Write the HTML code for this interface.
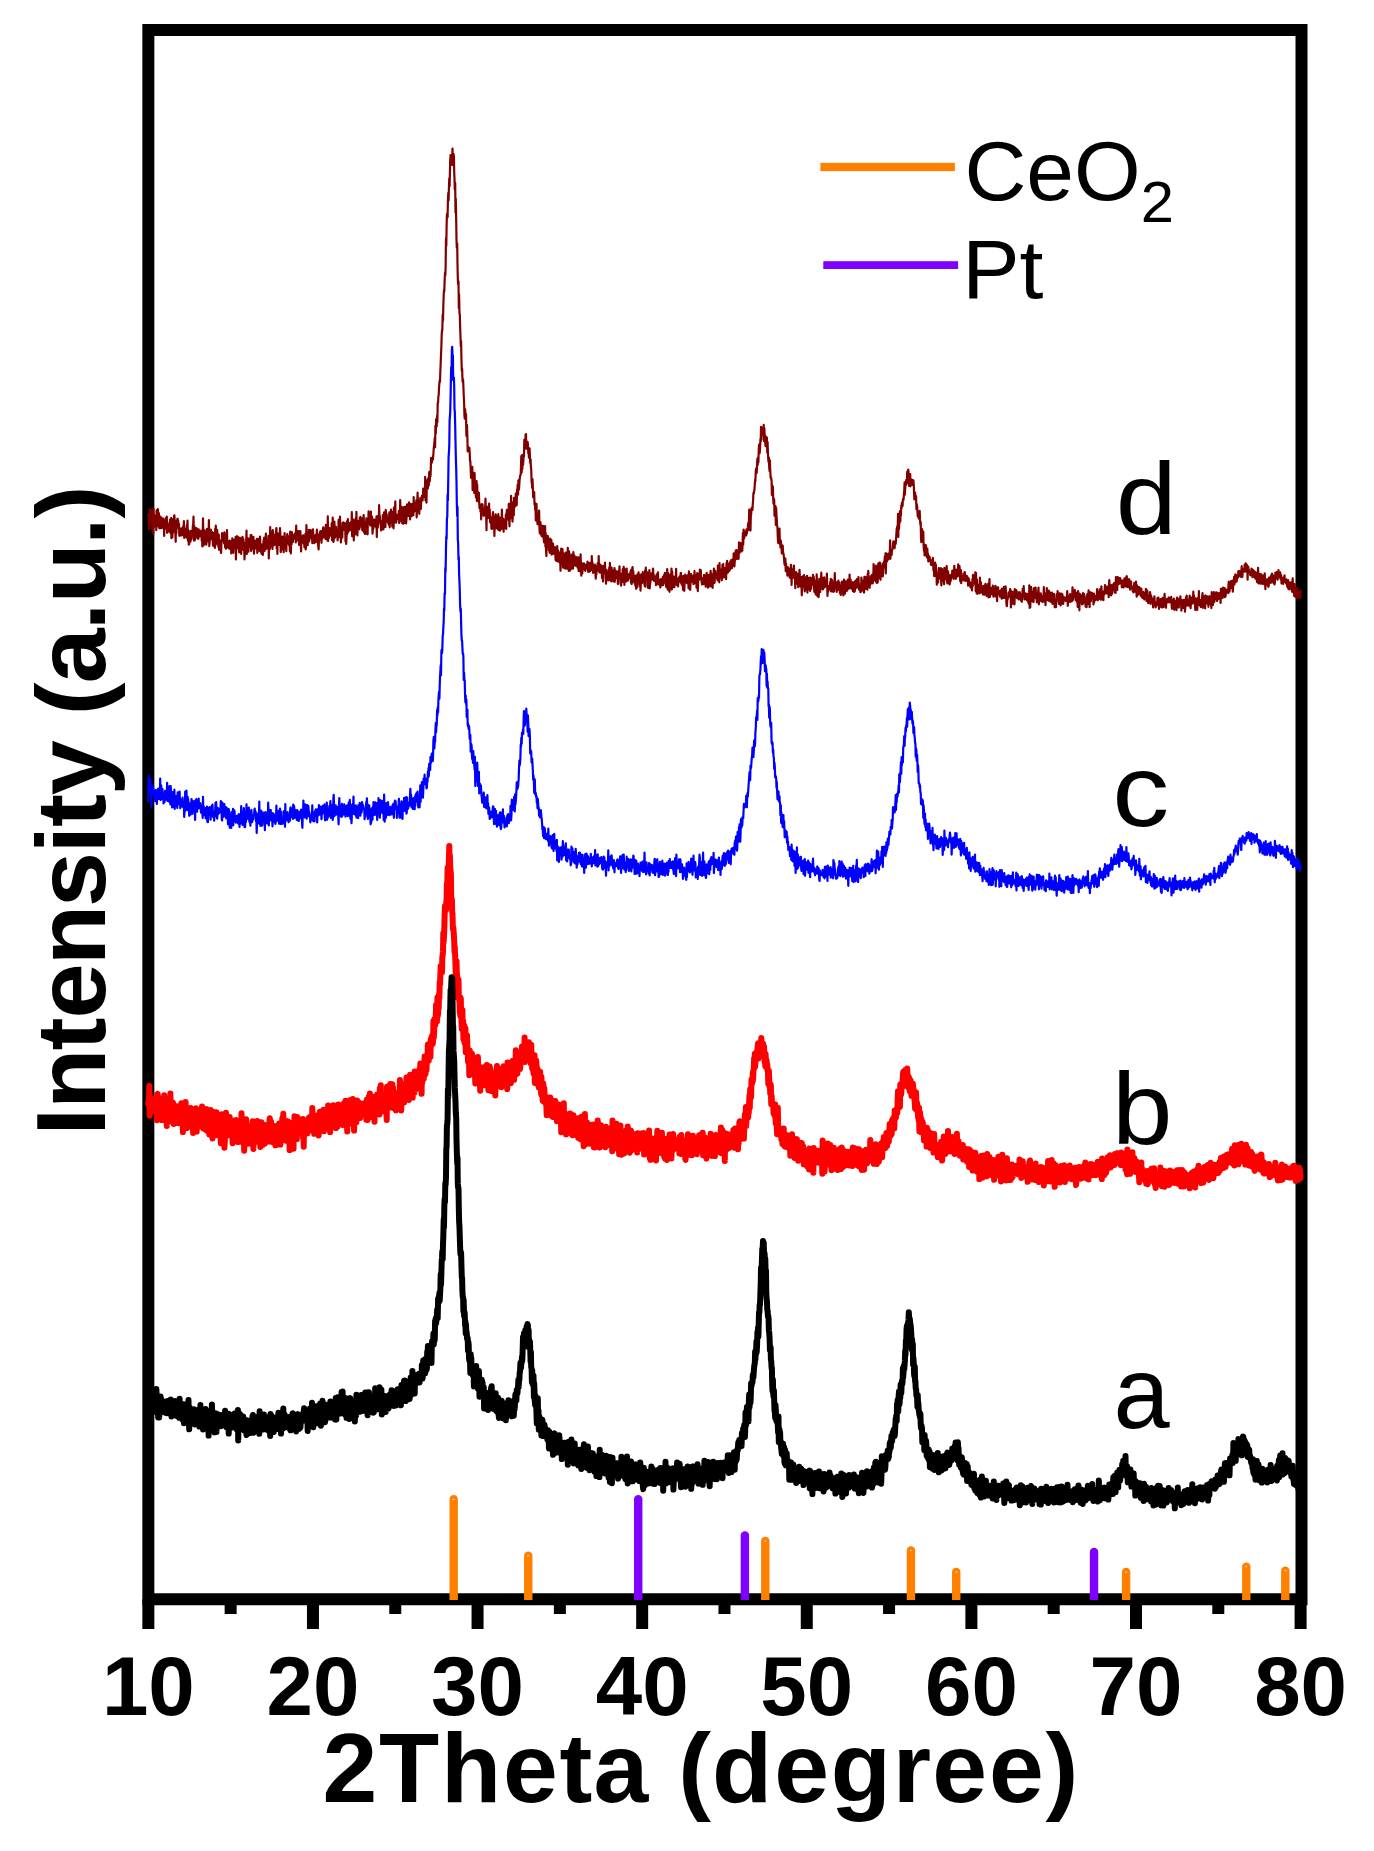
<!DOCTYPE html>
<html><head><meta charset="utf-8"><title>XRD</title>
<style>html,body{margin:0;padding:0;background:#fff;overflow:hidden}svg{display:block}text{font-family:"Liberation Sans",sans-serif}</style>
</head><body>
<svg width="1374" height="1851" viewBox="0 0 1374 1851">
<rect width="1374" height="1851" fill="#fff"/>
<g font-family="Liberation Sans, sans-serif" fill="#000">
<text x="148.35" y="1714.8" font-size="83.5" font-weight="bold" text-anchor="middle">10</text>
<text x="312.96" y="1714.8" font-size="83.5" font-weight="bold" text-anchor="middle">20</text>
<text x="477.56" y="1714.8" font-size="83.5" font-weight="bold" text-anchor="middle">30</text>
<text x="642.17" y="1714.8" font-size="83.5" font-weight="bold" text-anchor="middle">40</text>
<text x="806.78" y="1714.8" font-size="83.5" font-weight="bold" text-anchor="middle">50</text>
<text x="971.39" y="1714.8" font-size="83.5" font-weight="bold" text-anchor="middle">60</text>
<text x="1135.99" y="1714.8" font-size="83.5" font-weight="bold" text-anchor="middle">70</text>
<text x="1300.60" y="1714.8" font-size="83.5" font-weight="bold" text-anchor="middle">80</text>
<text transform="translate(0 1801.7) scale(1 1.0064)" x="322.4 378.9 441.0 503.1 559.6 593.5 650.0 678.2 712.1 774.2 830.7 892.8 932.3 988.9 1045.4" y="0" font-size="98.5" font-weight="bold">2Theta (degree)</text>
<text transform="translate(104.9 1128.9) rotate(-90)" x="-6.6 20.0 78.4 110.3 163.6 222.0 275.3 301.9 333.7 387.0 413.6 445.5 498.7 525.3 583.8 610.4" y="0" font-size="99.0" font-weight="bold">Intensity (a.u.)</text>
<text transform="matrix(0.8572 0 0 0.8418 964.45 199.68)" font-size="100" font-weight="normal">CeO</text>
<text transform="matrix(0.5971 0 0 0.5743 1140.80 222.10)" font-size="100" font-weight="normal">2</text>
<text transform="matrix(0.8603 0 0 0.8350 962.24 298.25)" font-size="100" font-weight="normal">Pt</text>
<text transform="matrix(1.0963 0 0 1.0240 1115.80 534.00)" font-size="100" font-weight="normal">d</text>
<text transform="matrix(1.1388 0 0 1.0185 1112.26 826.01)" font-size="100" font-weight="normal">c</text>
<text transform="matrix(1.0874 0 0 1.0240 1112.09 1144.00)" font-size="100" font-weight="normal">b</text>
<text transform="matrix(1.0104 0 0 1.0185 1113.51 1427.91)" font-size="100" font-weight="normal">a</text>
</g>
<path d="M148.35 29.9H1301.5V1599.35H148.35Z" fill="none" stroke="#000" stroke-width="12" stroke-linejoin="miter"/>
<rect x="142.35" y="1599" width="12" height="30" fill="#000"/>
<rect x="224.65" y="1599" width="12" height="15" fill="#000"/>
<rect x="306.96" y="1599" width="12" height="30" fill="#000"/>
<rect x="389.26" y="1599" width="12" height="15" fill="#000"/>
<rect x="471.56" y="1599" width="12" height="30" fill="#000"/>
<rect x="553.87" y="1599" width="12" height="15" fill="#000"/>
<rect x="636.17" y="1599" width="12" height="30" fill="#000"/>
<rect x="718.48" y="1599" width="12" height="15" fill="#000"/>
<rect x="800.78" y="1599" width="12" height="30" fill="#000"/>
<rect x="883.08" y="1599" width="12" height="15" fill="#000"/>
<rect x="965.39" y="1599" width="12" height="30" fill="#000"/>
<rect x="1047.69" y="1599" width="12" height="15" fill="#000"/>
<rect x="1129.99" y="1599" width="12" height="30" fill="#000"/>
<rect x="1212.30" y="1599" width="12" height="15" fill="#000"/>
<rect x="1294.60" y="1599" width="12" height="30" fill="#000"/>
<path d="M148.3 514.8L148.7 517.7 149.0 528.9 149.3 522.9 149.7 509.2 150.0 519.2 150.3 515.6 150.7 520.3 151.0 509.9 151.3 521.1 151.6 521.1 152.0 529.3 152.3 521.8 152.6 523.1 153.0 511.2 153.3 533.8 153.6 508.8 153.9 527.1 154.3 518.6 154.6 515.4 154.9 516.8 155.3 516.8 155.6 523.2 155.9 520.4 156.3 530.1 156.6 510.3 156.9 521.4 157.2 516.1 157.6 526.2 157.9 509.0 158.2 519.7 158.6 523.1 158.9 513.1 159.2 528.0 159.5 523.3 159.9 528.3 160.2 528.2 160.5 516.6 160.9 517.8 161.2 521.5 161.5 527.3 161.8 528.0 162.2 518.8 162.5 519.5 162.8 518.4 163.2 519.8 163.5 522.0 163.8 522.7 164.2 536.0 164.5 520.7 164.8 522.1 165.1 526.7 165.5 518.3 165.8 521.9 166.1 524.3 166.5 529.0 166.8 516.6 167.1 532.8 167.4 522.5 167.8 525.8 168.1 529.9 168.4 528.9 168.8 531.4 169.1 526.2 169.4 525.2 169.7 527.3 170.1 519.5 170.4 532.9 170.7 521.0 171.1 518.2 171.4 538.2 171.7 525.2 172.1 519.0 172.4 537.3 172.7 524.3 173.0 532.8 173.4 521.5 173.7 525.1 174.0 516.6 174.4 515.3 174.7 521.0 175.0 526.5 175.3 531.9 175.7 541.8 176.0 521.1 176.3 533.4 176.7 523.9 177.0 526.7 177.3 518.8 177.7 518.9 178.0 523.2 178.3 520.8 178.6 528.1 179.0 524.0 179.3 535.8 179.6 529.3 180.0 529.5 180.3 535.4 180.6 531.8 180.9 528.6 181.3 528.3 181.6 528.3 181.9 535.5 182.3 533.9 182.6 531.5 182.9 534.2 183.2 526.2 183.6 532.6 183.9 521.2 184.2 537.9 184.6 530.4 184.9 531.1 185.2 533.7 185.6 530.1 185.9 528.7 186.2 537.5 186.5 531.2 186.9 525.1 187.2 533.3 187.5 520.5 187.9 540.8 188.2 529.9 188.5 531.3 188.8 544.7 189.2 544.1 189.5 532.0 189.8 535.2 190.2 538.1 190.5 541.7 190.8 530.9 191.1 532.6 191.5 539.3 191.8 533.6 192.1 536.6 192.5 535.9 192.8 525.5 193.1 527.2 193.5 516.6 193.8 531.0 194.1 540.7 194.4 526.1 194.8 540.3 195.1 539.0 195.4 532.7 195.8 533.1 196.1 533.7 196.4 528.2 196.7 531.7 197.1 533.2 197.4 537.3 197.7 538.5 198.1 529.3 198.4 538.8 198.7 529.3 199.0 533.1 199.4 536.4 199.7 534.1 200.0 533.6 200.4 536.1 200.7 531.2 201.0 530.7 201.4 533.5 201.7 540.6 202.0 534.3 202.3 546.4 202.7 536.4 203.0 518.4 203.3 532.6 203.7 545.4 204.0 535.5 204.3 532.9 204.6 530.4 205.0 543.7 205.3 541.8 205.6 539.9 206.0 538.6 206.3 544.7 206.6 541.1 207.0 528.9 207.3 541.0 207.6 537.5 207.9 535.9 208.3 541.2 208.6 536.9 208.9 520.0 209.3 546.2 209.6 543.2 209.9 536.3 210.2 534.9 210.6 538.6 210.9 529.6 211.2 539.2 211.6 536.1 211.9 535.4 212.2 532.1 212.5 533.7 212.9 544.4 213.2 545.9 213.5 541.0 213.9 537.8 214.2 532.9 214.5 542.5 214.9 548.0 215.2 528.7 215.5 545.5 215.8 525.6 216.2 536.6 216.5 541.0 216.8 530.6 217.2 529.8 217.5 540.1 217.8 544.3 218.1 536.2 218.5 547.2 218.8 534.6 219.1 549.8 219.5 540.1 219.8 540.9 220.1 543.2 220.4 541.6 220.8 550.8 221.1 553.0 221.4 543.1 221.8 538.9 222.1 533.0 222.4 535.6 222.8 540.2 223.1 539.6 223.4 540.0 223.7 540.4 224.1 543.4 224.4 532.4 224.7 534.4 225.1 547.4 225.4 545.7 225.7 537.6 226.0 548.6 226.4 536.9 226.7 539.5 227.0 530.1 227.4 546.2 227.7 541.1 228.0 547.6 228.3 545.6 228.7 542.0 229.0 542.4 229.3 548.7 229.7 540.6 230.0 540.8 230.3 542.2 230.7 546.6 231.0 547.4 231.3 553.4 231.6 541.6 232.0 549.7 232.3 538.3 232.6 545.9 233.0 543.1 233.3 552.8 233.6 546.1 233.9 539.9 234.3 546.1 234.6 544.7 234.9 540.8 235.3 541.0 235.6 537.2 235.9 559.4 236.3 543.8 236.6 548.8 236.9 536.1 237.2 536.6 237.6 542.2 237.9 542.3 238.2 548.1 238.6 537.3 238.9 546.6 239.2 552.5 239.5 538.0 239.9 548.9 240.2 537.8 240.5 545.6 240.9 545.8 241.2 554.0 241.5 539.5 241.8 544.7 242.2 550.0 242.5 536.8 242.8 543.8 243.2 538.7 243.5 539.7 243.8 548.0 244.2 548.2 244.5 559.4 244.8 552.3 245.1 551.8 245.5 543.1 245.8 542.3 246.1 545.0 246.5 530.5 246.8 554.1 247.1 540.2 247.4 537.9 247.8 541.5 248.1 549.5 248.4 551.7 248.8 542.0 249.1 546.9 249.4 544.0 249.7 538.4 250.1 545.4 250.4 544.5 250.7 535.2 251.1 551.0 251.4 535.0 251.7 545.8 252.1 538.1 252.4 539.5 252.7 540.2 253.0 548.6 253.4 536.9 253.7 543.3 254.0 553.7 254.4 540.3 254.7 544.3 255.0 548.4 255.3 541.0 255.7 547.3 256.0 540.5 256.3 548.7 256.7 544.8 257.0 538.9 257.3 552.9 257.6 543.9 258.0 542.8 258.3 538.9 258.6 541.7 259.0 543.9 259.3 545.5 259.6 551.0 260.0 536.6 260.3 542.4 260.6 551.6 260.9 545.5 261.3 546.9 261.6 553.9 261.9 546.4 262.3 547.2 262.6 544.1 262.9 554.9 263.2 550.6 263.6 540.0 263.9 547.6 264.2 537.5 264.6 550.8 264.9 548.3 265.2 543.3 265.6 541.8 265.9 533.5 266.2 548.8 266.5 543.5 266.9 542.3 267.2 548.5 267.5 540.1 267.9 540.6 268.2 539.9 268.5 535.9 268.8 558.4 269.2 542.8 269.5 541.9 269.8 549.3 270.2 527.2 270.5 543.7 270.8 543.9 271.1 538.0 271.5 546.5 271.8 531.6 272.1 543.7 272.5 548.9 272.8 530.2 273.1 534.7 273.5 542.4 273.8 543.1 274.1 539.2 274.4 545.1 274.8 544.3 275.1 534.7 275.4 542.1 275.8 535.0 276.1 530.1 276.4 528.0 276.7 548.5 277.1 541.5 277.4 553.9 277.7 533.4 278.1 540.0 278.4 544.1 278.7 541.2 279.0 545.0 279.4 542.8 279.7 538.3 280.0 528.0 280.4 536.2 280.7 552.1 281.0 546.4 281.4 550.0 281.7 538.3 282.0 540.6 282.3 536.5 282.7 544.1 283.0 542.1 283.3 544.4 283.7 552.2 284.0 536.6 284.3 546.0 284.6 533.1 285.0 548.1 285.3 538.8 285.6 541.0 286.0 542.2 286.3 551.1 286.6 541.0 286.9 538.2 287.3 534.1 287.6 542.7 287.9 535.9 288.3 538.0 288.6 540.8 288.9 544.9 289.3 536.5 289.6 544.8 289.9 551.3 290.2 531.7 290.6 548.7 290.9 553.4 291.2 536.9 291.6 544.1 291.9 532.2 292.2 542.3 292.5 538.3 292.9 542.0 293.2 534.6 293.5 535.1 293.9 537.3 294.2 535.7 294.5 536.1 294.9 538.5 295.2 533.0 295.5 538.7 295.8 542.4 296.2 525.6 296.5 540.5 296.8 534.8 297.2 532.5 297.5 531.1 297.8 533.9 298.1 534.5 298.5 540.9 298.8 531.2 299.1 544.9 299.5 533.8 299.8 542.7 300.1 545.0 300.4 531.2 300.8 544.8 301.1 551.5 301.4 535.8 301.8 541.9 302.1 537.7 302.4 538.9 302.8 537.3 303.1 535.4 303.4 542.7 303.7 543.6 304.1 538.3 304.4 547.3 304.7 544.7 305.1 542.4 305.4 533.9 305.7 549.4 306.0 545.9 306.4 525.2 306.7 531.3 307.0 535.0 307.4 543.4 307.7 545.2 308.0 536.0 308.3 539.1 308.7 541.7 309.0 529.9 309.3 540.9 309.7 535.5 310.0 538.4 310.3 536.9 310.7 530.1 311.0 531.1 311.3 537.2 311.6 537.7 312.0 535.3 312.3 543.1 312.6 534.5 313.0 529.4 313.3 534.5 313.6 535.4 313.9 535.6 314.3 543.2 314.6 539.3 314.9 542.4 315.3 539.8 315.6 535.0 315.9 542.1 316.2 534.3 316.6 537.2 316.9 529.7 317.2 536.2 317.6 533.6 317.9 537.7 318.2 546.2 318.6 549.4 318.9 541.3 319.2 535.0 319.5 540.0 319.9 536.3 320.2 531.3 320.5 534.4 320.9 533.2 321.2 531.1 321.5 542.8 321.8 531.3 322.2 531.5 322.5 538.5 322.8 530.1 323.2 527.3 323.5 529.0 323.8 536.9 324.2 536.2 324.5 535.6 324.8 531.0 325.1 528.3 325.5 539.0 325.8 524.9 326.1 532.2 326.5 525.5 326.8 530.9 327.1 532.3 327.4 540.4 327.8 516.3 328.1 541.1 328.4 527.6 328.8 534.6 329.1 537.6 329.4 528.1 329.7 532.1 330.1 535.5 330.4 531.7 330.7 528.0 331.1 533.4 331.4 532.9 331.7 523.2 332.1 540.2 332.4 533.3 332.7 517.5 333.0 526.9 333.4 542.0 333.7 541.1 334.0 533.2 334.4 521.5 334.7 530.1 335.0 537.7 335.3 533.7 335.7 529.3 336.0 526.8 336.3 536.0 336.7 529.7 337.0 532.9 337.3 533.8 337.6 540.5 338.0 531.8 338.3 532.2 338.6 519.9 339.0 537.1 339.3 535.7 339.6 530.2 340.0 516.7 340.3 526.8 340.6 530.5 340.9 542.5 341.3 533.4 341.6 534.6 341.9 534.6 342.3 537.6 342.6 522.9 342.9 524.5 343.2 522.4 343.6 527.7 343.9 527.2 344.2 529.8 344.6 523.0 344.9 529.6 345.2 523.9 345.5 541.5 345.9 525.6 346.2 543.9 346.5 538.4 346.9 521.4 347.2 534.2 347.5 532.0 347.9 519.2 348.2 531.9 348.5 527.6 348.8 530.2 349.2 523.0 349.5 527.6 349.8 530.3 350.2 526.7 350.5 524.1 350.8 526.7 351.1 521.8 351.5 529.5 351.8 512.2 352.1 536.3 352.5 527.7 352.8 530.0 353.1 532.2 353.5 519.7 353.8 540.5 354.1 520.3 354.4 529.6 354.8 528.7 355.1 534.5 355.4 526.6 355.8 518.2 356.1 528.4 356.4 511.8 356.7 525.2 357.1 523.5 357.4 535.5 357.7 524.5 358.1 523.4 358.4 521.5 358.7 520.8 359.0 522.5 359.4 529.3 359.7 517.8 360.0 524.4 360.4 516.8 360.7 524.5 361.0 526.4 361.4 518.0 361.7 521.8 362.0 525.8 362.3 529.7 362.7 530.7 363.0 524.3 363.3 518.9 363.7 515.2 364.0 529.4 364.3 533.0 364.6 526.8 365.0 533.9 365.3 521.8 365.6 522.1 366.0 533.7 366.3 518.3 366.6 527.8 366.9 526.5 367.3 525.0 367.6 534.3 367.9 518.7 368.3 521.4 368.6 511.4 368.9 517.5 369.3 520.7 369.6 521.3 369.9 522.4 370.2 525.3 370.6 519.5 370.9 511.6 371.2 524.2 371.6 525.8 371.9 516.3 372.2 518.4 372.5 533.6 372.9 529.1 373.2 529.4 373.5 526.9 373.9 523.7 374.2 519.7 374.5 526.1 374.8 521.4 375.2 519.9 375.5 522.4 375.8 522.0 376.2 527.7 376.5 516.6 376.8 537.1 377.2 516.2 377.5 519.6 377.8 527.7 378.1 517.0 378.5 519.0 378.8 522.0 379.1 505.2 379.5 518.7 379.8 515.9 380.1 520.1 380.4 524.5 380.8 525.3 381.1 530.4 381.4 529.9 381.8 527.4 382.1 521.0 382.4 527.4 382.8 515.1 383.1 520.4 383.4 529.5 383.7 525.6 384.1 512.4 384.4 517.2 384.7 526.1 385.1 524.3 385.4 527.0 385.7 509.9 386.0 512.8 386.4 518.8 386.7 514.4 387.0 520.0 387.4 520.2 387.7 522.1 388.0 519.2 388.3 523.3 388.7 524.5 389.0 520.7 389.3 512.4 389.7 527.3 390.0 520.8 390.3 522.0 390.7 520.4 391.0 509.7 391.3 522.7 391.6 515.2 392.0 511.8 392.3 526.6 392.6 517.1 393.0 520.5 393.3 524.0 393.6 528.3 393.9 507.7 394.3 514.0 394.6 522.4 394.9 514.2 395.3 501.4 395.6 518.9 395.9 519.3 396.2 522.6 396.6 519.1 396.9 515.0 397.2 518.8 397.6 517.2 397.9 514.3 398.2 518.7 398.6 519.2 398.9 510.9 399.2 523.0 399.5 521.7 399.9 521.3 400.2 500.1 400.5 517.1 400.9 515.5 401.2 510.2 401.5 519.5 401.8 506.9 402.2 523.1 402.5 517.9 402.8 512.4 403.2 523.8 403.5 517.9 403.8 517.0 404.1 507.1 404.5 517.9 404.8 523.0 405.1 521.0 405.5 506.5 405.8 522.4 406.1 523.5 406.5 518.8 406.8 511.2 407.1 504.3 407.4 507.7 407.8 509.5 408.1 514.4 408.4 515.8 408.8 507.9 409.1 502.3 409.4 509.4 409.7 503.7 410.1 519.4 410.4 503.8 410.7 513.8 411.1 515.6 411.4 504.5 411.7 516.2 412.1 509.0 412.4 504.8 412.7 503.6 413.0 509.7 413.4 515.2 413.7 497.0 414.0 511.8 414.4 506.9 414.7 503.0 415.0 506.5 415.3 506.8 415.7 506.2 416.0 511.1 416.3 500.4 416.7 517.4 417.0 510.5 417.3 501.1 417.6 492.7 418.0 503.8 418.3 501.0 418.6 507.6 419.0 507.0 419.3 513.8 419.6 501.0 420.0 506.1 420.3 498.2 420.6 498.0 420.9 509.0 421.3 498.4 421.6 498.0 421.9 495.9 422.3 499.4 422.6 500.4 422.9 495.4 423.2 488.5 423.6 496.9 423.9 489.1 424.2 491.2 424.6 493.9 424.9 493.3 425.2 476.8 425.5 500.4 425.9 494.0 426.2 500.0 426.5 502.6 426.9 480.4 427.2 481.6 427.5 485.5 427.9 488.5 428.2 478.4 428.5 478.3 428.8 485.5 429.2 472.1 429.5 477.4 429.8 481.3 430.2 471.4 430.5 476.2 430.8 468.9 431.1 457.9 431.5 462.5 431.8 462.7 432.1 459.8 432.5 459.9 432.8 459.9 433.1 456.9 433.4 453.8 433.8 447.3 434.1 446.0 434.4 442.2 434.8 437.9 435.1 447.3 435.4 425.9 435.8 433.6 436.1 419.2 436.4 421.2 436.7 426.4 437.1 415.5 437.4 422.3 437.7 402.9 438.1 402.7 438.4 395.9 438.7 395.3 439.0 388.2 439.4 382.7 439.7 380.4 440.0 381.7 440.4 369.7 440.7 363.2 441.0 354.8 441.4 345.7 441.7 334.7 442.0 330.3 442.3 330.8 442.7 314.3 443.0 320.9 443.3 306.3 443.7 295.3 444.0 290.4 444.3 291.1 444.6 281.3 445.0 272.8 445.3 275.5 445.6 268.1 446.0 238.4 446.3 246.0 446.6 226.5 446.9 214.5 447.3 213.2 447.6 217.3 447.9 200.7 448.3 192.9 448.6 200.5 448.9 188.1 449.3 178.4 449.6 186.3 449.9 173.4 450.2 160.7 450.6 155.0 450.9 157.5 451.2 160.2 451.6 164.7 451.9 163.3 452.2 157.7 452.5 148.5 452.9 165.2 453.2 160.5 453.5 153.8 453.9 156.1 454.2 171.8 454.5 178.9 454.8 189.6 455.2 182.9 455.5 212.6 455.8 198.9 456.2 220.0 456.5 240.0 456.8 247.8 457.2 243.5 457.5 264.5 457.8 278.5 458.1 284.3 458.5 281.3 458.8 308.2 459.1 294.6 459.5 313.7 459.8 313.9 460.1 325.8 460.4 333.7 460.8 346.2 461.1 341.0 461.4 357.4 461.8 370.7 462.1 368.5 462.4 377.3 462.7 382.0 463.1 379.5 463.4 387.1 463.7 394.7 464.1 402.2 464.4 414.4 464.7 418.6 465.1 409.2 465.4 413.5 465.7 413.7 466.0 414.3 466.4 435.9 466.7 434.5 467.0 424.9 467.4 437.8 467.7 451.4 468.0 447.0 468.3 450.1 468.7 451.0 469.0 447.6 469.3 447.7 469.7 452.4 470.0 461.0 470.3 460.9 470.7 469.0 471.0 477.8 471.3 472.7 471.6 476.2 472.0 470.8 472.3 466.9 472.6 490.1 473.0 483.0 473.3 487.5 473.6 479.5 473.9 472.9 474.3 493.0 474.6 473.1 474.9 486.7 475.3 485.8 475.6 491.7 475.9 496.5 476.2 497.8 476.6 481.1 476.9 501.1 477.2 484.5 477.6 501.2 477.9 495.5 478.2 492.2 478.6 496.8 478.9 492.9 479.2 501.7 479.5 508.3 479.9 508.3 480.2 504.5 480.5 511.6 480.9 508.7 481.2 519.4 481.5 510.2 481.8 504.1 482.2 506.6 482.5 504.3 482.8 507.7 483.2 509.2 483.5 514.7 483.8 515.8 484.1 512.0 484.5 514.7 484.8 508.2 485.1 509.8 485.5 498.7 485.8 509.3 486.1 511.4 486.5 530.2 486.8 507.0 487.1 515.9 487.4 513.9 487.8 506.8 488.1 518.1 488.4 517.0 488.8 508.5 489.1 503.5 489.4 517.5 489.7 509.5 490.1 522.4 490.4 517.0 490.7 522.1 491.1 517.4 491.4 528.7 491.7 523.8 492.0 529.0 492.4 520.8 492.7 514.2 493.0 512.0 493.4 517.7 493.7 522.6 494.0 517.3 494.4 535.9 494.7 521.0 495.0 524.3 495.3 522.2 495.7 514.3 496.0 528.3 496.3 525.9 496.7 527.3 497.0 516.6 497.3 522.4 497.6 522.2 498.0 529.5 498.3 514.2 498.6 526.6 499.0 530.2 499.3 520.1 499.6 517.7 500.0 530.6 500.3 524.1 500.6 529.4 500.9 527.1 501.3 528.9 501.6 521.3 501.9 509.6 502.3 525.9 502.6 518.1 502.9 525.8 503.2 518.8 503.6 531.6 503.9 520.1 504.2 526.4 504.6 527.9 504.9 520.6 505.2 522.8 505.5 520.5 505.9 514.7 506.2 528.9 506.5 514.2 506.9 509.9 507.2 515.9 507.5 519.4 507.9 518.6 508.2 515.7 508.5 514.6 508.8 503.9 509.2 520.1 509.5 526.3 509.8 510.8 510.2 503.7 510.5 518.5 510.8 512.3 511.1 495.8 511.5 507.3 511.8 502.2 512.1 503.1 512.5 521.6 512.8 514.6 513.1 506.7 513.4 506.8 513.8 515.3 514.1 497.8 514.4 508.0 514.8 498.3 515.1 506.2 515.4 501.1 515.8 493.7 516.1 503.5 516.4 498.8 516.7 505.3 517.1 489.7 517.4 491.4 517.7 484.5 518.1 494.6 518.4 480.4 518.7 483.1 519.0 489.4 519.4 482.5 519.7 478.9 520.0 476.7 520.4 475.0 520.7 474.7 521.0 466.5 521.3 456.1 521.7 472.5 522.0 455.1 522.3 469.3 522.7 459.5 523.0 465.2 523.3 461.3 523.7 454.7 524.0 456.2 524.3 439.9 524.6 448.6 525.0 444.0 525.3 445.6 525.6 434.5 526.0 434.1 526.3 448.7 526.6 444.4 526.9 441.5 527.3 444.5 527.6 441.9 527.9 444.4 528.3 453.5 528.6 449.6 528.9 457.7 529.3 451.1 529.6 448.3 529.9 456.7 530.2 462.8 530.6 459.4 530.9 467.0 531.2 469.2 531.6 481.2 531.9 483.5 532.2 488.0 532.5 479.1 532.9 488.8 533.2 497.4 533.5 493.1 533.9 494.0 534.2 492.1 534.5 504.4 534.8 502.6 535.2 509.8 535.5 504.8 535.8 520.4 536.2 509.5 536.5 503.9 536.8 514.4 537.2 517.8 537.5 524.3 537.8 515.1 538.1 516.1 538.5 519.2 538.8 519.7 539.1 510.5 539.5 529.0 539.8 533.4 540.1 522.3 540.4 522.0 540.8 528.2 541.1 525.1 541.4 535.7 541.8 528.1 542.1 536.4 542.4 526.1 542.7 525.9 543.1 525.8 543.4 527.4 543.7 539.2 544.1 542.4 544.4 538.9 544.7 540.0 545.1 526.1 545.4 546.6 545.7 533.1 546.0 548.9 546.4 556.1 546.7 542.5 547.0 546.4 547.4 546.9 547.7 535.8 548.0 537.4 548.3 540.5 548.7 545.9 549.0 550.4 549.3 546.6 549.7 552.8 550.0 543.6 550.3 538.7 550.6 547.6 551.0 547.5 551.3 539.8 551.6 554.6 552.0 543.2 552.3 544.9 552.6 550.9 553.0 543.5 553.3 553.8 553.6 552.8 553.9 553.5 554.3 551.1 554.6 548.6 554.9 547.2 555.3 553.8 555.6 560.3 555.9 557.2 556.2 555.0 556.6 559.0 556.9 561.2 557.2 546.2 557.6 553.6 557.9 561.3 558.2 550.6 558.6 551.9 558.9 558.5 559.2 553.8 559.5 562.4 559.9 553.7 560.2 559.3 560.5 570.8 560.9 563.0 561.2 548.5 561.5 550.5 561.8 550.9 562.2 556.8 562.5 549.0 562.8 560.7 563.2 567.7 563.5 567.0 563.8 553.5 564.1 556.5 564.5 556.6 564.8 553.7 565.1 568.6 565.5 554.8 565.8 552.5 566.1 561.3 566.5 561.3 566.8 568.4 567.1 568.7 567.4 558.8 567.8 547.8 568.1 564.1 568.4 565.0 568.8 570.9 569.1 551.4 569.4 554.0 569.7 570.0 570.1 570.5 570.4 568.7 570.7 561.2 571.1 569.0 571.4 558.4 571.7 554.5 572.0 561.5 572.4 562.6 572.7 566.8 573.0 568.6 573.4 552.1 573.7 564.1 574.0 565.5 574.4 555.4 574.7 561.3 575.0 563.3 575.3 565.7 575.7 558.3 576.0 559.9 576.3 557.1 576.7 565.6 577.0 561.8 577.3 560.5 577.6 567.7 578.0 563.1 578.3 557.3 578.6 570.9 579.0 570.1 579.3 567.3 579.6 558.7 579.9 571.3 580.3 561.6 580.6 554.3 580.9 564.5 581.3 575.7 581.6 562.8 581.9 568.9 582.3 573.5 582.6 566.8 582.9 564.1 583.2 566.1 583.6 569.4 583.9 563.3 584.2 568.3 584.6 569.6 584.9 564.4 585.2 570.8 585.5 570.0 585.9 565.0 586.2 565.9 586.5 567.7 586.9 566.3 587.2 566.1 587.5 561.5 587.9 568.1 588.2 571.8 588.5 571.3 588.8 563.1 589.2 571.1 589.5 571.5 589.8 562.8 590.2 571.2 590.5 567.3 590.8 566.3 591.1 569.8 591.5 567.4 591.8 556.0 592.1 570.0 592.5 562.5 592.8 568.4 593.1 572.9 593.4 567.8 593.8 566.7 594.1 570.1 594.4 572.2 594.8 564.7 595.1 566.0 595.4 572.4 595.8 578.7 596.1 569.8 596.4 574.8 596.7 565.8 597.1 570.1 597.4 570.5 597.7 563.0 598.1 570.2 598.4 569.3 598.7 556.1 599.0 570.0 599.4 572.2 599.7 572.0 600.0 572.5 600.4 564.5 600.7 566.7 601.0 569.8 601.3 566.0 601.7 568.4 602.0 577.9 602.3 566.2 602.7 569.3 603.0 581.5 603.3 570.6 603.7 565.8 604.0 573.0 604.3 572.6 604.6 572.5 605.0 562.6 605.3 573.5 605.6 574.1 606.0 583.6 606.3 576.0 606.6 569.9 606.9 574.2 607.3 576.2 607.6 571.8 607.9 572.5 608.3 580.4 608.6 575.6 608.9 575.9 609.2 567.7 609.6 575.6 609.9 562.8 610.2 580.2 610.6 570.9 610.9 577.1 611.2 581.4 611.6 567.7 611.9 580.3 612.2 575.2 612.5 580.4 612.9 572.1 613.2 570.3 613.5 581.4 613.9 576.6 614.2 574.7 614.5 568.1 614.8 581.8 615.2 572.7 615.5 573.4 615.8 570.9 616.2 574.8 616.5 578.1 616.8 574.5 617.2 574.4 617.5 571.9 617.8 583.2 618.1 584.0 618.5 573.5 618.8 570.3 619.1 576.6 619.5 566.3 619.8 576.6 620.1 576.8 620.4 576.3 620.8 584.2 621.1 585.6 621.4 578.0 621.8 573.6 622.1 581.3 622.4 582.0 622.7 569.2 623.1 571.8 623.4 574.4 623.7 566.8 624.1 569.8 624.4 585.0 624.7 569.1 625.1 580.7 625.4 571.7 625.7 581.6 626.0 578.0 626.4 581.2 626.7 568.7 627.0 578.0 627.4 573.3 627.7 580.6 628.0 580.4 628.3 577.5 628.7 575.9 629.0 576.6 629.3 578.1 629.7 573.9 630.0 574.4 630.3 573.3 630.6 571.1 631.0 582.6 631.3 569.7 631.6 584.1 632.0 580.9 632.3 567.7 632.6 567.1 633.0 577.2 633.3 571.3 633.6 577.9 633.9 582.4 634.3 579.2 634.6 576.1 634.9 576.3 635.3 585.4 635.6 575.5 635.9 586.9 636.2 588.7 636.6 575.6 636.9 579.3 637.2 587.1 637.6 574.0 637.9 580.2 638.2 583.6 638.6 572.3 638.9 580.0 639.2 578.7 639.5 575.2 639.9 586.5 640.2 577.4 640.5 590.6 640.9 582.1 641.2 574.4 641.5 579.8 641.8 574.2 642.2 582.8 642.5 582.0 642.8 572.0 643.2 576.2 643.5 581.1 643.8 578.9 644.1 573.3 644.5 584.5 644.8 586.0 645.1 570.6 645.5 586.7 645.8 567.6 646.1 577.9 646.5 575.1 646.8 575.7 647.1 579.7 647.4 572.4 647.8 578.2 648.1 587.9 648.4 581.3 648.8 586.9 649.1 583.5 649.4 570.1 649.7 588.5 650.1 583.5 650.4 582.5 650.7 576.9 651.1 576.2 651.4 573.4 651.7 578.2 652.0 579.7 652.4 578.2 652.7 578.3 653.0 568.6 653.4 575.1 653.7 574.9 654.0 580.8 654.4 576.8 654.7 576.8 655.0 579.7 655.3 576.7 655.7 577.7 656.0 585.2 656.3 578.4 656.7 574.4 657.0 582.5 657.3 583.6 657.6 582.7 658.0 572.3 658.3 584.4 658.6 579.6 659.0 580.1 659.3 579.9 659.6 581.9 659.9 582.1 660.3 587.4 660.6 580.9 660.9 579.1 661.3 583.0 661.6 579.0 661.9 585.5 662.3 580.5 662.6 583.6 662.9 576.9 663.2 585.0 663.6 583.1 663.9 575.2 664.2 577.7 664.6 580.2 664.9 572.8 665.2 574.0 665.5 582.4 665.9 582.5 666.2 587.0 666.5 573.0 666.9 577.9 667.2 569.1 667.5 589.1 667.9 572.8 668.2 578.5 668.5 590.1 668.8 587.4 669.2 575.3 669.5 591.8 669.8 582.3 670.2 574.4 670.5 581.2 670.8 583.3 671.1 583.2 671.5 568.6 671.8 589.6 672.1 571.3 672.5 578.7 672.8 587.5 673.1 581.9 673.4 579.7 673.8 576.6 674.1 582.9 674.4 587.2 674.8 577.0 675.1 582.1 675.4 577.9 675.8 577.7 676.1 568.9 676.4 581.3 676.7 584.9 677.1 579.2 677.4 585.5 677.7 581.0 678.1 586.5 678.4 580.9 678.7 578.2 679.0 577.5 679.4 580.6 679.7 581.7 680.0 576.0 680.4 579.3 680.7 573.1 681.0 573.0 681.3 583.6 681.7 582.1 682.0 584.8 682.3 580.9 682.7 581.5 683.0 589.8 683.3 575.8 683.7 581.7 684.0 588.4 684.3 590.8 684.6 583.1 685.0 579.6 685.3 574.6 685.6 579.3 686.0 580.9 686.3 580.2 686.6 582.7 686.9 583.0 687.3 577.6 687.6 575.4 687.9 578.5 688.3 582.3 688.6 588.5 688.9 571.4 689.2 585.6 689.6 578.4 689.9 585.7 690.2 589.8 690.6 582.5 690.9 573.9 691.2 577.7 691.6 581.7 691.9 578.1 692.2 579.4 692.5 575.7 692.9 578.6 693.2 576.5 693.5 584.2 693.9 581.3 694.2 583.5 694.5 571.2 694.8 577.3 695.2 575.8 695.5 577.4 695.8 575.0 696.2 575.8 696.5 587.7 696.8 578.1 697.2 573.0 697.5 577.9 697.8 591.1 698.1 583.1 698.5 574.6 698.8 578.1 699.1 579.0 699.5 579.5 699.8 569.7 700.1 574.3 700.4 578.3 700.8 570.2 701.1 578.2 701.4 579.5 701.8 583.1 702.1 584.5 702.4 578.0 702.7 580.1 703.1 582.4 703.4 584.1 703.7 579.2 704.1 574.9 704.4 581.8 704.7 583.1 705.1 579.4 705.4 581.6 705.7 586.8 706.0 575.9 706.4 574.9 706.7 572.8 707.0 580.2 707.4 583.2 707.7 575.7 708.0 587.6 708.3 575.2 708.7 579.5 709.0 577.5 709.3 585.2 709.7 574.7 710.0 586.4 710.3 576.9 710.6 570.8 711.0 574.7 711.3 576.7 711.6 586.2 712.0 574.9 712.3 577.3 712.6 588.0 713.0 577.9 713.3 573.8 713.6 573.1 713.9 568.7 714.3 578.5 714.6 582.8 714.9 574.6 715.3 570.9 715.6 577.6 715.9 576.1 716.2 575.2 716.6 578.1 716.9 575.8 717.2 573.6 717.6 580.5 717.9 565.6 718.2 569.2 718.5 573.4 718.9 567.7 719.2 582.3 719.5 563.0 719.9 577.8 720.2 576.9 720.5 575.5 720.9 575.7 721.2 570.4 721.5 569.4 721.8 580.3 722.2 571.9 722.5 564.9 722.8 565.8 723.2 564.0 723.5 573.2 723.8 577.5 724.1 569.7 724.5 571.8 724.8 568.2 725.1 575.2 725.5 574.8 725.8 574.8 726.1 579.1 726.5 563.1 726.8 573.3 727.1 560.8 727.4 572.3 727.8 572.5 728.1 571.7 728.4 571.8 728.8 566.6 729.1 563.7 729.4 570.6 729.7 563.0 730.1 569.5 730.4 561.1 730.7 566.8 731.1 566.1 731.4 559.9 731.7 562.1 732.0 568.1 732.4 563.0 732.7 565.1 733.0 559.1 733.4 562.0 733.7 553.3 734.0 556.4 734.4 566.4 734.7 562.2 735.0 558.9 735.3 558.9 735.7 550.7 736.0 559.2 736.3 550.1 736.7 552.0 737.0 558.8 737.3 550.7 737.6 551.2 738.0 552.8 738.3 553.1 738.6 558.8 739.0 542.3 739.3 548.3 739.6 552.8 739.9 546.4 740.3 546.1 740.6 543.2 740.9 545.0 741.3 549.2 741.6 551.5 741.9 546.1 742.3 550.6 742.6 543.1 742.9 533.1 743.2 544.8 743.6 529.5 743.9 538.8 744.2 538.2 744.6 531.3 744.9 535.2 745.2 532.5 745.5 535.1 745.9 531.7 746.2 535.5 746.5 529.3 746.9 533.4 747.2 529.1 747.5 529.2 747.8 527.4 748.2 523.0 748.5 530.2 748.8 526.1 749.2 509.7 749.5 513.8 749.8 527.8 750.2 515.8 750.5 530.6 750.8 516.4 751.1 514.8 751.5 508.2 751.8 507.7 752.1 507.8 752.5 509.8 752.8 503.3 753.1 500.4 753.4 493.1 753.8 493.5 754.1 491.2 754.4 490.3 754.8 484.4 755.1 479.7 755.4 481.1 755.8 470.9 756.1 468.7 756.4 469.4 756.7 472.9 757.1 463.9 757.4 458.5 757.7 465.0 758.1 457.5 758.4 462.5 758.7 450.8 759.0 445.1 759.4 444.1 759.7 453.2 760.0 449.3 760.4 439.4 760.7 442.2 761.0 426.9 761.3 440.0 761.7 433.8 762.0 430.6 762.3 430.8 762.7 432.0 763.0 428.2 763.3 428.9 763.7 424.8 764.0 440.9 764.3 428.1 764.6 433.2 765.0 441.0 765.3 443.4 765.6 446.1 766.0 436.6 766.3 439.2 766.6 443.2 766.9 437.6 767.3 452.6 767.6 442.1 767.9 451.7 768.3 459.8 768.6 462.0 768.9 457.6 769.2 467.5 769.6 471.1 769.9 460.3 770.2 469.3 770.6 477.0 770.9 478.6 771.2 477.9 771.6 481.2 771.9 495.1 772.2 485.4 772.5 495.7 772.9 486.5 773.2 498.3 773.5 503.6 773.9 498.6 774.2 500.2 774.5 515.8 774.8 507.6 775.2 516.5 775.5 506.1 775.8 524.9 776.2 508.1 776.5 516.0 776.8 519.9 777.1 524.9 777.5 528.4 777.8 537.8 778.1 542.3 778.5 543.2 778.8 539.7 779.1 538.5 779.5 528.6 779.8 540.5 780.1 539.7 780.4 547.5 780.8 540.7 781.1 543.1 781.4 545.1 781.8 553.5 782.1 552.5 782.4 547.8 782.7 545.5 783.1 552.6 783.4 553.4 783.7 555.0 784.1 559.2 784.4 563.5 784.7 564.8 785.1 558.4 785.4 558.9 785.7 571.2 786.0 563.3 786.4 568.9 786.7 567.1 787.0 568.8 787.4 575.6 787.7 567.2 788.0 574.5 788.3 572.3 788.7 569.5 789.0 568.5 789.3 568.8 789.7 577.7 790.0 577.4 790.3 568.7 790.6 575.4 791.0 564.8 791.3 574.6 791.6 584.9 792.0 569.2 792.3 577.0 792.6 572.8 793.0 576.6 793.3 571.2 793.6 577.7 793.9 565.5 794.3 576.1 794.6 576.1 794.9 577.4 795.3 588.2 795.6 572.6 795.9 575.2 796.2 572.1 796.6 581.5 796.9 579.3 797.2 573.6 797.6 584.2 797.9 581.2 798.2 587.1 798.5 583.9 798.9 580.7 799.2 576.6 799.5 569.9 799.9 577.8 800.2 586.5 800.5 579.9 800.9 577.0 801.2 582.5 801.5 585.1 801.8 595.3 802.2 576.8 802.5 580.0 802.8 576.3 803.2 578.4 803.5 586.6 803.8 581.7 804.1 575.1 804.5 589.0 804.8 591.3 805.1 586.5 805.5 577.8 805.8 577.5 806.1 589.3 806.4 577.9 806.8 580.2 807.1 575.9 807.4 592.7 807.8 580.0 808.1 582.5 808.4 579.7 808.8 580.1 809.1 577.8 809.4 589.1 809.7 580.3 810.1 591.0 810.4 577.5 810.7 586.3 811.1 588.7 811.4 578.3 811.7 585.3 812.0 581.3 812.4 578.7 812.7 582.1 813.0 574.9 813.4 582.8 813.7 576.7 814.0 587.7 814.4 592.0 814.7 591.5 815.0 580.9 815.3 583.9 815.7 594.5 816.0 591.1 816.3 587.9 816.7 574.3 817.0 583.2 817.3 596.0 817.6 587.3 818.0 582.8 818.3 585.5 818.6 597.1 819.0 591.6 819.3 578.9 819.6 579.6 819.9 585.5 820.3 591.9 820.6 581.6 820.9 582.6 821.3 572.7 821.6 582.4 821.9 588.5 822.3 588.6 822.6 578.2 822.9 589.5 823.2 581.4 823.6 578.4 823.9 588.0 824.2 577.3 824.6 583.1 824.9 581.1 825.2 584.7 825.5 586.6 825.9 583.3 826.2 581.3 826.5 582.9 826.9 573.5 827.2 584.9 827.5 595.9 827.8 587.5 828.2 591.6 828.5 586.0 828.8 586.1 829.2 588.3 829.5 589.5 829.8 589.4 830.2 582.0 830.5 586.3 830.8 578.8 831.1 591.5 831.5 586.1 831.8 584.9 832.1 580.0 832.5 588.7 832.8 591.4 833.1 589.0 833.4 592.0 833.8 582.6 834.1 591.1 834.4 586.5 834.8 573.1 835.1 588.0 835.4 581.6 835.7 585.9 836.1 583.3 836.4 582.2 836.7 592.0 837.1 583.9 837.4 587.6 837.7 590.2 838.1 584.8 838.4 580.6 838.7 587.2 839.0 586.4 839.4 582.3 839.7 587.5 840.0 593.3 840.4 591.8 840.7 594.8 841.0 593.9 841.3 588.0 841.7 587.1 842.0 581.6 842.3 593.0 842.7 584.2 843.0 589.9 843.3 595.4 843.7 587.6 844.0 579.5 844.3 581.7 844.6 585.2 845.0 593.6 845.3 585.2 845.6 586.2 846.0 581.4 846.3 588.5 846.6 587.3 846.9 590.8 847.3 581.9 847.6 589.7 847.9 579.5 848.3 583.1 848.6 583.7 848.9 585.4 849.2 588.4 849.6 574.6 849.9 585.8 850.2 584.2 850.6 579.5 850.9 584.5 851.2 588.3 851.6 583.7 851.9 583.5 852.2 589.3 852.5 582.1 852.9 591.1 853.2 587.7 853.5 587.9 853.9 588.7 854.2 591.9 854.5 582.0 854.8 591.3 855.2 581.1 855.5 587.3 855.8 588.4 856.2 586.1 856.5 579.7 856.8 579.1 857.1 579.6 857.5 584.8 857.8 585.8 858.1 587.6 858.5 577.1 858.8 586.3 859.1 589.7 859.5 585.3 859.8 584.3 860.1 588.4 860.4 592.1 860.8 591.5 861.1 591.7 861.4 577.6 861.8 591.0 862.1 582.2 862.4 587.8 862.7 580.5 863.1 585.2 863.4 580.4 863.7 581.7 864.1 592.6 864.4 576.8 864.7 587.6 865.0 582.8 865.4 576.8 865.7 588.8 866.0 582.2 866.4 579.1 866.7 583.4 867.0 577.5 867.4 589.7 867.7 573.8 868.0 578.4 868.3 570.8 868.7 581.8 869.0 584.5 869.3 584.8 869.7 587.7 870.0 579.7 870.3 577.3 870.6 584.0 871.0 576.1 871.3 580.6 871.6 576.3 872.0 574.8 872.3 577.9 872.6 583.5 873.0 582.2 873.3 578.1 873.6 564.1 873.9 577.0 874.3 578.6 874.6 579.1 874.9 572.5 875.3 580.8 875.6 577.2 875.9 565.7 876.2 578.6 876.6 582.8 876.9 575.6 877.2 570.0 877.6 582.7 877.9 578.3 878.2 563.7 878.5 577.8 878.9 574.2 879.2 573.2 879.5 562.6 879.9 562.6 880.2 571.5 880.5 579.8 880.9 570.6 881.2 569.8 881.5 565.8 881.8 566.5 882.2 573.2 882.5 563.7 882.8 576.5 883.2 569.0 883.5 567.7 883.8 564.9 884.1 561.4 884.5 563.3 884.8 556.7 885.1 563.8 885.5 553.3 885.8 573.4 886.1 561.4 886.4 553.4 886.8 561.8 887.1 560.5 887.4 556.5 887.8 560.0 888.1 554.0 888.4 556.8 888.8 555.9 889.1 558.6 889.4 552.7 889.7 556.3 890.1 540.3 890.4 558.8 890.7 553.6 891.1 554.7 891.4 549.9 891.7 554.8 892.0 549.3 892.4 549.7 892.7 548.2 893.0 544.1 893.4 541.3 893.7 547.7 894.0 547.1 894.3 542.6 894.7 548.2 895.0 541.3 895.3 542.0 895.7 543.8 896.0 540.6 896.3 534.7 896.7 528.7 897.0 528.9 897.3 526.0 897.6 533.9 898.0 513.9 898.3 537.0 898.6 520.4 899.0 528.9 899.3 523.1 899.6 522.6 899.9 511.2 900.3 521.5 900.6 513.7 900.9 515.5 901.3 505.5 901.6 508.2 901.9 502.7 902.3 506.0 902.6 506.0 902.9 499.2 903.2 500.7 903.6 499.1 903.9 494.2 904.2 491.2 904.6 482.3 904.9 494.6 905.2 488.2 905.5 484.4 905.9 485.3 906.2 480.1 906.5 480.0 906.9 483.1 907.2 471.6 907.5 477.2 907.8 479.5 908.2 469.5 908.5 471.8 908.8 484.2 909.2 486.0 909.5 479.4 909.8 481.7 910.2 474.1 910.5 486.3 910.8 479.6 911.1 481.2 911.5 483.8 911.8 479.6 912.1 480.1 912.5 484.8 912.8 480.7 913.1 484.6 913.4 480.4 913.8 485.3 914.1 494.5 914.4 499.5 914.8 498.5 915.1 492.7 915.4 499.2 915.7 495.7 916.1 496.8 916.4 509.2 916.7 504.0 917.1 506.1 917.4 510.5 917.7 516.1 918.1 513.8 918.4 513.8 918.7 518.5 919.0 518.2 919.4 518.8 919.7 510.9 920.0 519.4 920.4 524.9 920.7 522.1 921.0 538.2 921.3 542.1 921.7 540.7 922.0 529.2 922.3 537.7 922.7 538.8 923.0 539.9 923.3 531.7 923.6 545.6 924.0 550.8 924.3 547.8 924.6 555.5 925.0 544.8 925.3 550.9 925.6 555.1 926.0 545.3 926.3 550.3 926.6 548.3 926.9 557.4 927.3 548.5 927.6 556.6 927.9 553.5 928.3 561.4 928.6 555.4 928.9 558.0 929.2 560.9 929.6 556.8 929.9 559.1 930.2 560.8 930.6 560.3 930.9 564.7 931.2 560.4 931.6 565.1 931.9 563.8 932.2 562.8 932.5 561.1 932.9 557.9 933.2 564.1 933.5 570.6 933.9 566.8 934.2 576.2 934.5 564.6 934.8 567.9 935.2 562.6 935.5 576.1 935.8 564.5 936.2 573.5 936.5 573.1 936.8 584.6 937.1 578.9 937.5 576.6 937.8 573.9 938.1 582.5 938.5 572.1 938.8 568.2 939.1 578.6 939.5 574.4 939.8 571.6 940.1 576.8 940.4 577.8 940.8 568.2 941.1 580.4 941.4 585.4 941.8 574.2 942.1 569.1 942.4 577.7 942.7 575.9 943.1 580.3 943.4 581.1 943.7 576.2 944.1 584.2 944.4 567.8 944.7 573.6 945.0 577.9 945.4 578.9 945.7 576.6 946.0 579.2 946.4 570.9 946.7 566.0 947.0 581.0 947.4 583.4 947.7 577.0 948.0 571.3 948.3 573.5 948.7 579.7 949.0 577.7 949.3 582.9 949.7 584.4 950.0 582.3 950.3 575.2 950.6 581.2 951.0 578.5 951.3 577.0 951.6 576.7 952.0 575.3 952.3 570.7 952.6 577.2 952.9 571.6 953.3 574.9 953.6 578.8 953.9 578.6 954.3 565.9 954.6 571.4 954.9 569.3 955.3 575.7 955.6 570.8 955.9 578.8 956.2 572.1 956.6 576.4 956.9 569.5 957.2 570.6 957.6 572.8 957.9 576.3 958.2 564.4 958.5 574.6 958.9 567.4 959.2 575.2 959.5 566.0 959.9 572.5 960.2 580.4 960.5 581.7 960.9 570.1 961.2 583.1 961.5 573.2 961.8 575.5 962.2 577.9 962.5 576.2 962.8 577.6 963.2 577.0 963.5 580.3 963.8 577.5 964.1 574.6 964.5 572.1 964.8 572.1 965.1 576.9 965.5 580.8 965.8 579.2 966.1 576.5 966.4 580.2 966.8 575.8 967.1 579.2 967.4 581.0 967.8 577.4 968.1 585.6 968.4 584.9 968.8 578.5 969.1 583.1 969.4 581.3 969.7 582.2 970.1 582.4 970.4 587.3 970.7 583.0 971.1 583.1 971.4 586.3 971.7 586.4 972.0 590.5 972.4 579.0 972.7 586.1 973.0 574.8 973.4 583.7 973.7 577.8 974.0 577.9 974.3 583.6 974.7 579.4 975.0 583.2 975.3 572.3 975.7 591.3 976.0 572.9 976.3 582.3 976.7 593.4 977.0 579.5 977.3 593.8 977.6 591.2 978.0 586.0 978.3 584.8 978.6 585.4 979.0 588.1 979.3 591.5 979.6 593.3 979.9 577.7 980.3 591.5 980.6 590.5 980.9 582.2 981.3 592.1 981.6 592.4 981.9 592.5 982.2 588.1 982.6 592.2 982.9 594.3 983.2 585.8 983.6 586.7 983.9 586.4 984.2 594.6 984.6 589.4 984.9 586.1 985.2 584.9 985.5 583.8 985.9 590.8 986.2 593.7 986.5 595.8 986.9 585.5 987.2 585.8 987.5 585.9 987.8 586.4 988.2 583.6 988.5 597.5 988.8 592.7 989.2 588.4 989.5 579.1 989.8 597.0 990.2 594.4 990.5 591.5 990.8 594.3 991.1 588.0 991.5 594.1 991.8 588.8 992.1 593.4 992.5 590.8 992.8 585.6 993.1 586.7 993.4 596.6 993.8 596.3 994.1 591.0 994.4 588.7 994.8 589.9 995.1 593.7 995.4 585.8 995.7 596.5 996.1 588.5 996.4 587.2 996.7 592.2 997.1 601.1 997.4 589.3 997.7 590.8 998.1 587.3 998.4 593.8 998.7 593.9 999.0 592.7 999.4 591.1 999.7 594.5 1000.0 596.6 1000.4 590.9 1000.7 591.9 1001.0 590.2 1001.3 590.6 1001.7 598.6 1002.0 588.7 1002.3 594.0 1002.7 598.0 1003.0 591.0 1003.3 596.0 1003.6 596.7 1004.0 586.9 1004.3 597.9 1004.6 588.9 1005.0 594.1 1005.3 586.7 1005.6 586.3 1006.0 592.5 1006.3 601.0 1006.6 605.3 1006.9 606.2 1007.3 600.0 1007.6 599.3 1007.9 597.5 1008.3 597.1 1008.6 592.5 1008.9 592.2 1009.2 596.2 1009.6 596.4 1009.9 591.6 1010.2 589.0 1010.6 591.1 1010.9 607.4 1011.2 591.3 1011.5 601.1 1011.9 600.1 1012.2 599.5 1012.5 591.9 1012.9 603.8 1013.2 596.1 1013.5 592.1 1013.9 591.6 1014.2 594.2 1014.5 604.4 1014.8 589.1 1015.2 591.9 1015.5 595.0 1015.8 597.2 1016.2 590.2 1016.5 590.6 1016.8 592.6 1017.1 598.1 1017.5 594.4 1017.8 594.1 1018.1 596.1 1018.5 595.7 1018.8 599.5 1019.1 592.0 1019.5 595.3 1019.8 592.4 1020.1 598.6 1020.4 599.1 1020.8 594.3 1021.1 600.8 1021.4 594.6 1021.8 601.8 1022.1 593.8 1022.4 593.6 1022.7 588.9 1023.1 591.1 1023.4 593.9 1023.7 586.2 1024.1 595.6 1024.4 599.5 1024.7 598.1 1025.0 596.6 1025.4 598.8 1025.7 593.3 1026.0 593.7 1026.4 599.6 1026.7 595.3 1027.0 600.3 1027.4 593.8 1027.7 599.0 1028.0 601.5 1028.3 595.6 1028.7 603.6 1029.0 603.0 1029.3 585.3 1029.7 608.0 1030.0 588.9 1030.3 607.2 1030.6 592.2 1031.0 586.8 1031.3 590.2 1031.6 598.3 1032.0 591.7 1032.3 593.7 1032.6 601.7 1032.9 591.8 1033.3 598.5 1033.6 602.0 1033.9 588.1 1034.3 591.2 1034.6 597.4 1034.9 596.4 1035.3 597.8 1035.6 587.6 1035.9 592.7 1036.2 598.3 1036.6 599.2 1036.9 602.3 1037.2 594.9 1037.6 593.4 1037.9 592.3 1038.2 592.6 1038.5 587.6 1038.9 604.3 1039.2 594.7 1039.5 593.6 1039.9 593.9 1040.2 599.2 1040.5 597.2 1040.8 593.3 1041.2 601.2 1041.5 597.9 1041.8 595.9 1042.2 596.8 1042.5 602.0 1042.8 599.9 1043.2 596.4 1043.5 601.4 1043.8 587.2 1044.1 600.0 1044.5 593.1 1044.8 594.1 1045.1 595.8 1045.5 605.2 1045.8 596.2 1046.1 596.3 1046.4 599.6 1046.8 588.1 1047.1 596.0 1047.4 600.1 1047.8 592.6 1048.1 599.6 1048.4 593.7 1048.8 590.5 1049.1 601.0 1049.4 597.5 1049.7 600.5 1050.1 598.0 1050.4 592.5 1050.7 601.8 1051.1 599.2 1051.4 599.2 1051.7 595.7 1052.0 592.6 1052.4 603.8 1052.7 601.0 1053.0 598.4 1053.4 595.0 1053.7 603.5 1054.0 593.9 1054.3 594.3 1054.7 607.1 1055.0 600.4 1055.3 601.8 1055.7 600.9 1056.0 607.1 1056.3 599.6 1056.7 600.0 1057.0 594.0 1057.3 598.1 1057.6 591.2 1058.0 596.2 1058.3 597.8 1058.6 601.1 1059.0 603.9 1059.3 594.9 1059.6 593.3 1059.9 599.1 1060.3 594.1 1060.6 605.4 1060.9 603.5 1061.3 593.7 1061.6 599.0 1061.9 603.6 1062.2 594.0 1062.6 595.9 1062.9 597.7 1063.2 604.0 1063.6 600.1 1063.9 597.0 1064.2 599.5 1064.6 598.2 1064.9 598.8 1065.2 600.2 1065.5 599.1 1065.9 600.9 1066.2 598.1 1066.5 596.9 1066.9 596.8 1067.2 591.1 1067.5 595.9 1067.8 605.8 1068.2 597.8 1068.5 600.3 1068.8 601.8 1069.2 595.9 1069.5 596.6 1069.8 600.3 1070.1 594.0 1070.5 601.9 1070.8 600.9 1071.1 599.0 1071.5 599.1 1071.8 601.2 1072.1 598.5 1072.5 587.3 1072.8 600.3 1073.1 594.0 1073.4 595.9 1073.8 596.3 1074.1 596.3 1074.4 590.9 1074.8 589.9 1075.1 597.8 1075.4 598.3 1075.7 600.0 1076.1 592.7 1076.4 596.9 1076.7 601.6 1077.1 596.6 1077.4 595.7 1077.7 606.9 1078.1 591.1 1078.4 594.8 1078.7 593.5 1079.0 596.1 1079.4 610.3 1079.7 593.8 1080.0 597.0 1080.4 595.9 1080.7 594.9 1081.0 601.7 1081.3 596.2 1081.7 602.8 1082.0 604.3 1082.3 596.1 1082.7 604.2 1083.0 593.1 1083.3 599.6 1083.6 602.6 1084.0 593.8 1084.3 597.9 1084.6 600.2 1085.0 600.6 1085.3 599.6 1085.6 606.6 1086.0 597.4 1086.3 603.2 1086.6 607.1 1086.9 595.3 1087.3 596.1 1087.6 593.5 1087.9 600.9 1088.3 603.9 1088.6 590.3 1088.9 593.7 1089.2 595.0 1089.6 607.1 1089.9 596.0 1090.2 599.1 1090.6 592.3 1090.9 601.1 1091.2 592.8 1091.5 597.0 1091.9 592.8 1092.2 596.7 1092.5 596.4 1092.9 597.9 1093.2 597.8 1093.5 604.5 1093.9 593.6 1094.2 602.3 1094.5 597.9 1094.8 595.7 1095.2 597.7 1095.5 597.4 1095.8 599.8 1096.2 599.6 1096.5 598.6 1096.8 597.0 1097.1 589.1 1097.5 599.3 1097.8 600.3 1098.1 597.0 1098.5 596.6 1098.8 591.6 1099.1 596.3 1099.5 598.6 1099.8 589.3 1100.1 592.7 1100.4 592.3 1100.8 599.6 1101.1 592.3 1101.4 586.4 1101.8 594.5 1102.1 599.3 1102.4 592.8 1102.7 591.5 1103.1 594.1 1103.4 600.1 1103.7 591.8 1104.1 591.6 1104.4 594.3 1104.7 589.1 1105.0 585.0 1105.4 592.6 1105.7 590.3 1106.0 593.1 1106.4 592.0 1106.7 593.4 1107.0 586.5 1107.4 592.2 1107.7 586.8 1108.0 591.9 1108.3 588.4 1108.7 597.1 1109.0 586.1 1109.3 580.1 1109.7 589.9 1110.0 587.3 1110.3 585.1 1110.6 589.7 1111.0 595.5 1111.3 587.7 1111.6 585.2 1112.0 593.9 1112.3 592.4 1112.6 587.5 1112.9 585.0 1113.3 590.0 1113.6 583.9 1113.9 584.0 1114.3 583.0 1114.6 588.4 1114.9 592.3 1115.3 586.0 1115.6 593.0 1115.9 577.2 1116.2 585.1 1116.6 577.8 1116.9 588.5 1117.2 590.0 1117.6 577.0 1117.9 581.0 1118.2 584.3 1118.5 577.6 1118.9 580.0 1119.2 579.3 1119.5 583.6 1119.9 580.0 1120.2 578.2 1120.5 579.5 1120.8 582.2 1121.2 582.8 1121.5 581.6 1121.8 587.3 1122.2 580.7 1122.5 582.5 1122.8 584.6 1123.2 580.6 1123.5 587.5 1123.8 585.1 1124.1 585.2 1124.5 578.3 1124.8 581.4 1125.1 584.3 1125.5 586.4 1125.8 579.5 1126.1 580.0 1126.4 576.7 1126.8 576.1 1127.1 586.8 1127.4 582.4 1127.8 584.9 1128.1 587.2 1128.4 582.8 1128.8 583.6 1129.1 579.0 1129.4 581.0 1129.7 585.4 1130.1 589.6 1130.4 588.3 1130.7 581.5 1131.1 581.5 1131.4 587.7 1131.7 587.1 1132.0 587.6 1132.4 586.7 1132.7 591.1 1133.0 587.4 1133.4 592.4 1133.7 589.0 1134.0 587.2 1134.3 582.9 1134.7 589.0 1135.0 591.7 1135.3 589.1 1135.7 584.7 1136.0 581.5 1136.3 588.1 1136.7 596.7 1137.0 585.4 1137.3 588.3 1137.6 591.1 1138.0 594.6 1138.3 587.1 1138.6 591.5 1139.0 592.8 1139.3 587.2 1139.6 593.8 1139.9 588.4 1140.3 593.4 1140.6 595.5 1140.9 593.7 1141.3 588.6 1141.6 596.6 1141.9 597.0 1142.2 595.0 1142.6 597.9 1142.9 593.1 1143.2 591.8 1143.6 594.6 1143.9 597.5 1144.2 599.4 1144.6 593.3 1144.9 597.1 1145.2 597.1 1145.5 594.8 1145.9 588.9 1146.2 590.3 1146.5 601.0 1146.9 591.5 1147.2 590.5 1147.5 592.1 1147.8 596.6 1148.2 603.2 1148.5 599.7 1148.8 596.6 1149.2 597.4 1149.5 600.5 1149.8 599.1 1150.1 592.2 1150.5 604.0 1150.8 603.0 1151.1 595.3 1151.5 598.7 1151.8 601.5 1152.1 601.0 1152.5 598.7 1152.8 600.5 1153.1 607.4 1153.4 599.2 1153.8 604.4 1154.1 601.7 1154.4 596.3 1154.8 603.4 1155.1 602.4 1155.4 605.7 1155.7 607.4 1156.1 605.4 1156.4 602.7 1156.7 603.6 1157.1 604.9 1157.4 598.5 1157.7 597.8 1158.1 604.8 1158.4 597.5 1158.7 600.8 1159.0 608.9 1159.4 605.6 1159.7 606.9 1160.0 602.0 1160.4 606.7 1160.7 599.0 1161.0 599.1 1161.3 601.6 1161.7 599.6 1162.0 607.4 1162.3 601.8 1162.7 597.9 1163.0 605.9 1163.3 605.3 1163.6 607.1 1164.0 597.9 1164.3 599.3 1164.6 593.9 1165.0 604.0 1165.3 602.3 1165.6 600.4 1166.0 607.8 1166.3 599.7 1166.6 600.7 1166.9 599.3 1167.3 598.7 1167.6 602.5 1167.9 601.9 1168.3 601.3 1168.6 598.4 1168.9 597.5 1169.2 600.3 1169.6 602.4 1169.9 599.3 1170.2 601.0 1170.6 601.3 1170.9 599.1 1171.2 596.9 1171.5 602.1 1171.9 608.8 1172.2 604.6 1172.5 602.3 1172.9 600.1 1173.2 600.4 1173.5 606.9 1173.9 598.5 1174.2 609.8 1174.5 603.2 1174.8 604.2 1175.2 601.8 1175.5 606.8 1175.8 606.8 1176.2 600.4 1176.5 610.2 1176.8 604.0 1177.1 597.5 1177.5 605.2 1177.8 604.5 1178.1 604.0 1178.5 606.6 1178.8 607.5 1179.1 598.8 1179.4 602.5 1179.8 602.7 1180.1 603.5 1180.4 596.4 1180.8 604.2 1181.1 603.5 1181.4 610.6 1181.8 600.0 1182.1 601.4 1182.4 605.0 1182.7 603.2 1183.1 606.6 1183.4 607.9 1183.7 599.8 1184.1 603.6 1184.4 605.7 1184.7 600.3 1185.0 611.7 1185.4 604.3 1185.7 603.8 1186.0 597.4 1186.4 600.5 1186.7 595.5 1187.0 605.6 1187.4 600.0 1187.7 603.3 1188.0 604.4 1188.3 603.7 1188.7 601.4 1189.0 605.7 1189.3 598.6 1189.7 595.7 1190.0 597.2 1190.3 605.6 1190.6 608.1 1191.0 600.1 1191.3 600.5 1191.6 604.1 1192.0 597.4 1192.3 600.6 1192.6 597.0 1192.9 602.6 1193.3 591.7 1193.6 596.5 1193.9 595.6 1194.3 601.9 1194.6 604.0 1194.9 602.0 1195.3 609.9 1195.6 602.2 1195.9 598.3 1196.2 600.2 1196.6 604.4 1196.9 603.6 1197.2 610.0 1197.6 602.6 1197.9 598.2 1198.2 597.6 1198.5 604.7 1198.9 591.1 1199.2 603.1 1199.5 604.8 1199.9 599.8 1200.2 602.4 1200.5 606.4 1200.8 607.0 1201.2 606.6 1201.5 605.0 1201.8 600.7 1202.2 596.7 1202.5 593.1 1202.8 607.8 1203.2 605.0 1203.5 596.1 1203.8 605.1 1204.1 599.2 1204.5 598.8 1204.8 596.1 1205.1 608.5 1205.5 595.4 1205.8 596.2 1206.1 603.1 1206.4 603.5 1206.8 602.3 1207.1 596.3 1207.4 599.4 1207.8 596.8 1208.1 598.1 1208.4 606.8 1208.7 600.9 1209.1 602.8 1209.4 596.2 1209.7 597.5 1210.1 601.2 1210.4 604.0 1210.7 598.7 1211.1 604.9 1211.4 608.2 1211.7 592.2 1212.0 598.9 1212.4 601.3 1212.7 597.8 1213.0 604.9 1213.4 598.9 1213.7 599.6 1214.0 592.1 1214.3 601.8 1214.7 596.6 1215.0 599.4 1215.3 596.6 1215.7 594.8 1216.0 596.6 1216.3 592.3 1216.7 596.0 1217.0 601.0 1217.3 600.2 1217.6 592.8 1218.0 599.4 1218.3 594.6 1218.6 593.5 1219.0 598.0 1219.3 598.2 1219.6 593.0 1219.9 598.7 1220.3 594.9 1220.6 602.9 1220.9 588.9 1221.3 593.4 1221.6 593.0 1221.9 590.7 1222.2 588.5 1222.6 598.0 1222.9 594.2 1223.2 587.7 1223.6 590.6 1223.9 591.0 1224.2 593.4 1224.6 588.1 1224.9 597.2 1225.2 591.4 1225.5 596.4 1225.9 592.8 1226.2 589.5 1226.5 589.5 1226.9 591.3 1227.2 590.1 1227.5 590.2 1227.8 591.8 1228.2 593.2 1228.5 584.4 1228.8 581.7 1229.2 584.0 1229.5 591.7 1229.8 586.0 1230.1 584.0 1230.5 587.3 1230.8 588.3 1231.1 581.0 1231.5 581.0 1231.8 584.2 1232.1 583.5 1232.5 580.7 1232.8 591.6 1233.1 587.3 1233.4 581.6 1233.8 584.3 1234.1 576.8 1234.4 584.4 1234.8 579.7 1235.1 577.3 1235.4 574.4 1235.7 582.2 1236.1 578.9 1236.4 575.9 1236.7 581.5 1237.1 576.3 1237.4 577.8 1237.7 574.6 1238.0 577.5 1238.4 571.1 1238.7 573.5 1239.0 574.8 1239.4 571.2 1239.7 571.8 1240.0 576.2 1240.4 571.3 1240.7 576.7 1241.0 574.0 1241.3 572.2 1241.7 566.2 1242.0 577.2 1242.3 576.8 1242.7 572.2 1243.0 571.4 1243.3 570.9 1243.6 568.9 1244.0 569.4 1244.3 571.7 1244.6 564.5 1245.0 569.8 1245.3 571.5 1245.6 563.3 1246.0 567.4 1246.3 564.0 1246.6 564.5 1246.9 571.9 1247.3 565.5 1247.6 579.7 1247.9 569.2 1248.3 566.9 1248.6 569.0 1248.9 570.1 1249.2 571.4 1249.6 571.6 1249.9 571.7 1250.2 574.8 1250.6 575.3 1250.9 571.4 1251.2 572.7 1251.5 568.7 1251.9 569.5 1252.2 570.5 1252.5 577.1 1252.9 569.8 1253.2 573.3 1253.5 573.3 1253.9 576.0 1254.2 571.1 1254.5 572.2 1254.8 577.8 1255.2 575.1 1255.5 572.4 1255.8 579.0 1256.2 575.4 1256.5 573.3 1256.8 578.8 1257.1 582.2 1257.5 574.5 1257.8 572.6 1258.1 567.9 1258.5 583.4 1258.8 575.0 1259.1 576.1 1259.4 573.8 1259.8 577.0 1260.1 574.1 1260.4 583.7 1260.8 580.9 1261.1 576.6 1261.4 574.3 1261.8 581.1 1262.1 576.1 1262.4 584.0 1262.7 580.6 1263.1 579.6 1263.4 575.5 1263.7 580.9 1264.1 575.4 1264.4 584.5 1264.7 573.3 1265.0 579.2 1265.4 589.1 1265.7 578.9 1266.0 583.4 1266.4 584.7 1266.7 582.2 1267.0 580.5 1267.3 584.7 1267.7 584.9 1268.0 579.1 1268.3 586.8 1268.7 585.8 1269.0 577.5 1269.3 583.0 1269.7 583.1 1270.0 581.6 1270.3 578.7 1270.6 576.6 1271.0 582.6 1271.3 575.0 1271.6 578.5 1272.0 573.5 1272.3 577.8 1272.6 580.8 1272.9 575.0 1273.3 582.7 1273.6 583.1 1273.9 581.1 1274.3 581.8 1274.6 584.5 1274.9 581.8 1275.3 572.9 1275.6 578.2 1275.9 575.6 1276.2 578.5 1276.6 572.2 1276.9 578.3 1277.2 577.0 1277.6 579.7 1277.9 574.3 1278.2 576.6 1278.5 570.0 1278.9 576.8 1279.2 577.2 1279.5 572.6 1279.9 577.3 1280.2 572.4 1280.5 579.0 1280.8 574.5 1281.2 576.0 1281.5 583.4 1281.8 579.7 1282.2 583.3 1282.5 581.7 1282.8 577.9 1283.2 584.0 1283.5 579.7 1283.8 579.0 1284.1 577.7 1284.5 575.4 1284.8 581.8 1285.1 579.4 1285.5 582.0 1285.8 580.4 1286.1 583.3 1286.4 579.4 1286.8 582.7 1287.1 585.7 1287.4 587.1 1287.8 583.0 1288.1 580.1 1288.4 588.9 1288.7 588.4 1289.1 582.3 1289.4 589.5 1289.7 587.2 1290.1 582.6 1290.4 586.6 1290.7 582.3 1291.1 585.6 1291.4 585.9 1291.7 587.4 1292.0 591.8 1292.4 583.3 1292.7 578.3 1293.0 591.4 1293.4 588.4 1293.7 592.9 1294.0 593.0 1294.3 596.1 1294.7 584.0 1295.0 596.4 1295.3 591.2 1295.7 590.0 1296.0 597.3 1296.3 596.5 1296.6 587.9 1297.0 590.7 1297.3 598.1 1297.6 588.7 1298.0 595.0 1298.3 595.8 1298.6 593.7 1299.0 592.8 1299.3 597.5 1299.6 594.3 1299.9 591.9 1300.3 597.6 1300.6 590.6" fill="none" stroke="#800000" stroke-width="2.2" stroke-linejoin="round" stroke-linecap="round"/>
<path d="M148.3 801.4L148.7 775.8 149.0 792.6 149.3 787.2 149.7 787.9 150.0 789.4 150.3 779.4 150.7 789.5 151.0 786.1 151.3 806.8 151.6 792.4 152.0 789.3 152.3 789.8 152.6 787.8 153.0 785.8 153.3 789.6 153.6 794.6 153.9 790.7 154.3 797.5 154.6 791.1 154.9 792.5 155.3 801.2 155.6 795.7 155.9 789.9 156.3 791.8 156.6 796.0 156.9 803.9 157.2 791.7 157.6 792.0 157.9 799.1 158.2 788.6 158.6 792.1 158.9 798.8 159.2 797.2 159.5 794.6 159.9 797.9 160.2 778.6 160.5 800.1 160.9 789.2 161.2 785.3 161.5 796.3 161.8 798.8 162.2 792.5 162.5 789.1 162.8 795.4 163.2 795.1 163.5 803.4 163.8 799.8 164.2 796.8 164.5 802.1 164.8 794.8 165.1 790.9 165.5 799.5 165.8 799.6 166.1 795.2 166.5 792.2 166.8 797.9 167.1 782.8 167.4 800.8 167.8 799.8 168.1 788.0 168.4 797.6 168.8 792.0 169.1 801.7 169.4 786.2 169.7 792.6 170.1 801.8 170.4 804.4 170.7 786.0 171.1 795.4 171.4 800.1 171.7 795.0 172.1 807.4 172.4 792.0 172.7 800.7 173.0 793.0 173.4 806.9 173.7 799.0 174.0 797.1 174.4 789.7 174.7 808.9 175.0 803.8 175.3 803.9 175.7 806.2 176.0 801.9 176.3 796.4 176.7 795.6 177.0 795.8 177.3 808.0 177.7 792.3 178.0 797.2 178.3 798.9 178.6 802.1 179.0 804.1 179.3 794.0 179.6 791.5 180.0 801.2 180.3 808.2 180.6 805.7 180.9 802.8 181.3 799.9 181.6 803.5 181.9 800.6 182.3 806.6 182.6 797.7 182.9 803.0 183.2 801.7 183.6 805.5 183.9 803.8 184.2 817.0 184.6 811.2 184.9 811.3 185.2 791.6 185.6 801.2 185.9 799.8 186.2 806.3 186.5 790.7 186.9 810.1 187.2 809.6 187.5 796.5 187.9 798.4 188.2 799.5 188.5 804.3 188.8 807.8 189.2 815.8 189.5 803.3 189.8 808.8 190.2 805.5 190.5 814.6 190.8 809.0 191.1 812.6 191.5 799.0 191.8 804.1 192.1 800.7 192.5 813.8 192.8 809.2 193.1 803.9 193.5 803.1 193.8 808.5 194.1 802.0 194.4 800.8 194.8 808.8 195.1 820.0 195.4 804.9 195.8 803.3 196.1 799.9 196.4 799.1 196.7 809.6 197.1 811.6 197.4 806.9 197.7 808.9 198.1 807.7 198.4 808.0 198.7 798.7 199.0 804.8 199.4 808.1 199.7 803.2 200.0 805.0 200.4 803.2 200.7 806.0 201.0 812.7 201.4 805.8 201.7 807.3 202.0 812.8 202.3 812.0 202.7 817.9 203.0 796.8 203.3 813.4 203.7 806.0 204.0 809.6 204.3 813.6 204.6 815.1 205.0 814.9 205.3 810.1 205.6 818.3 206.0 807.8 206.3 808.7 206.6 814.0 207.0 806.6 207.3 821.8 207.6 815.5 207.9 822.1 208.3 809.9 208.6 808.0 208.9 811.1 209.3 814.4 209.6 807.1 209.9 812.6 210.2 810.4 210.6 819.7 210.9 807.0 211.2 816.7 211.6 807.3 211.9 805.6 212.2 807.1 212.5 804.5 212.9 812.0 213.2 817.1 213.5 812.3 213.9 815.0 214.2 820.7 214.5 813.1 214.9 812.8 215.2 810.3 215.5 802.9 215.8 816.2 216.2 802.2 216.5 815.8 216.8 812.1 217.2 818.6 217.5 812.0 217.8 807.8 218.1 814.5 218.5 809.4 218.8 811.6 219.1 813.0 219.5 812.0 219.8 811.8 220.1 808.3 220.4 812.0 220.8 801.1 221.1 812.3 221.4 806.5 221.8 819.6 222.1 820.5 222.4 802.5 222.8 814.3 223.1 812.9 223.4 807.8 223.7 816.7 224.1 811.2 224.4 804.0 224.7 812.4 225.1 813.2 225.4 814.7 225.7 807.2 226.0 817.6 226.4 818.4 226.7 807.9 227.0 810.7 227.4 814.0 227.7 811.3 228.0 824.3 228.3 815.8 228.7 809.0 229.0 810.3 229.3 814.5 229.7 827.7 230.0 813.9 230.3 815.7 230.7 817.9 231.0 814.9 231.3 827.9 231.6 812.2 232.0 819.4 232.3 816.2 232.6 818.8 233.0 808.8 233.3 825.3 233.6 814.8 233.9 815.7 234.3 810.4 234.6 811.6 234.9 818.9 235.3 821.3 235.6 820.0 235.9 822.6 236.3 819.9 236.6 816.1 236.9 820.7 237.2 819.3 237.6 815.5 237.9 820.2 238.2 823.3 238.6 817.5 238.9 814.2 239.2 820.3 239.5 826.9 239.9 815.2 240.2 815.9 240.5 815.7 240.9 823.3 241.2 806.2 241.5 818.6 241.8 823.2 242.2 812.0 242.5 824.9 242.8 819.6 243.2 813.6 243.5 817.9 243.8 808.2 244.2 813.6 244.5 827.0 244.8 811.8 245.1 827.2 245.5 816.4 245.8 822.5 246.1 817.2 246.5 804.4 246.8 813.8 247.1 818.1 247.4 810.6 247.8 809.5 248.1 819.1 248.4 813.5 248.8 807.6 249.1 813.3 249.4 822.0 249.7 814.5 250.1 822.4 250.4 825.7 250.7 817.4 251.1 810.9 251.4 810.0 251.7 817.1 252.1 822.2 252.4 818.8 252.7 820.3 253.0 814.8 253.4 819.0 253.7 814.7 254.0 815.5 254.4 810.1 254.7 808.5 255.0 814.6 255.3 811.1 255.7 812.0 256.0 821.1 256.3 816.7 256.7 833.0 257.0 822.5 257.3 813.8 257.6 821.7 258.0 819.3 258.3 813.5 258.6 823.5 259.0 813.0 259.3 801.7 259.6 821.7 260.0 813.9 260.3 825.6 260.6 813.7 260.9 810.7 261.3 825.9 261.6 811.3 261.9 818.4 262.3 825.3 262.6 817.9 262.9 816.8 263.2 817.8 263.6 821.9 263.9 812.7 264.2 820.6 264.6 820.4 264.9 830.2 265.2 815.2 265.6 812.0 265.9 821.2 266.2 814.9 266.5 818.7 266.9 817.8 267.2 823.5 267.5 813.3 267.9 816.5 268.2 802.7 268.5 812.0 268.8 825.5 269.2 813.1 269.5 813.0 269.8 810.1 270.2 820.1 270.5 817.8 270.8 810.2 271.1 820.5 271.5 818.2 271.8 820.9 272.1 813.1 272.5 826.4 272.8 818.9 273.1 816.0 273.5 813.7 273.8 815.2 274.1 821.3 274.4 815.0 274.8 822.5 275.1 819.7 275.4 823.9 275.8 820.9 276.1 816.0 276.4 805.7 276.7 818.0 277.1 820.7 277.4 817.2 277.7 819.3 278.1 813.6 278.4 814.0 278.7 810.9 279.0 823.7 279.4 816.9 279.7 813.3 280.0 808.6 280.4 815.1 280.7 824.0 281.0 818.5 281.4 811.8 281.7 823.8 282.0 823.8 282.3 821.2 282.7 820.1 283.0 822.1 283.3 818.7 283.7 819.9 284.0 811.2 284.3 823.9 284.6 816.8 285.0 826.8 285.3 804.0 285.6 819.3 286.0 820.8 286.3 813.4 286.6 817.8 286.9 819.4 287.3 818.4 287.6 812.2 287.9 814.3 288.3 820.8 288.6 822.2 288.9 815.6 289.3 815.4 289.6 816.1 289.9 820.7 290.2 809.0 290.6 807.4 290.9 815.5 291.2 808.6 291.6 811.4 291.9 815.1 292.2 817.3 292.5 808.6 292.9 819.0 293.2 804.6 293.5 817.5 293.9 805.6 294.2 807.3 294.5 817.9 294.9 812.0 295.2 809.8 295.5 811.7 295.8 816.8 296.2 813.8 296.5 813.9 296.8 819.9 297.2 810.0 297.5 811.3 297.8 811.0 298.1 820.4 298.5 819.4 298.8 821.0 299.1 813.6 299.5 812.9 299.8 818.4 300.1 811.5 300.4 818.2 300.8 817.6 301.1 809.6 301.4 813.0 301.8 812.8 302.1 823.1 302.4 827.8 302.8 812.8 303.1 813.4 303.4 800.6 303.7 814.4 304.1 813.1 304.4 807.2 304.7 817.5 305.1 804.3 305.4 811.8 305.7 813.8 306.0 806.0 306.4 817.7 306.7 818.7 307.0 805.1 307.4 805.0 307.7 816.1 308.0 812.6 308.3 805.9 308.7 811.0 309.0 812.0 309.3 811.8 309.7 817.1 310.0 814.6 310.3 822.3 310.7 820.1 311.0 816.2 311.3 818.3 311.6 819.7 312.0 816.2 312.3 805.4 312.6 817.0 313.0 812.6 313.3 821.1 313.6 812.6 313.9 815.0 314.3 813.9 314.6 821.3 314.9 812.9 315.3 810.4 315.6 813.6 315.9 809.4 316.2 812.7 316.6 811.7 316.9 813.3 317.2 822.4 317.6 809.4 317.9 811.9 318.2 810.5 318.6 815.3 318.9 805.0 319.2 807.7 319.5 811.3 319.9 814.5 320.2 811.2 320.5 808.6 320.9 806.5 321.2 814.2 321.5 819.3 321.8 813.1 322.2 812.3 322.5 813.7 322.8 805.9 323.2 809.4 323.5 809.6 323.8 812.7 324.2 810.9 324.5 804.3 324.8 817.3 325.1 820.4 325.5 809.5 325.8 813.1 326.1 812.4 326.5 815.2 326.8 802.6 327.1 819.8 327.4 808.2 327.8 817.8 328.1 811.2 328.4 808.5 328.8 809.9 329.1 815.6 329.4 805.8 329.7 808.5 330.1 807.9 330.4 801.0 330.7 817.8 331.1 813.7 331.4 810.4 331.7 816.9 332.1 805.1 332.4 810.0 332.7 820.0 333.0 815.8 333.4 798.0 333.7 794.8 334.0 804.6 334.4 816.2 334.7 807.7 335.0 809.1 335.3 813.6 335.7 805.3 336.0 811.4 336.3 814.6 336.7 812.8 337.0 812.4 337.3 806.8 337.6 813.0 338.0 807.7 338.3 817.3 338.6 824.3 339.0 805.9 339.3 798.0 339.6 807.7 340.0 812.1 340.3 815.8 340.6 816.0 340.9 805.6 341.3 805.6 341.6 817.0 341.9 803.9 342.3 816.0 342.6 808.6 342.9 814.2 343.2 813.8 343.6 814.2 343.9 814.4 344.2 804.4 344.6 811.5 344.9 809.9 345.2 811.5 345.5 816.7 345.9 808.3 346.2 805.9 346.5 805.8 346.9 808.1 347.2 814.0 347.5 805.3 347.9 816.2 348.2 811.4 348.5 808.5 348.8 802.4 349.2 811.1 349.5 813.6 349.8 799.9 350.2 816.4 350.5 818.9 350.8 811.6 351.1 812.5 351.5 823.1 351.8 816.6 352.1 804.7 352.5 809.6 352.8 808.9 353.1 808.9 353.5 796.6 353.8 813.9 354.1 806.2 354.4 810.6 354.8 809.0 355.1 814.6 355.4 808.1 355.8 805.3 356.1 812.7 356.4 817.5 356.7 808.0 357.1 817.3 357.4 811.2 357.7 806.8 358.1 818.2 358.4 805.2 358.7 815.4 359.0 807.0 359.4 812.3 359.7 802.9 360.0 805.2 360.4 815.7 360.7 810.8 361.0 810.0 361.4 807.4 361.7 812.3 362.0 802.1 362.3 803.6 362.7 809.0 363.0 805.2 363.3 806.0 363.7 809.5 364.0 809.1 364.3 808.6 364.6 819.1 365.0 815.5 365.3 816.7 365.6 809.8 366.0 807.1 366.3 801.9 366.6 808.0 366.9 798.4 367.3 806.7 367.6 814.2 367.9 819.0 368.3 815.3 368.6 805.2 368.9 812.7 369.3 805.6 369.6 814.6 369.9 809.4 370.2 814.8 370.6 824.3 370.9 815.2 371.2 823.0 371.6 811.0 371.9 808.2 372.2 817.5 372.5 819.6 372.9 807.0 373.2 810.5 373.5 802.2 373.9 809.0 374.2 815.0 374.5 809.6 374.8 807.0 375.2 802.3 375.5 812.2 375.8 814.6 376.2 813.5 376.5 811.6 376.8 803.1 377.2 819.9 377.5 809.9 377.8 809.4 378.1 814.2 378.5 798.2 378.8 809.8 379.1 809.4 379.5 812.3 379.8 817.7 380.1 812.8 380.4 800.0 380.8 808.3 381.1 811.3 381.4 811.0 381.8 803.1 382.1 801.0 382.4 813.2 382.8 812.1 383.1 810.1 383.4 800.6 383.7 820.0 384.1 794.7 384.4 808.1 384.7 821.7 385.1 809.3 385.4 811.4 385.7 803.6 386.0 817.7 386.4 803.0 386.7 811.5 387.0 810.8 387.4 804.3 387.7 815.0 388.0 802.2 388.3 806.2 388.7 809.9 389.0 807.7 389.3 812.6 389.7 815.1 390.0 808.3 390.3 806.9 390.7 807.0 391.0 807.8 391.3 814.3 391.6 808.6 392.0 812.0 392.3 809.2 392.6 805.0 393.0 814.5 393.3 803.9 393.6 809.6 393.9 817.8 394.3 803.5 394.6 809.2 394.9 800.7 395.3 806.6 395.6 801.1 395.9 807.3 396.2 806.3 396.6 809.9 396.9 817.9 397.2 810.7 397.6 812.7 397.9 808.7 398.2 807.6 398.6 804.2 398.9 798.8 399.2 809.1 399.5 817.7 399.9 811.2 400.2 805.5 400.5 817.6 400.9 805.9 401.2 804.8 401.5 801.4 401.8 802.7 402.2 806.6 402.5 819.0 402.8 806.6 403.2 801.9 403.5 804.2 403.8 806.2 404.1 797.8 404.5 807.9 404.8 811.0 405.1 808.8 405.5 810.2 405.8 799.6 406.1 797.1 406.5 813.6 406.8 812.4 407.1 797.6 407.4 807.1 407.8 806.0 408.1 808.7 408.4 806.7 408.8 802.5 409.1 806.2 409.4 805.8 409.7 804.5 410.1 794.2 410.4 788.8 410.7 799.7 411.1 794.8 411.4 805.1 411.7 807.5 412.1 804.7 412.4 800.9 412.7 803.1 413.0 809.0 413.4 798.1 413.7 807.1 414.0 805.6 414.4 802.8 414.7 809.2 415.0 796.7 415.3 805.7 415.7 794.9 416.0 795.4 416.3 793.4 416.7 801.5 417.0 793.4 417.3 798.5 417.6 791.5 418.0 803.4 418.3 807.3 418.6 797.8 419.0 805.3 419.3 798.8 419.6 807.3 420.0 795.2 420.3 785.3 420.6 802.0 420.9 792.3 421.3 786.6 421.6 788.2 421.9 782.1 422.3 789.7 422.6 783.9 422.9 797.7 423.2 792.4 423.6 778.5 423.9 778.6 424.2 783.2 424.6 774.7 424.9 784.1 425.2 783.7 425.5 778.6 425.9 779.0 426.2 784.0 426.5 788.3 426.9 787.7 427.2 778.3 427.5 781.9 427.9 771.7 428.2 777.1 428.5 768.0 428.8 776.4 429.2 763.8 429.5 764.0 429.8 768.1 430.2 769.9 430.5 756.9 430.8 760.5 431.1 762.7 431.5 761.5 431.8 753.6 432.1 757.2 432.5 753.2 432.8 760.9 433.1 753.9 433.4 740.8 433.8 736.9 434.1 744.5 434.4 748.4 434.8 740.0 435.1 741.6 435.4 730.8 435.8 722.8 436.1 732.3 436.4 725.4 436.7 725.7 437.1 710.0 437.4 715.9 437.7 707.5 438.1 712.3 438.4 700.1 438.7 695.8 439.0 691.8 439.4 698.6 439.7 686.5 440.0 677.0 440.4 670.5 440.7 665.2 441.0 675.3 441.4 650.9 441.7 649.8 442.0 653.1 442.3 650.3 442.7 635.6 443.0 634.9 443.3 627.8 443.7 622.0 444.0 608.6 444.3 610.7 444.6 593.7 445.0 593.9 445.3 567.9 445.6 572.0 446.0 547.9 446.3 536.2 446.6 539.0 446.9 519.2 447.3 516.5 447.6 494.5 447.9 500.4 448.3 477.3 448.6 456.7 448.9 452.9 449.3 444.9 449.6 420.3 449.9 416.8 450.2 412.2 450.6 396.1 450.9 379.8 451.2 367.2 451.6 368.9 451.9 349.4 452.2 346.9 452.5 355.4 452.9 355.8 453.2 380.3 453.5 377.2 453.9 377.7 454.2 386.3 454.5 409.2 454.8 411.5 455.2 425.6 455.5 441.7 455.8 455.8 456.2 468.8 456.5 481.7 456.8 502.4 457.2 516.3 457.5 506.8 457.8 539.8 458.1 541.7 458.5 559.8 458.8 557.1 459.1 574.0 459.5 582.8 459.8 591.2 460.1 604.6 460.4 611.3 460.8 608.7 461.1 621.8 461.4 634.2 461.8 640.6 462.1 640.6 462.4 647.0 462.7 653.6 463.1 653.3 463.4 657.5 463.7 679.9 464.1 672.9 464.4 680.6 464.7 679.9 465.1 696.6 465.4 702.1 465.7 695.5 466.0 703.8 466.4 699.8 466.7 717.1 467.0 716.9 467.4 709.7 467.7 725.4 468.0 723.2 468.3 726.6 468.7 729.1 469.0 725.9 469.3 729.4 469.7 738.9 470.0 737.5 470.3 734.8 470.7 751.7 471.0 743.9 471.3 744.1 471.6 745.6 472.0 755.8 472.3 759.5 472.6 757.3 473.0 762.9 473.3 751.1 473.6 759.5 473.9 760.7 474.3 765.2 474.6 769.7 474.9 756.8 475.3 785.9 475.6 766.8 475.9 775.3 476.2 779.5 476.6 781.1 476.9 779.0 477.2 762.6 477.6 774.1 477.9 785.9 478.2 777.6 478.6 778.1 478.9 771.9 479.2 793.3 479.5 790.4 479.9 783.6 480.2 788.9 480.5 790.2 480.9 785.4 481.2 791.2 481.5 795.1 481.8 797.7 482.2 802.7 482.5 796.6 482.8 794.7 483.2 800.4 483.5 795.4 483.8 792.7 484.1 807.0 484.5 799.2 484.8 802.8 485.1 806.5 485.5 797.3 485.8 807.8 486.1 807.4 486.5 805.0 486.8 808.4 487.1 802.6 487.4 795.1 487.8 806.5 488.1 803.5 488.4 814.0 488.8 811.2 489.1 807.3 489.4 811.1 489.7 818.9 490.1 818.1 490.4 814.3 490.7 815.2 491.1 811.7 491.4 812.9 491.7 817.4 492.0 813.8 492.4 816.6 492.7 809.1 493.0 806.4 493.4 806.6 493.7 814.0 494.0 824.1 494.4 823.6 494.7 811.8 495.0 809.1 495.3 822.4 495.7 820.8 496.0 810.9 496.3 824.6 496.7 820.0 497.0 826.6 497.3 821.4 497.6 824.6 498.0 821.7 498.3 814.8 498.6 819.0 499.0 816.7 499.3 825.1 499.6 815.2 500.0 812.3 500.3 824.7 500.6 827.3 500.9 829.1 501.3 827.2 501.6 812.8 501.9 817.3 502.3 818.2 502.6 821.1 502.9 809.3 503.2 821.1 503.6 822.6 503.9 815.8 504.2 821.6 504.6 827.4 504.9 821.0 505.2 826.4 505.5 826.0 505.9 822.5 506.2 822.1 506.5 817.7 506.9 826.3 507.2 816.5 507.5 815.0 507.9 822.4 508.2 814.1 508.5 820.0 508.8 823.1 509.2 817.2 509.5 816.8 509.8 820.7 510.2 819.2 510.5 805.8 510.8 806.4 511.1 820.3 511.5 814.3 511.8 799.7 512.1 802.8 512.5 809.5 512.8 802.9 513.1 809.9 513.4 806.5 513.8 807.5 514.1 796.9 514.4 805.5 514.8 811.5 515.1 794.4 515.4 804.6 515.8 800.9 516.1 797.1 516.4 791.1 516.7 782.7 517.1 782.1 517.4 789.0 517.7 787.7 518.1 786.4 518.4 782.1 518.7 778.9 519.0 768.2 519.4 760.6 519.7 765.4 520.0 763.7 520.4 757.8 520.7 744.9 521.0 747.0 521.3 737.8 521.7 743.6 522.0 732.9 522.3 734.6 522.7 734.0 523.0 729.7 523.3 734.0 523.7 716.6 524.0 711.1 524.3 724.4 524.6 725.6 525.0 724.7 525.3 717.2 525.6 718.7 526.0 716.5 526.3 708.7 526.6 714.1 526.9 721.8 527.3 717.0 527.6 731.7 527.9 715.4 528.3 724.4 528.6 736.1 528.9 728.8 529.3 728.6 529.6 730.3 529.9 737.2 530.2 753.4 530.6 750.2 530.9 754.1 531.2 751.3 531.6 762.4 531.9 761.4 532.2 758.6 532.5 764.4 532.9 771.2 533.2 779.7 533.5 775.5 533.9 781.5 534.2 792.8 534.5 779.4 534.8 779.4 535.2 794.5 535.5 793.8 535.8 793.0 536.2 797.2 536.5 796.0 536.8 802.8 537.2 799.9 537.5 808.2 537.8 798.9 538.1 802.7 538.5 809.5 538.8 807.8 539.1 815.8 539.5 813.2 539.8 811.9 540.1 817.4 540.4 814.6 540.8 810.2 541.1 813.7 541.4 816.7 541.8 819.7 542.1 823.9 542.4 829.4 542.7 828.4 543.1 836.1 543.4 834.3 543.7 827.1 544.1 838.1 544.4 836.3 544.7 828.2 545.1 833.1 545.4 838.1 545.7 834.2 546.0 839.1 546.4 836.4 546.7 838.7 547.0 833.8 547.4 838.2 547.7 834.7 548.0 841.0 548.3 828.7 548.7 840.2 549.0 845.7 549.3 842.6 549.7 839.8 550.0 843.3 550.3 836.2 550.6 836.8 551.0 839.8 551.3 841.3 551.6 847.8 552.0 838.1 552.3 848.7 552.6 835.2 553.0 839.8 553.3 844.2 553.6 851.0 553.9 841.8 554.3 833.9 554.6 848.0 554.9 845.9 555.3 840.6 555.6 841.1 555.9 843.2 556.2 847.8 556.6 851.1 556.9 839.9 557.2 860.4 557.6 848.1 557.9 846.6 558.2 852.5 558.6 849.7 558.9 861.9 559.2 855.5 559.5 847.8 559.9 847.9 560.2 847.6 560.5 848.6 560.9 854.3 561.2 847.4 561.5 859.7 561.8 850.8 562.2 850.7 562.5 856.7 562.8 841.2 563.2 847.0 563.5 855.4 563.8 852.4 564.1 852.5 564.5 854.8 564.8 849.7 565.1 852.1 565.5 845.9 565.8 843.3 566.1 860.3 566.5 848.7 566.8 850.0 567.1 861.4 567.4 859.8 567.8 851.4 568.1 851.6 568.4 854.1 568.8 849.6 569.1 857.7 569.4 855.7 569.7 855.8 570.1 859.2 570.4 859.2 570.7 865.3 571.1 863.7 571.4 846.6 571.7 860.6 572.0 850.0 572.4 848.4 572.7 859.9 573.0 852.5 573.4 854.7 573.7 862.2 574.0 853.1 574.4 851.9 574.7 858.6 575.0 863.4 575.3 859.8 575.7 848.9 576.0 853.8 576.3 856.5 576.7 867.7 577.0 862.3 577.3 862.1 577.6 864.1 578.0 856.1 578.3 860.4 578.6 860.6 579.0 852.9 579.3 858.1 579.6 861.2 579.9 852.6 580.3 862.7 580.6 862.5 580.9 864.1 581.3 854.5 581.6 859.3 581.9 866.5 582.3 863.1 582.6 854.8 582.9 860.2 583.2 866.7 583.6 858.8 583.9 861.3 584.2 873.0 584.6 859.2 584.9 858.9 585.2 854.2 585.5 856.1 585.9 867.6 586.2 859.0 586.5 853.5 586.9 855.0 587.2 860.0 587.5 864.1 587.9 856.1 588.2 863.9 588.5 857.6 588.8 862.2 589.2 863.1 589.5 863.6 589.8 858.2 590.2 859.6 590.5 863.2 590.8 853.8 591.1 861.6 591.5 863.4 591.8 866.3 592.1 860.6 592.5 859.9 592.8 861.6 593.1 857.1 593.4 859.9 593.8 863.2 594.1 862.6 594.4 855.6 594.8 859.5 595.1 850.1 595.4 865.5 595.8 858.5 596.1 862.6 596.4 855.6 596.7 861.0 597.1 863.9 597.4 866.7 597.7 854.4 598.1 866.1 598.4 860.8 598.7 857.6 599.0 864.3 599.4 860.3 599.7 860.3 600.0 858.2 600.4 863.1 600.7 862.2 601.0 861.1 601.3 857.0 601.7 859.4 602.0 864.3 602.3 868.9 602.7 862.1 603.0 869.7 603.3 862.3 603.7 856.6 604.0 865.7 604.3 857.4 604.6 864.6 605.0 868.2 605.3 861.0 605.6 862.2 606.0 875.6 606.3 864.0 606.6 864.1 606.9 866.9 607.3 862.3 607.6 862.4 607.9 864.9 608.3 850.4 608.6 870.4 608.9 857.4 609.2 857.4 609.6 865.9 609.9 863.3 610.2 856.6 610.6 864.3 610.9 857.3 611.2 859.6 611.6 855.4 611.9 859.0 612.2 865.5 612.5 864.1 612.9 865.1 613.2 868.3 613.5 863.3 613.9 860.1 614.2 862.1 614.5 872.3 614.8 863.9 615.2 865.4 615.5 863.2 615.8 865.1 616.2 866.1 616.5 863.8 616.8 863.1 617.2 859.8 617.5 859.5 617.8 866.1 618.1 867.9 618.5 868.9 618.8 864.3 619.1 859.8 619.5 867.4 619.8 867.4 620.1 856.3 620.4 868.4 620.8 867.3 621.1 873.0 621.4 858.4 621.8 857.7 622.1 868.5 622.4 855.0 622.7 860.6 623.1 858.8 623.4 859.2 623.7 854.6 624.1 863.3 624.4 869.7 624.7 866.9 625.1 867.0 625.4 862.8 625.7 872.2 626.0 867.5 626.4 870.2 626.7 856.7 627.0 866.6 627.4 858.9 627.7 866.7 628.0 866.0 628.3 859.1 628.7 865.9 629.0 871.0 629.3 867.7 629.7 868.1 630.0 860.6 630.3 861.6 630.6 859.4 631.0 865.9 631.3 871.4 631.6 867.5 632.0 865.3 632.3 859.5 632.6 867.6 633.0 864.1 633.3 855.5 633.6 856.4 633.9 863.7 634.3 860.8 634.6 874.0 634.9 865.7 635.3 860.1 635.6 863.0 635.9 873.8 636.2 860.7 636.6 869.6 636.9 867.9 637.2 873.3 637.6 868.5 637.9 863.6 638.2 868.5 638.6 866.1 638.9 870.8 639.2 865.5 639.5 876.1 639.9 865.3 640.2 868.2 640.5 862.5 640.9 866.6 641.2 866.1 641.5 866.9 641.8 870.7 642.2 863.3 642.5 861.7 642.8 871.8 643.2 864.6 643.5 862.7 643.8 872.1 644.1 870.2 644.5 852.5 644.8 864.3 645.1 870.3 645.5 870.6 645.8 863.7 646.1 874.4 646.5 862.3 646.8 865.2 647.1 867.1 647.4 866.4 647.8 870.6 648.1 871.7 648.4 866.3 648.8 873.7 649.1 863.0 649.4 865.5 649.7 875.5 650.1 867.1 650.4 872.1 650.7 864.4 651.1 865.3 651.4 866.1 651.7 867.6 652.0 865.0 652.4 866.8 652.7 870.2 653.0 873.0 653.4 867.4 653.7 870.2 654.0 871.6 654.4 861.3 654.7 858.8 655.0 875.2 655.3 873.7 655.7 867.2 656.0 868.8 656.3 862.1 656.7 859.9 657.0 868.6 657.3 859.4 657.6 871.7 658.0 863.6 658.3 868.6 658.6 877.0 659.0 876.8 659.3 865.7 659.6 872.6 659.9 861.8 660.3 864.2 660.6 869.1 660.9 874.3 661.3 864.2 661.6 870.0 661.9 867.7 662.3 860.7 662.6 866.6 662.9 875.0 663.2 866.8 663.6 869.9 663.9 871.6 664.2 863.5 664.6 873.6 664.9 875.1 665.2 875.5 665.5 874.1 665.9 865.0 666.2 864.4 666.5 863.3 666.9 862.7 667.2 863.3 667.5 872.5 667.9 874.9 668.2 864.1 668.5 871.6 668.8 860.9 669.2 865.8 669.5 862.3 669.8 859.1 670.2 867.7 670.5 867.9 670.8 865.4 671.1 864.8 671.5 862.4 671.8 866.8 672.1 864.4 672.5 868.7 672.8 861.3 673.1 868.7 673.4 870.1 673.8 873.9 674.1 872.9 674.4 868.5 674.8 864.0 675.1 858.2 675.4 867.5 675.8 874.8 676.1 876.1 676.4 854.5 676.7 863.7 677.1 865.8 677.4 862.2 677.7 868.5 678.1 867.8 678.4 864.9 678.7 867.4 679.0 859.4 679.4 862.6 679.7 863.0 680.0 872.2 680.4 859.3 680.7 866.5 681.0 871.6 681.3 867.3 681.7 871.8 682.0 864.3 682.3 869.8 682.7 872.2 683.0 879.0 683.3 871.3 683.7 874.9 684.0 867.7 684.3 868.1 684.6 875.6 685.0 870.6 685.3 874.9 685.6 871.2 686.0 878.5 686.3 879.8 686.6 863.3 686.9 877.1 687.3 869.8 687.6 870.1 687.9 867.0 688.3 871.3 688.6 861.9 688.9 863.9 689.2 863.7 689.6 869.1 689.9 872.3 690.2 871.4 690.6 869.5 690.9 864.6 691.2 858.6 691.6 869.6 691.9 868.3 692.2 869.4 692.5 874.8 692.9 866.6 693.2 866.5 693.5 855.7 693.9 870.4 694.2 867.2 694.5 863.7 694.8 869.4 695.2 862.1 695.5 864.7 695.8 877.4 696.2 871.2 696.5 872.1 696.8 871.2 697.2 870.6 697.5 868.3 697.8 878.9 698.1 866.9 698.5 871.0 698.8 866.1 699.1 865.4 699.5 854.7 699.8 857.3 700.1 875.0 700.4 874.7 700.8 864.8 701.1 866.8 701.4 870.1 701.8 861.9 702.1 875.9 702.4 861.6 702.7 863.2 703.1 852.7 703.4 874.5 703.7 867.0 704.1 875.0 704.4 861.6 704.7 868.3 705.1 867.0 705.4 867.6 705.7 877.1 706.0 878.0 706.4 873.4 706.7 864.3 707.0 870.9 707.4 873.1 707.7 869.1 708.0 869.1 708.3 868.6 708.7 861.5 709.0 867.3 709.3 874.1 709.7 860.8 710.0 866.3 710.3 870.0 710.6 858.8 711.0 865.0 711.3 857.0 711.6 862.5 712.0 858.3 712.3 860.9 712.6 862.9 713.0 863.9 713.3 864.2 713.6 852.9 713.9 873.1 714.3 863.6 714.6 859.3 714.9 861.6 715.3 866.3 715.6 859.5 715.9 862.4 716.2 862.0 716.6 867.1 716.9 860.4 717.2 866.4 717.6 865.8 717.9 863.2 718.2 870.1 718.5 863.8 718.9 857.6 719.2 865.0 719.5 863.9 719.9 863.0 720.2 864.2 720.5 874.9 720.9 864.0 721.2 865.0 721.5 861.2 721.8 869.0 722.2 861.9 722.5 857.9 722.8 855.6 723.2 864.3 723.5 865.2 723.8 853.2 724.1 857.3 724.5 864.1 724.8 865.8 725.1 853.6 725.5 858.0 725.8 864.1 726.1 856.9 726.5 857.0 726.8 856.3 727.1 852.1 727.4 858.7 727.8 859.7 728.1 850.7 728.4 858.0 728.8 862.8 729.1 857.8 729.4 861.2 729.7 853.2 730.1 862.5 730.4 851.1 730.7 864.3 731.1 851.9 731.4 850.0 731.7 848.6 732.0 850.6 732.4 849.6 732.7 848.0 733.0 849.3 733.4 853.7 733.7 854.2 734.0 847.3 734.4 854.6 734.7 842.5 735.0 841.6 735.3 840.3 735.7 848.4 736.0 836.5 736.3 836.4 736.7 849.2 737.0 850.6 737.3 847.7 737.6 832.1 738.0 838.8 738.3 842.0 738.6 837.1 739.0 827.1 739.3 832.5 739.6 824.3 739.9 825.5 740.3 841.7 740.6 832.8 740.9 820.3 741.3 818.7 741.6 827.4 741.9 820.4 742.3 825.1 742.6 817.1 742.9 817.8 743.2 818.5 743.6 810.2 743.9 803.8 744.2 805.8 744.6 806.6 744.9 807.3 745.2 806.2 745.5 804.2 745.9 805.3 746.2 795.9 746.5 805.9 746.9 807.1 747.2 796.3 747.5 793.2 747.8 796.6 748.2 791.2 748.5 786.5 748.8 782.3 749.2 776.9 749.5 772.2 749.8 779.7 750.2 780.1 750.5 765.6 750.8 768.4 751.1 767.5 751.5 761.5 751.8 757.2 752.1 756.6 752.5 747.6 752.8 753.3 753.1 749.4 753.4 757.2 753.8 750.8 754.1 741.1 754.4 740.2 754.8 746.3 755.1 743.4 755.4 732.6 755.8 727.8 756.1 717.3 756.4 720.1 756.7 717.5 757.1 710.7 757.4 720.0 757.7 698.0 758.1 701.8 758.4 700.4 758.7 695.9 759.0 697.8 759.4 675.7 759.7 674.5 760.0 674.4 760.4 669.9 760.7 662.5 761.0 656.4 761.3 663.8 761.7 649.1 762.0 650.5 762.3 661.8 762.7 662.9 763.0 659.1 763.3 649.9 763.7 651.2 764.0 652.4 764.3 652.9 764.6 659.2 765.0 671.3 765.3 667.9 765.6 665.1 766.0 668.1 766.3 669.0 766.6 685.9 766.9 673.5 767.3 687.6 767.6 681.6 767.9 687.5 768.3 688.8 768.6 706.4 768.9 704.4 769.2 717.7 769.6 706.7 769.9 710.3 770.2 723.4 770.6 727.0 770.9 726.1 771.2 722.8 771.6 743.0 771.9 741.8 772.2 744.4 772.5 742.5 772.9 752.6 773.2 749.5 773.5 756.1 773.9 758.1 774.2 769.0 774.5 762.9 774.8 766.6 775.2 777.4 775.5 775.6 775.8 777.1 776.2 778.8 776.5 787.8 776.8 782.0 777.1 790.5 777.5 799.3 777.8 795.1 778.1 791.4 778.5 791.5 778.8 800.9 779.1 796.0 779.5 796.3 779.8 802.8 780.1 803.1 780.4 815.3 780.8 805.3 781.1 822.8 781.4 812.7 781.8 819.0 782.1 823.6 782.4 823.0 782.7 827.2 783.1 820.0 783.4 815.1 783.7 827.1 784.1 821.1 784.4 828.1 784.7 837.2 785.1 832.8 785.4 832.1 785.7 830.6 786.0 836.0 786.4 837.8 786.7 831.8 787.0 842.4 787.4 836.5 787.7 844.1 788.0 841.7 788.3 849.9 788.7 850.1 789.0 846.7 789.3 847.0 789.7 850.6 790.0 856.1 790.3 855.3 790.6 851.5 791.0 853.0 791.3 860.0 791.6 844.6 792.0 856.1 792.3 849.5 792.6 861.3 793.0 852.7 793.3 855.2 793.6 850.8 793.9 856.8 794.3 861.2 794.6 866.0 794.9 851.9 795.3 856.4 795.6 873.0 795.9 864.1 796.2 859.8 796.6 862.8 796.9 847.4 797.2 868.9 797.6 862.0 797.9 854.4 798.2 867.6 798.5 859.0 798.9 857.3 799.2 865.3 799.5 864.9 799.9 860.9 800.2 863.1 800.5 857.0 800.9 856.8 801.2 868.5 801.5 870.8 801.8 866.6 802.2 866.6 802.5 863.0 802.8 864.5 803.2 860.7 803.5 874.1 803.8 862.8 804.1 867.8 804.5 865.9 804.8 859.2 805.1 875.8 805.5 864.6 805.8 862.8 806.1 867.2 806.4 862.4 806.8 867.1 807.1 862.4 807.4 870.0 807.8 867.6 808.1 860.7 808.4 872.6 808.8 868.6 809.1 862.4 809.4 869.7 809.7 870.1 810.1 877.2 810.4 864.0 810.7 872.5 811.1 868.0 811.4 871.5 811.7 867.3 812.0 868.4 812.4 871.2 812.7 863.1 813.0 858.7 813.4 869.0 813.7 867.0 814.0 869.7 814.4 872.5 814.7 868.4 815.0 875.3 815.3 869.4 815.7 870.2 816.0 873.8 816.3 872.7 816.7 869.5 817.0 870.6 817.3 866.4 817.6 867.1 818.0 870.7 818.3 874.2 818.6 868.2 819.0 874.5 819.3 879.9 819.6 881.0 819.9 870.7 820.3 875.8 820.6 873.7 820.9 874.6 821.3 874.9 821.6 873.5 821.9 875.0 822.3 872.0 822.6 869.8 822.9 872.4 823.2 873.6 823.6 877.2 823.9 873.1 824.2 875.0 824.6 878.3 824.9 866.9 825.2 870.2 825.5 874.2 825.9 871.7 826.2 866.7 826.5 876.4 826.9 871.3 827.2 866.9 827.5 880.9 827.8 865.6 828.2 871.8 828.5 868.6 828.8 872.4 829.2 874.7 829.5 868.0 829.8 871.5 830.2 871.4 830.5 867.2 830.8 877.7 831.1 872.9 831.5 870.7 831.8 868.9 832.1 870.6 832.5 872.9 832.8 870.0 833.1 878.3 833.4 860.0 833.8 861.9 834.1 871.1 834.4 863.4 834.8 872.0 835.1 869.2 835.4 875.2 835.7 874.4 836.1 878.7 836.4 876.9 836.7 878.5 837.1 875.0 837.4 877.6 837.7 874.9 838.1 869.7 838.4 866.5 838.7 866.7 839.0 874.9 839.4 861.1 839.7 873.4 840.0 869.0 840.4 876.1 840.7 873.6 841.0 869.0 841.3 872.7 841.7 861.7 842.0 873.9 842.3 874.9 842.7 863.8 843.0 876.8 843.3 872.1 843.7 873.5 844.0 865.8 844.3 875.6 844.6 875.5 845.0 872.6 845.3 867.9 845.6 876.3 846.0 878.6 846.3 874.6 846.6 877.5 846.9 869.9 847.3 873.4 847.6 874.5 847.9 873.4 848.3 885.8 848.6 874.7 848.9 870.0 849.2 876.6 849.6 867.5 849.9 874.4 850.2 876.3 850.6 870.3 850.9 871.1 851.2 868.1 851.6 873.3 851.9 869.4 852.2 880.9 852.5 875.7 852.9 871.5 853.2 865.8 853.5 882.2 853.9 878.7 854.2 874.7 854.5 873.4 854.8 873.3 855.2 870.2 855.5 881.3 855.8 873.3 856.2 865.4 856.5 869.1 856.8 859.9 857.1 875.3 857.5 875.8 857.8 880.5 858.1 882.0 858.5 868.3 858.8 874.1 859.1 876.6 859.5 875.6 859.8 869.3 860.1 875.5 860.4 874.0 860.8 878.1 861.1 871.4 861.4 870.3 861.8 868.9 862.1 869.5 862.4 867.6 862.7 869.5 863.1 873.4 863.4 873.1 863.7 877.1 864.1 876.0 864.4 873.7 864.7 865.1 865.0 873.2 865.4 875.9 865.7 864.1 866.0 864.8 866.4 865.5 866.7 864.9 867.0 868.4 867.4 865.2 867.7 871.3 868.0 863.6 868.3 868.6 868.7 866.7 869.0 864.3 869.3 873.7 869.7 868.7 870.0 871.0 870.3 866.7 870.6 871.4 871.0 870.8 871.3 867.0 871.6 859.1 872.0 871.2 872.3 870.4 872.6 867.7 873.0 867.8 873.3 867.0 873.6 867.0 873.9 861.1 874.3 865.3 874.6 866.8 874.9 862.1 875.3 860.1 875.6 873.3 875.9 867.0 876.2 862.3 876.6 861.1 876.9 850.5 877.2 855.9 877.6 861.1 877.9 868.0 878.2 851.7 878.5 857.7 878.9 869.7 879.2 863.3 879.5 861.6 879.9 864.9 880.2 858.1 880.5 857.3 880.9 861.0 881.2 861.1 881.5 851.3 881.8 863.1 882.2 846.8 882.5 851.2 882.8 866.9 883.2 850.7 883.5 855.5 883.8 846.9 884.1 849.4 884.5 846.6 884.8 847.4 885.1 851.6 885.5 855.9 885.8 850.8 886.1 853.2 886.4 842.3 886.8 850.8 887.1 845.5 887.4 848.3 887.8 838.7 888.1 838.4 888.4 845.0 888.8 840.2 889.1 836.6 889.4 831.5 889.7 833.1 890.1 834.6 890.4 834.5 890.7 826.9 891.1 826.6 891.4 828.9 891.7 819.9 892.0 828.4 892.4 822.2 892.7 820.0 893.0 807.3 893.4 809.6 893.7 810.7 894.0 811.2 894.3 806.9 894.7 812.3 895.0 809.4 895.3 805.5 895.7 795.0 896.0 810.0 896.3 799.8 896.7 802.1 897.0 793.8 897.3 795.1 897.6 796.5 898.0 792.1 898.3 793.5 898.6 785.6 899.0 792.3 899.3 774.1 899.6 777.0 899.9 782.3 900.3 773.8 900.6 770.4 900.9 762.2 901.3 773.7 901.6 757.2 901.9 765.2 902.3 761.1 902.6 762.0 902.9 762.3 903.2 748.7 903.6 745.5 903.9 745.4 904.2 736.2 904.6 745.8 904.9 736.9 905.2 737.1 905.5 727.9 905.9 731.2 906.2 725.4 906.5 725.7 906.9 718.1 907.2 726.7 907.5 715.9 907.8 709.1 908.2 718.7 908.5 712.1 908.8 707.5 909.2 719.4 909.5 709.7 909.8 702.5 910.2 706.3 910.5 712.0 910.8 709.8 911.1 718.8 911.5 719.5 911.8 711.8 912.1 718.2 912.5 723.7 912.8 720.7 913.1 723.1 913.4 732.8 913.8 733.5 914.1 727.0 914.4 734.4 914.8 738.3 915.1 742.9 915.4 743.1 915.7 756.7 916.1 748.3 916.4 750.9 916.7 760.6 917.1 754.9 917.4 760.7 917.7 772.0 918.1 765.3 918.4 770.7 918.7 783.2 919.0 782.9 919.4 783.7 919.7 787.3 920.0 785.4 920.4 792.7 920.7 792.7 921.0 804.0 921.3 801.0 921.7 798.9 922.0 802.4 922.3 805.0 922.7 800.0 923.0 804.6 923.3 817.8 923.6 805.4 924.0 811.0 924.3 820.3 924.6 824.2 925.0 813.5 925.3 826.8 925.6 819.4 926.0 830.3 926.3 826.0 926.6 823.4 926.9 829.3 927.3 829.6 927.6 824.2 927.9 839.0 928.3 828.1 928.6 836.1 928.9 829.2 929.2 823.6 929.6 827.7 929.9 833.2 930.2 837.6 930.6 843.3 930.9 836.0 931.2 834.9 931.6 831.0 931.9 837.1 932.2 839.2 932.5 827.9 932.9 844.8 933.2 844.5 933.5 850.2 933.9 835.6 934.2 840.5 934.5 840.7 934.8 834.7 935.2 837.2 935.5 836.9 935.8 844.1 936.2 844.0 936.5 848.5 936.8 840.5 937.1 836.0 937.5 844.8 937.8 844.6 938.1 846.2 938.5 849.0 938.8 840.6 939.1 847.1 939.5 838.8 939.8 844.3 940.1 846.8 940.4 843.1 940.8 844.7 941.1 837.2 941.4 840.7 941.8 844.4 942.1 838.1 942.4 839.7 942.7 855.0 943.1 844.9 943.4 839.8 943.7 838.8 944.1 849.9 944.4 830.6 944.7 841.6 945.0 846.0 945.4 840.3 945.7 845.3 946.0 837.9 946.4 842.6 946.7 842.7 947.0 842.5 947.4 843.0 947.7 842.4 948.0 847.3 948.3 840.8 948.7 839.2 949.0 840.5 949.3 840.4 949.7 834.6 950.0 832.7 950.3 835.3 950.6 842.8 951.0 838.3 951.3 839.4 951.6 854.6 952.0 846.5 952.3 840.3 952.6 838.3 952.9 847.6 953.3 837.6 953.6 847.0 953.9 844.0 954.3 847.7 954.6 838.0 954.9 845.6 955.3 833.1 955.6 840.8 955.9 846.7 956.2 845.0 956.6 833.4 956.9 845.2 957.2 844.3 957.6 842.1 957.9 839.3 958.2 841.6 958.5 840.5 958.9 847.8 959.2 845.9 959.5 849.0 959.9 847.6 960.2 838.9 960.5 845.8 960.9 855.4 961.2 840.9 961.5 847.7 961.8 843.3 962.2 843.3 962.5 848.8 962.8 852.5 963.2 852.3 963.5 851.4 963.8 854.2 964.1 842.9 964.5 854.6 964.8 853.2 965.1 851.1 965.5 852.4 965.8 849.1 966.1 858.8 966.4 850.6 966.8 847.9 967.1 855.1 967.4 853.0 967.8 855.9 968.1 863.6 968.4 856.6 968.8 858.3 969.1 868.5 969.4 852.4 969.7 860.9 970.1 865.1 970.4 867.1 970.7 870.9 971.1 858.3 971.4 864.5 971.7 861.8 972.0 860.6 972.4 859.8 972.7 856.9 973.0 865.5 973.4 867.8 973.7 860.0 974.0 868.6 974.3 863.1 974.7 861.4 975.0 854.6 975.3 871.7 975.7 870.3 976.0 866.1 976.3 866.1 976.7 862.3 977.0 870.8 977.3 868.5 977.6 871.5 978.0 870.2 978.3 863.4 978.6 863.0 979.0 872.2 979.3 863.0 979.6 872.1 979.9 875.2 980.3 865.6 980.6 874.7 980.9 872.1 981.3 874.5 981.6 869.5 981.9 872.5 982.2 874.7 982.6 881.2 982.9 876.5 983.2 875.7 983.6 867.9 983.9 875.4 984.2 871.0 984.6 873.9 984.9 875.6 985.2 878.9 985.5 877.4 985.9 875.7 986.2 874.8 986.5 881.2 986.9 871.4 987.2 875.7 987.5 881.7 987.8 874.9 988.2 879.6 988.5 880.0 988.8 884.9 989.2 881.2 989.5 869.0 989.8 876.4 990.2 877.8 990.5 880.3 990.8 878.4 991.1 885.2 991.5 881.8 991.8 871.7 992.1 874.2 992.5 868.0 992.8 884.8 993.1 876.7 993.4 876.6 993.8 870.3 994.1 875.4 994.4 879.3 994.8 875.6 995.1 875.7 995.4 874.8 995.7 886.3 996.1 875.2 996.4 871.2 996.7 875.4 997.1 876.2 997.4 877.3 997.7 876.7 998.1 872.9 998.4 877.0 998.7 879.6 999.0 871.8 999.4 886.8 999.7 885.6 1000.0 870.1 1000.4 876.6 1000.7 882.7 1001.0 884.2 1001.3 886.2 1001.7 870.2 1002.0 873.5 1002.3 876.2 1002.7 881.0 1003.0 873.9 1003.3 880.6 1003.6 880.7 1004.0 882.0 1004.3 873.2 1004.6 879.8 1005.0 879.3 1005.3 877.2 1005.6 884.9 1006.0 877.9 1006.3 885.6 1006.6 876.7 1006.9 886.9 1007.3 886.7 1007.6 875.9 1007.9 881.0 1008.3 881.0 1008.6 875.4 1008.9 883.2 1009.2 882.4 1009.6 876.0 1009.9 880.3 1010.2 883.9 1010.6 879.3 1010.9 876.9 1011.2 887.3 1011.5 875.9 1011.9 881.7 1012.2 885.2 1012.5 883.8 1012.9 872.3 1013.2 879.0 1013.5 879.9 1013.9 879.6 1014.2 883.4 1014.5 883.1 1014.8 881.3 1015.2 882.0 1015.5 885.3 1015.8 886.4 1016.2 872.7 1016.5 890.5 1016.8 878.6 1017.1 884.5 1017.5 874.0 1017.8 878.9 1018.1 875.7 1018.5 886.0 1018.8 885.2 1019.1 881.4 1019.5 880.6 1019.8 883.1 1020.1 877.4 1020.4 878.8 1020.8 878.2 1021.1 885.1 1021.4 881.7 1021.8 876.1 1022.1 883.2 1022.4 884.0 1022.7 887.8 1023.1 879.3 1023.4 883.5 1023.7 890.9 1024.1 880.4 1024.4 880.3 1024.7 884.1 1025.0 879.8 1025.4 882.0 1025.7 879.8 1026.0 878.6 1026.4 885.9 1026.7 880.4 1027.0 877.7 1027.4 880.9 1027.7 881.5 1028.0 883.5 1028.3 886.2 1028.7 889.9 1029.0 876.9 1029.3 881.2 1029.7 874.4 1030.0 883.2 1030.3 884.6 1030.6 879.5 1031.0 878.4 1031.3 878.1 1031.6 875.9 1032.0 885.1 1032.3 890.6 1032.6 877.5 1032.9 889.5 1033.3 882.0 1033.6 876.5 1033.9 884.9 1034.3 885.8 1034.6 884.2 1034.9 881.4 1035.3 889.7 1035.6 881.3 1035.9 885.3 1036.2 885.4 1036.6 878.8 1036.9 874.7 1037.2 875.2 1037.6 881.0 1037.9 884.2 1038.2 875.0 1038.5 879.6 1038.9 889.3 1039.2 875.0 1039.5 884.7 1039.9 884.3 1040.2 886.2 1040.5 876.5 1040.8 884.3 1041.2 876.9 1041.5 888.6 1041.8 879.2 1042.2 884.5 1042.5 879.5 1042.8 883.5 1043.2 876.4 1043.5 884.2 1043.8 885.6 1044.1 882.9 1044.5 889.9 1044.8 884.6 1045.1 886.4 1045.5 885.2 1045.8 891.1 1046.1 880.3 1046.4 882.0 1046.8 882.2 1047.1 885.8 1047.4 884.3 1047.8 886.8 1048.1 884.5 1048.4 881.1 1048.8 883.0 1049.1 885.2 1049.4 873.6 1049.7 889.3 1050.1 881.0 1050.4 881.9 1050.7 884.5 1051.1 882.4 1051.4 877.3 1051.7 882.5 1052.0 889.5 1052.4 888.0 1052.7 888.9 1053.0 881.3 1053.4 882.7 1053.7 888.2 1054.0 890.0 1054.3 883.8 1054.7 879.6 1055.0 875.5 1055.3 889.8 1055.7 877.3 1056.0 885.7 1056.3 887.7 1056.7 895.7 1057.0 884.7 1057.3 883.4 1057.6 885.9 1058.0 886.2 1058.3 889.7 1058.6 887.0 1059.0 880.8 1059.3 875.0 1059.6 885.3 1059.9 881.2 1060.3 890.1 1060.6 878.5 1060.9 885.0 1061.3 881.0 1061.6 880.4 1061.9 891.3 1062.2 884.9 1062.6 883.4 1062.9 887.4 1063.2 880.8 1063.6 882.6 1063.9 881.5 1064.2 892.7 1064.6 885.6 1064.9 886.9 1065.2 889.0 1065.5 883.4 1065.9 883.6 1066.2 877.2 1066.5 886.3 1066.9 885.3 1067.2 882.5 1067.5 889.4 1067.8 876.6 1068.2 886.0 1068.5 878.3 1068.8 879.3 1069.2 883.3 1069.5 889.9 1069.8 879.1 1070.1 879.9 1070.5 879.0 1070.8 892.8 1071.1 886.5 1071.5 885.9 1071.8 893.0 1072.1 885.3 1072.5 875.2 1072.8 882.0 1073.1 879.1 1073.4 892.8 1073.8 878.1 1074.1 885.4 1074.4 881.9 1074.8 882.2 1075.1 884.2 1075.4 883.5 1075.7 881.1 1076.1 878.8 1076.4 881.3 1076.7 879.6 1077.1 880.1 1077.4 884.5 1077.7 883.3 1078.1 886.0 1078.4 882.9 1078.7 892.1 1079.0 880.7 1079.4 879.5 1079.7 888.2 1080.0 880.7 1080.4 884.3 1080.7 887.9 1081.0 883.2 1081.3 882.1 1081.7 887.7 1082.0 884.9 1082.3 881.2 1082.7 878.3 1083.0 881.8 1083.3 876.3 1083.6 879.6 1084.0 878.6 1084.3 884.4 1084.6 886.3 1085.0 880.3 1085.3 881.1 1085.6 878.2 1086.0 876.9 1086.3 880.9 1086.6 885.1 1086.9 884.6 1087.3 885.0 1087.6 881.3 1087.9 871.0 1088.3 886.2 1088.6 887.8 1088.9 885.9 1089.2 885.8 1089.6 886.5 1089.9 893.2 1090.2 883.0 1090.6 888.2 1090.9 884.9 1091.2 884.2 1091.5 880.7 1091.9 879.6 1092.2 876.2 1092.5 883.3 1092.9 879.3 1093.2 875.4 1093.5 877.1 1093.9 875.2 1094.2 886.8 1094.5 878.8 1094.8 880.1 1095.2 874.4 1095.5 875.0 1095.8 883.6 1096.2 878.0 1096.5 879.7 1096.8 886.3 1097.1 887.2 1097.5 881.0 1097.8 880.0 1098.1 878.7 1098.5 876.2 1098.8 885.8 1099.1 871.8 1099.5 876.3 1099.8 868.3 1100.1 870.9 1100.4 877.7 1100.8 877.6 1101.1 876.8 1101.4 873.8 1101.8 871.9 1102.1 872.3 1102.4 872.6 1102.7 878.6 1103.1 879.8 1103.4 875.2 1103.7 870.7 1104.1 868.7 1104.4 873.7 1104.7 871.1 1105.0 864.0 1105.4 877.2 1105.7 871.0 1106.0 869.3 1106.4 866.6 1106.7 866.3 1107.0 873.4 1107.4 865.3 1107.7 869.3 1108.0 871.2 1108.3 876.0 1108.7 870.3 1109.0 867.3 1109.3 865.2 1109.7 870.3 1110.0 870.5 1110.3 864.1 1110.6 868.0 1111.0 864.6 1111.3 857.9 1111.6 860.1 1112.0 867.4 1112.3 869.7 1112.6 866.1 1112.9 862.0 1113.3 859.5 1113.6 864.4 1113.9 863.2 1114.3 854.6 1114.6 863.9 1114.9 857.8 1115.3 863.3 1115.6 862.4 1115.9 862.9 1116.2 864.0 1116.6 862.2 1116.9 854.5 1117.2 854.3 1117.6 862.7 1117.9 860.1 1118.2 851.2 1118.5 849.1 1118.9 861.2 1119.2 866.6 1119.5 860.5 1119.9 855.8 1120.2 857.8 1120.5 845.1 1120.8 852.2 1121.2 860.6 1121.5 859.8 1121.8 847.1 1122.2 861.1 1122.5 858.3 1122.8 860.0 1123.2 855.1 1123.5 856.0 1123.8 851.5 1124.1 857.5 1124.5 859.9 1124.8 852.3 1125.1 857.9 1125.5 854.2 1125.8 861.0 1126.1 860.9 1126.4 847.0 1126.8 859.0 1127.1 861.6 1127.4 855.2 1127.8 856.8 1128.1 857.3 1128.4 853.4 1128.8 858.0 1129.1 865.3 1129.4 861.0 1129.7 865.7 1130.1 863.8 1130.4 865.0 1130.7 860.8 1131.1 863.8 1131.4 869.4 1131.7 867.4 1132.0 863.0 1132.4 859.1 1132.7 858.5 1133.0 863.7 1133.4 864.9 1133.7 855.8 1134.0 864.7 1134.3 865.6 1134.7 865.8 1135.0 862.7 1135.3 874.9 1135.7 869.3 1136.0 860.4 1136.3 863.5 1136.7 870.2 1137.0 869.4 1137.3 868.1 1137.6 867.9 1138.0 867.5 1138.3 866.9 1138.6 864.9 1139.0 871.8 1139.3 858.8 1139.6 867.1 1139.9 875.6 1140.3 867.6 1140.6 866.3 1140.9 879.3 1141.3 876.1 1141.6 871.6 1141.9 870.1 1142.2 871.9 1142.6 871.7 1142.9 872.5 1143.2 870.8 1143.6 876.3 1143.9 872.1 1144.2 867.3 1144.6 869.7 1144.9 875.3 1145.2 871.4 1145.5 865.8 1145.9 882.2 1146.2 878.4 1146.5 874.7 1146.9 874.7 1147.2 879.2 1147.5 882.9 1147.8 875.1 1148.2 879.5 1148.5 875.5 1148.8 879.6 1149.2 873.9 1149.5 871.3 1149.8 879.3 1150.1 878.9 1150.5 882.2 1150.8 876.8 1151.1 885.2 1151.5 880.3 1151.8 886.3 1152.1 878.9 1152.5 886.5 1152.8 880.3 1153.1 881.3 1153.4 884.8 1153.8 874.0 1154.1 877.0 1154.4 888.7 1154.8 875.5 1155.1 879.7 1155.4 884.0 1155.7 887.8 1156.1 880.0 1156.4 882.7 1156.7 877.8 1157.1 880.9 1157.4 886.6 1157.7 883.9 1158.1 882.6 1158.4 884.5 1158.7 883.5 1159.0 883.7 1159.4 881.7 1159.7 879.3 1160.0 886.0 1160.4 878.8 1160.7 887.5 1161.0 892.0 1161.3 889.6 1161.7 892.8 1162.0 879.6 1162.3 884.7 1162.7 880.6 1163.0 881.0 1163.3 877.2 1163.6 879.2 1164.0 887.5 1164.3 886.9 1164.6 888.9 1165.0 888.7 1165.3 887.4 1165.6 881.2 1166.0 883.9 1166.3 887.3 1166.6 889.4 1166.9 883.0 1167.3 882.6 1167.6 882.8 1167.9 890.9 1168.3 886.9 1168.6 883.4 1168.9 881.7 1169.2 886.4 1169.6 878.1 1169.9 883.9 1170.2 882.5 1170.6 882.5 1170.9 885.6 1171.2 886.4 1171.5 895.5 1171.9 885.3 1172.2 887.6 1172.5 881.7 1172.9 878.4 1173.2 889.4 1173.5 892.6 1173.9 881.0 1174.2 884.6 1174.5 889.3 1174.8 885.3 1175.2 875.6 1175.5 888.9 1175.8 884.4 1176.2 887.8 1176.5 881.2 1176.8 888.4 1177.1 889.0 1177.5 882.1 1177.8 886.8 1178.1 882.4 1178.5 882.9 1178.8 881.4 1179.1 883.2 1179.4 882.2 1179.8 889.4 1180.1 884.0 1180.4 880.5 1180.8 890.1 1181.1 886.9 1181.4 888.6 1181.8 884.5 1182.1 887.5 1182.4 884.4 1182.7 881.0 1183.1 885.1 1183.4 885.2 1183.7 885.2 1184.1 887.9 1184.4 878.0 1184.7 885.8 1185.0 881.5 1185.4 883.5 1185.7 886.3 1186.0 884.8 1186.4 881.9 1186.7 887.4 1187.0 884.2 1187.4 888.0 1187.7 889.1 1188.0 883.0 1188.3 880.1 1188.7 884.6 1189.0 887.4 1189.3 885.5 1189.7 879.8 1190.0 877.7 1190.3 880.6 1190.6 880.5 1191.0 886.5 1191.3 884.3 1191.6 887.3 1192.0 883.6 1192.3 890.3 1192.6 883.9 1192.9 886.0 1193.3 882.2 1193.6 885.5 1193.9 887.8 1194.3 886.6 1194.6 888.5 1194.9 881.3 1195.3 885.2 1195.6 889.9 1195.9 884.4 1196.2 882.7 1196.6 882.4 1196.9 881.2 1197.2 883.7 1197.6 888.4 1197.9 884.7 1198.2 882.9 1198.5 879.9 1198.9 878.5 1199.2 891.7 1199.5 880.9 1199.9 882.9 1200.2 880.7 1200.5 883.0 1200.8 880.7 1201.2 882.6 1201.5 887.6 1201.8 879.3 1202.2 883.9 1202.5 881.6 1202.8 884.4 1203.2 879.1 1203.5 883.0 1203.8 877.7 1204.1 874.4 1204.5 876.2 1204.8 877.5 1205.1 876.7 1205.5 879.5 1205.8 884.7 1206.1 876.2 1206.4 882.0 1206.8 880.8 1207.1 877.4 1207.4 876.4 1207.8 881.4 1208.1 881.4 1208.4 878.2 1208.7 878.8 1209.1 879.1 1209.4 874.1 1209.7 879.3 1210.1 879.8 1210.4 885.0 1210.7 873.6 1211.1 875.0 1211.4 878.3 1211.7 875.6 1212.0 876.1 1212.4 877.5 1212.7 876.1 1213.0 876.9 1213.4 878.5 1213.7 870.6 1214.0 878.5 1214.3 867.9 1214.7 882.3 1215.0 879.2 1215.3 873.3 1215.7 879.0 1216.0 874.5 1216.3 876.4 1216.7 877.3 1217.0 875.6 1217.3 874.1 1217.6 876.1 1218.0 872.8 1218.3 871.9 1218.6 869.5 1219.0 866.0 1219.3 878.2 1219.6 875.0 1219.9 866.7 1220.3 872.9 1220.6 871.9 1220.9 862.8 1221.3 867.5 1221.6 869.8 1221.9 876.2 1222.2 873.5 1222.6 873.8 1222.9 870.0 1223.2 872.1 1223.6 863.8 1223.9 870.0 1224.2 870.1 1224.6 862.4 1224.9 867.6 1225.2 871.8 1225.5 872.9 1225.9 870.7 1226.2 862.5 1226.5 864.3 1226.9 862.4 1227.2 868.3 1227.5 860.3 1227.8 859.2 1228.2 856.6 1228.5 862.9 1228.8 863.3 1229.2 859.1 1229.5 858.0 1229.8 859.7 1230.1 864.8 1230.5 854.5 1230.8 858.8 1231.1 859.3 1231.5 859.4 1231.8 862.2 1232.1 860.1 1232.5 857.6 1232.8 861.5 1233.1 859.9 1233.4 856.3 1233.8 855.6 1234.1 849.9 1234.4 854.2 1234.8 850.4 1235.1 848.6 1235.4 851.3 1235.7 845.5 1236.1 848.0 1236.4 848.9 1236.7 851.5 1237.1 848.6 1237.4 850.8 1237.7 854.6 1238.0 851.3 1238.4 843.6 1238.7 840.9 1239.0 843.5 1239.4 843.2 1239.7 838.7 1240.0 839.2 1240.4 838.7 1240.7 842.3 1241.0 849.3 1241.3 849.9 1241.7 839.5 1242.0 841.1 1242.3 837.3 1242.7 836.0 1243.0 841.3 1243.3 841.3 1243.6 838.4 1244.0 842.7 1244.3 838.8 1244.6 843.7 1245.0 837.5 1245.3 842.2 1245.6 838.0 1246.0 838.9 1246.3 840.5 1246.6 833.1 1246.9 835.0 1247.3 837.3 1247.6 836.3 1247.9 838.1 1248.3 834.0 1248.6 832.0 1248.9 836.3 1249.2 837.6 1249.6 833.5 1249.9 840.8 1250.2 838.8 1250.6 839.3 1250.9 839.1 1251.2 833.2 1251.5 844.0 1251.9 833.8 1252.2 837.9 1252.5 839.3 1252.9 838.1 1253.2 837.7 1253.5 834.3 1253.9 836.0 1254.2 837.8 1254.5 842.7 1254.8 835.9 1255.2 841.0 1255.5 840.4 1255.8 839.5 1256.2 837.6 1256.5 839.4 1256.8 834.0 1257.1 841.0 1257.5 842.2 1257.8 839.5 1258.1 843.7 1258.5 843.3 1258.8 840.0 1259.1 846.0 1259.4 841.5 1259.8 852.4 1260.1 840.5 1260.4 841.7 1260.8 842.7 1261.1 846.1 1261.4 849.8 1261.8 846.3 1262.1 845.0 1262.4 853.5 1262.7 850.7 1263.1 846.4 1263.4 847.3 1263.7 842.6 1264.1 848.4 1264.4 854.7 1264.7 844.7 1265.0 844.1 1265.4 849.8 1265.7 841.2 1266.0 854.7 1266.4 844.7 1266.7 847.7 1267.0 849.8 1267.3 854.7 1267.7 852.0 1268.0 844.1 1268.3 845.0 1268.7 851.7 1269.0 843.7 1269.3 850.1 1269.7 848.3 1270.0 854.0 1270.3 855.4 1270.6 842.4 1271.0 852.7 1271.3 853.4 1271.6 848.5 1272.0 849.0 1272.3 846.9 1272.6 849.8 1272.9 852.4 1273.3 855.5 1273.6 855.8 1273.9 849.7 1274.3 847.7 1274.6 854.0 1274.9 840.8 1275.3 845.4 1275.6 852.4 1275.9 857.8 1276.2 847.2 1276.6 850.2 1276.9 845.9 1277.2 849.4 1277.6 849.3 1277.9 846.9 1278.2 850.8 1278.5 848.8 1278.9 851.1 1279.2 848.6 1279.5 845.1 1279.9 849.8 1280.2 852.3 1280.5 846.6 1280.8 854.0 1281.2 851.0 1281.5 848.3 1281.8 849.8 1282.2 848.4 1282.5 846.9 1282.8 853.3 1283.2 853.5 1283.5 849.0 1283.8 850.1 1284.1 850.2 1284.5 853.6 1284.8 856.5 1285.1 849.4 1285.5 853.0 1285.8 852.1 1286.1 854.4 1286.4 857.7 1286.8 850.0 1287.1 846.3 1287.4 853.1 1287.8 848.5 1288.1 860.0 1288.4 852.2 1288.7 854.0 1289.1 856.1 1289.4 856.3 1289.7 854.5 1290.1 856.3 1290.4 859.9 1290.7 855.9 1291.1 863.6 1291.4 858.9 1291.7 850.0 1292.0 861.4 1292.4 852.8 1292.7 860.2 1293.0 867.1 1293.4 863.4 1293.7 856.3 1294.0 857.7 1294.3 860.9 1294.7 866.0 1295.0 859.0 1295.3 865.5 1295.7 863.1 1296.0 862.1 1296.3 862.2 1296.6 868.7 1297.0 858.3 1297.3 859.8 1297.6 867.0 1298.0 867.6 1298.3 860.2 1298.6 861.7 1299.0 861.2 1299.3 867.2 1299.6 863.4 1299.9 870.6 1300.3 868.7 1300.6 867.2" fill="none" stroke="#0000FF" stroke-width="2.2" stroke-linejoin="round" stroke-linecap="round"/>
<path d="M148.3 1104.1L148.7 1099.2 149.0 1100.1 149.3 1086.0 149.7 1115.8 150.0 1111.3 150.3 1101.2 150.7 1109.0 151.0 1105.6 151.3 1099.9 151.6 1110.8 152.0 1101.8 152.3 1101.8 152.6 1098.7 153.0 1107.6 153.3 1103.8 153.6 1108.4 153.9 1100.5 154.3 1105.7 154.6 1098.7 154.9 1111.0 155.3 1106.5 155.6 1107.6 155.9 1108.3 156.3 1098.5 156.6 1111.1 156.9 1120.2 157.2 1094.4 157.6 1093.9 157.9 1095.6 158.2 1112.1 158.6 1107.2 158.9 1114.0 159.2 1111.6 159.5 1108.2 159.9 1108.8 160.2 1105.7 160.5 1113.1 160.9 1099.2 161.2 1104.3 161.5 1109.1 161.8 1120.1 162.2 1102.3 162.5 1100.2 162.8 1103.9 163.2 1114.8 163.5 1106.4 163.8 1117.5 164.2 1095.2 164.5 1116.3 164.8 1115.8 165.1 1098.7 165.5 1109.9 165.8 1117.4 166.1 1109.6 166.5 1116.1 166.8 1125.9 167.1 1111.3 167.4 1107.5 167.8 1104.2 168.1 1114.2 168.4 1108.4 168.8 1108.7 169.1 1109.3 169.4 1114.7 169.7 1102.8 170.1 1099.7 170.4 1093.5 170.7 1119.0 171.1 1111.3 171.4 1121.4 171.7 1110.9 172.1 1105.9 172.4 1114.5 172.7 1110.8 173.0 1102.6 173.4 1105.3 173.7 1124.0 174.0 1114.3 174.4 1114.8 174.7 1110.1 175.0 1107.3 175.3 1118.5 175.7 1111.6 176.0 1107.1 176.3 1111.6 176.7 1106.3 177.0 1114.1 177.3 1120.8 177.7 1107.2 178.0 1123.2 178.3 1108.6 178.6 1114.4 179.0 1107.6 179.3 1112.0 179.6 1114.0 180.0 1110.8 180.3 1109.0 180.6 1109.3 180.9 1108.4 181.3 1103.3 181.6 1112.6 181.9 1117.3 182.3 1121.0 182.6 1119.3 182.9 1132.1 183.2 1117.2 183.6 1111.9 183.9 1128.3 184.2 1108.0 184.6 1122.2 184.9 1108.8 185.2 1118.1 185.6 1102.0 185.9 1122.2 186.2 1114.9 186.5 1109.3 186.9 1128.0 187.2 1121.7 187.5 1116.8 187.9 1111.3 188.2 1116.4 188.5 1115.6 188.8 1122.0 189.2 1122.6 189.5 1112.4 189.8 1113.4 190.2 1113.6 190.5 1108.0 190.8 1113.4 191.1 1117.0 191.5 1122.6 191.8 1127.1 192.1 1112.3 192.5 1122.0 192.8 1115.1 193.1 1132.9 193.5 1118.1 193.8 1122.1 194.1 1112.1 194.4 1113.1 194.8 1120.3 195.1 1116.3 195.4 1121.6 195.8 1108.3 196.1 1124.0 196.4 1113.2 196.7 1131.6 197.1 1117.7 197.4 1127.5 197.7 1110.1 198.1 1123.0 198.4 1113.9 198.7 1116.8 199.0 1120.5 199.4 1118.2 199.7 1122.4 200.0 1125.9 200.4 1125.4 200.7 1120.3 201.0 1111.5 201.4 1115.5 201.7 1119.9 202.0 1106.5 202.3 1126.7 202.7 1119.9 203.0 1119.9 203.3 1128.4 203.7 1126.6 204.0 1123.5 204.3 1115.1 204.6 1124.4 205.0 1124.7 205.3 1116.2 205.6 1129.8 206.0 1126.2 206.3 1109.0 206.6 1123.7 207.0 1114.1 207.3 1131.0 207.6 1128.8 207.9 1115.6 208.3 1117.2 208.6 1124.2 208.9 1121.9 209.3 1134.4 209.6 1129.0 209.9 1121.9 210.2 1128.1 210.6 1109.9 210.9 1126.4 211.2 1130.4 211.6 1123.2 211.9 1119.6 212.2 1128.6 212.5 1138.5 212.9 1126.3 213.2 1117.1 213.5 1135.2 213.9 1112.0 214.2 1128.8 214.5 1121.3 214.9 1132.0 215.2 1119.6 215.5 1134.9 215.8 1127.9 216.2 1113.8 216.5 1112.2 216.8 1123.9 217.2 1135.2 217.5 1127.2 217.8 1126.8 218.1 1124.8 218.5 1131.7 218.8 1129.3 219.1 1128.7 219.5 1120.0 219.8 1135.2 220.1 1136.6 220.4 1118.0 220.8 1143.3 221.1 1132.4 221.4 1124.0 221.8 1114.2 222.1 1132.2 222.4 1131.6 222.8 1123.6 223.1 1115.3 223.4 1135.8 223.7 1123.9 224.1 1124.8 224.4 1147.8 224.7 1143.2 225.1 1135.1 225.4 1125.3 225.7 1133.1 226.0 1112.7 226.4 1129.5 226.7 1123.5 227.0 1119.9 227.4 1117.9 227.7 1132.8 228.0 1129.8 228.3 1130.4 228.7 1135.2 229.0 1123.5 229.3 1120.8 229.7 1117.1 230.0 1127.3 230.3 1135.0 230.7 1128.8 231.0 1134.4 231.3 1121.7 231.6 1126.8 232.0 1124.8 232.3 1121.5 232.6 1143.3 233.0 1136.3 233.3 1125.1 233.6 1125.1 233.9 1130.2 234.3 1120.5 234.6 1133.7 234.9 1121.7 235.3 1128.2 235.6 1123.7 235.9 1127.6 236.3 1121.7 236.6 1120.1 236.9 1124.4 237.2 1126.5 237.6 1129.2 237.9 1131.8 238.2 1142.1 238.6 1137.2 238.9 1129.8 239.2 1136.7 239.5 1126.8 239.9 1141.8 240.2 1135.6 240.5 1122.4 240.9 1137.2 241.2 1137.6 241.5 1113.2 241.8 1126.8 242.2 1128.8 242.5 1118.7 242.8 1124.7 243.2 1125.6 243.5 1135.8 243.8 1134.5 244.2 1150.8 244.5 1129.7 244.8 1140.6 245.1 1133.1 245.5 1134.5 245.8 1124.5 246.1 1119.3 246.5 1127.3 246.8 1138.1 247.1 1143.8 247.4 1137.0 247.8 1136.3 248.1 1127.0 248.4 1143.7 248.8 1142.4 249.1 1129.3 249.4 1132.7 249.7 1126.1 250.1 1143.4 250.4 1136.0 250.7 1132.5 251.1 1136.0 251.4 1136.3 251.7 1130.4 252.1 1124.6 252.4 1124.3 252.7 1121.2 253.0 1136.6 253.4 1148.9 253.7 1121.5 254.0 1134.4 254.4 1136.3 254.7 1126.6 255.0 1134.9 255.3 1125.8 255.7 1141.9 256.0 1129.3 256.3 1134.2 256.7 1138.3 257.0 1130.5 257.3 1121.0 257.6 1129.8 258.0 1138.9 258.3 1133.0 258.6 1135.2 259.0 1126.0 259.3 1134.6 259.6 1138.7 260.0 1133.9 260.3 1146.9 260.6 1132.1 260.9 1126.3 261.3 1122.3 261.6 1141.6 261.9 1133.2 262.3 1140.7 262.6 1136.8 262.9 1144.9 263.2 1142.4 263.6 1130.9 263.9 1135.5 264.2 1141.1 264.6 1124.9 264.9 1143.7 265.2 1142.0 265.6 1140.4 265.9 1132.1 266.2 1135.6 266.5 1125.7 266.9 1133.9 267.2 1129.3 267.5 1134.0 267.9 1130.0 268.2 1135.4 268.5 1141.6 268.8 1124.2 269.2 1139.8 269.5 1119.4 269.8 1118.2 270.2 1132.4 270.5 1133.3 270.8 1136.3 271.1 1121.7 271.5 1132.8 271.8 1134.0 272.1 1141.9 272.5 1132.4 272.8 1136.7 273.1 1126.2 273.5 1131.7 273.8 1129.9 274.1 1137.8 274.4 1126.0 274.8 1127.0 275.1 1136.8 275.4 1145.3 275.8 1135.4 276.1 1134.8 276.4 1130.3 276.7 1140.2 277.1 1136.4 277.4 1144.7 277.7 1134.8 278.1 1125.9 278.4 1128.5 278.7 1125.5 279.0 1123.6 279.4 1141.1 279.7 1137.9 280.0 1123.6 280.4 1144.6 280.7 1133.8 281.0 1125.4 281.4 1134.7 281.7 1131.5 282.0 1126.5 282.3 1118.3 282.7 1132.1 283.0 1133.8 283.3 1113.7 283.7 1135.5 284.0 1135.9 284.3 1128.3 284.6 1132.3 285.0 1129.5 285.3 1125.6 285.6 1128.8 286.0 1140.7 286.3 1121.1 286.6 1132.8 286.9 1132.4 287.3 1126.1 287.6 1127.9 287.9 1121.2 288.3 1124.9 288.6 1130.9 288.9 1133.0 289.3 1124.4 289.6 1150.1 289.9 1126.6 290.2 1131.4 290.6 1128.8 290.9 1127.5 291.2 1139.3 291.6 1126.9 291.9 1139.4 292.2 1138.0 292.5 1122.7 292.9 1137.1 293.2 1125.3 293.5 1148.8 293.9 1127.0 294.2 1123.1 294.5 1116.2 294.9 1120.5 295.2 1125.4 295.5 1122.4 295.8 1120.7 296.2 1124.3 296.5 1127.7 296.8 1139.1 297.2 1117.1 297.5 1125.0 297.8 1122.1 298.1 1118.1 298.5 1119.8 298.8 1122.2 299.1 1133.4 299.5 1127.0 299.8 1124.5 300.1 1132.5 300.4 1130.1 300.8 1126.5 301.1 1130.6 301.4 1122.1 301.8 1132.1 302.1 1130.9 302.4 1124.7 302.8 1119.0 303.1 1138.0 303.4 1128.0 303.7 1146.7 304.1 1122.6 304.4 1133.0 304.7 1123.9 305.1 1128.6 305.4 1132.6 305.7 1121.1 306.0 1125.9 306.4 1127.6 306.7 1127.2 307.0 1130.5 307.4 1133.4 307.7 1131.9 308.0 1127.9 308.3 1123.5 308.7 1118.0 309.0 1120.6 309.3 1122.0 309.7 1130.3 310.0 1122.9 310.3 1116.7 310.7 1129.6 311.0 1119.6 311.3 1119.7 311.6 1123.4 312.0 1128.1 312.3 1108.0 312.6 1116.8 313.0 1125.8 313.3 1121.9 313.6 1118.3 313.9 1120.5 314.3 1133.8 314.6 1120.9 314.9 1128.9 315.3 1129.3 315.6 1120.6 315.9 1126.7 316.2 1120.4 316.6 1119.2 316.9 1115.5 317.2 1129.3 317.6 1120.3 317.9 1119.2 318.2 1115.1 318.6 1135.4 318.9 1127.8 319.2 1121.6 319.5 1117.6 319.9 1111.7 320.2 1124.3 320.5 1124.2 320.9 1112.2 321.2 1130.0 321.5 1127.2 321.8 1115.0 322.2 1117.7 322.5 1118.5 322.8 1122.5 323.2 1120.3 323.5 1109.8 323.8 1131.3 324.2 1123.2 324.5 1129.6 324.8 1129.5 325.1 1119.2 325.5 1122.9 325.8 1125.5 326.1 1125.6 326.5 1119.1 326.8 1115.8 327.1 1120.2 327.4 1114.3 327.8 1115.9 328.1 1105.5 328.4 1120.1 328.8 1112.3 329.1 1115.4 329.4 1118.8 329.7 1121.3 330.1 1132.1 330.4 1120.3 330.7 1108.9 331.1 1119.6 331.4 1114.4 331.7 1121.2 332.1 1113.6 332.4 1113.3 332.7 1114.5 333.0 1113.6 333.4 1105.2 333.7 1113.1 334.0 1117.6 334.4 1125.9 334.7 1115.4 335.0 1114.7 335.3 1121.2 335.7 1120.8 336.0 1128.1 336.3 1120.9 336.7 1116.6 337.0 1126.0 337.3 1127.2 337.6 1113.1 338.0 1117.4 338.3 1104.6 338.6 1113.6 339.0 1109.9 339.3 1114.4 339.6 1112.4 340.0 1114.5 340.3 1114.9 340.6 1118.9 340.9 1117.0 341.3 1111.3 341.6 1106.2 341.9 1123.6 342.3 1124.8 342.6 1111.7 342.9 1118.6 343.2 1104.0 343.6 1103.6 343.9 1112.5 344.2 1124.5 344.6 1106.9 344.9 1108.3 345.2 1125.1 345.5 1100.7 345.9 1118.2 346.2 1117.0 346.5 1112.1 346.9 1114.7 347.2 1131.5 347.5 1105.4 347.9 1110.9 348.2 1111.3 348.5 1108.1 348.8 1103.5 349.2 1123.7 349.5 1114.1 349.8 1100.3 350.2 1107.5 350.5 1115.1 350.8 1115.0 351.1 1102.1 351.5 1111.3 351.8 1113.7 352.1 1114.5 352.5 1114.4 352.8 1098.9 353.1 1124.3 353.5 1112.8 353.8 1123.8 354.1 1130.6 354.4 1109.9 354.8 1102.4 355.1 1116.8 355.4 1109.5 355.8 1107.5 356.1 1103.4 356.4 1122.1 356.7 1107.3 357.1 1100.5 357.4 1107.0 357.7 1102.0 358.1 1111.0 358.4 1106.9 358.7 1102.4 359.0 1113.8 359.4 1105.1 359.7 1114.5 360.0 1118.1 360.4 1106.8 360.7 1104.7 361.0 1110.4 361.4 1115.1 361.7 1108.9 362.0 1109.7 362.3 1108.5 362.7 1110.7 363.0 1112.8 363.3 1103.5 363.7 1104.9 364.0 1108.5 364.3 1103.5 364.6 1108.9 365.0 1111.6 365.3 1107.7 365.6 1103.5 366.0 1102.2 366.3 1119.7 366.6 1113.5 366.9 1099.6 367.3 1101.4 367.6 1120.1 367.9 1117.5 368.3 1107.8 368.6 1114.9 368.9 1096.5 369.3 1106.7 369.6 1111.7 369.9 1093.6 370.2 1101.0 370.6 1111.7 370.9 1114.0 371.2 1102.0 371.6 1108.0 371.9 1117.0 372.2 1103.2 372.5 1096.5 372.9 1105.2 373.2 1102.8 373.5 1114.4 373.9 1106.4 374.2 1099.7 374.5 1121.8 374.8 1101.6 375.2 1108.2 375.5 1109.5 375.8 1110.2 376.2 1105.8 376.5 1108.6 376.8 1104.0 377.2 1094.5 377.5 1102.7 377.8 1102.8 378.1 1102.8 378.5 1104.9 378.8 1099.5 379.1 1112.9 379.5 1114.5 379.8 1088.3 380.1 1103.5 380.4 1098.4 380.8 1085.2 381.1 1106.0 381.4 1098.8 381.8 1100.3 382.1 1098.3 382.4 1110.3 382.8 1111.2 383.1 1104.5 383.4 1107.2 383.7 1101.6 384.1 1103.2 384.4 1097.0 384.7 1102.3 385.1 1097.0 385.4 1104.4 385.7 1107.4 386.0 1103.7 386.4 1109.7 386.7 1120.0 387.0 1086.7 387.4 1101.2 387.7 1097.1 388.0 1097.8 388.3 1091.4 388.7 1101.1 389.0 1098.8 389.3 1096.1 389.7 1098.6 390.0 1096.1 390.3 1083.9 390.7 1107.5 391.0 1097.8 391.3 1093.2 391.6 1101.8 392.0 1094.9 392.3 1084.3 392.6 1105.4 393.0 1087.5 393.3 1097.5 393.6 1099.7 393.9 1108.1 394.3 1106.9 394.6 1099.6 394.9 1093.1 395.3 1095.3 395.6 1105.6 395.9 1110.3 396.2 1101.6 396.6 1093.2 396.9 1104.7 397.2 1094.8 397.6 1094.4 397.9 1095.1 398.2 1101.0 398.6 1098.7 398.9 1103.5 399.2 1105.5 399.5 1099.9 399.9 1080.0 400.2 1084.2 400.5 1096.9 400.9 1095.2 401.2 1110.5 401.5 1095.1 401.8 1094.1 402.2 1101.5 402.5 1102.2 402.8 1093.0 403.2 1097.7 403.5 1086.3 403.8 1087.5 404.1 1102.4 404.5 1083.9 404.8 1099.8 405.1 1097.9 405.5 1098.4 405.8 1099.2 406.1 1096.5 406.5 1077.5 406.8 1085.2 407.1 1087.7 407.4 1098.0 407.8 1083.6 408.1 1086.3 408.4 1088.4 408.8 1099.9 409.1 1080.4 409.4 1080.7 409.7 1094.3 410.1 1074.8 410.4 1091.7 410.7 1085.9 411.1 1077.8 411.4 1085.5 411.7 1081.2 412.1 1089.0 412.4 1090.0 412.7 1097.6 413.0 1086.8 413.4 1087.2 413.7 1082.1 414.0 1085.6 414.4 1092.7 414.7 1071.6 415.0 1089.2 415.3 1080.5 415.7 1084.3 416.0 1085.7 416.3 1088.9 416.7 1084.2 417.0 1079.3 417.3 1083.7 417.6 1081.2 418.0 1079.1 418.3 1081.5 418.6 1085.7 419.0 1080.0 419.3 1079.5 419.6 1068.8 420.0 1076.4 420.3 1063.6 420.6 1081.1 420.9 1068.8 421.3 1083.9 421.6 1093.8 421.9 1070.6 422.3 1082.1 422.6 1074.8 422.9 1067.3 423.2 1064.5 423.6 1073.7 423.9 1078.7 424.2 1070.5 424.6 1056.5 424.9 1058.9 425.2 1063.8 425.5 1074.1 425.9 1065.5 426.2 1064.8 426.5 1070.1 426.9 1059.0 427.2 1058.8 427.5 1057.0 427.9 1044.5 428.2 1059.3 428.5 1057.8 428.8 1060.6 429.2 1043.8 429.5 1045.2 429.8 1056.4 430.2 1050.7 430.5 1056.8 430.8 1039.3 431.1 1045.5 431.5 1037.6 431.8 1043.2 432.1 1035.9 432.5 1041.6 432.8 1043.9 433.1 1039.2 433.4 1020.9 433.8 1037.5 434.1 1032.1 434.4 1019.3 434.8 1018.4 435.1 1022.9 435.4 1025.0 435.8 1015.3 436.1 1004.7 436.4 1016.2 436.7 1013.1 437.1 1021.2 437.4 997.5 437.7 1016.3 438.1 1013.7 438.4 1001.4 438.7 1008.3 439.0 994.2 439.4 997.9 439.7 982.0 440.0 985.0 440.4 973.5 440.7 965.9 441.0 972.2 441.4 965.6 441.7 971.1 442.0 972.5 442.3 957.5 442.7 954.9 443.0 951.4 443.3 933.0 443.7 942.5 444.0 935.3 444.3 929.5 444.6 915.7 445.0 905.9 445.3 910.4 445.6 908.7 446.0 910.4 446.3 902.4 446.6 898.6 446.9 883.7 447.3 884.2 447.6 867.8 447.9 869.8 448.3 868.5 448.6 871.1 448.9 858.5 449.3 846.0 449.6 869.3 449.9 855.6 450.2 867.0 450.6 871.7 450.9 874.2 451.2 899.7 451.6 901.4 451.9 899.2 452.2 911.7 452.5 914.4 452.9 928.8 453.2 926.9 453.5 929.4 453.9 935.5 454.2 941.9 454.5 952.0 454.8 947.1 455.2 957.5 455.5 965.5 455.8 978.0 456.2 976.0 456.5 960.9 456.8 972.5 457.2 976.6 457.5 985.2 457.8 997.6 458.1 994.4 458.5 979.8 458.8 996.9 459.1 998.2 459.5 1003.1 459.8 1012.8 460.1 997.2 460.4 1015.9 460.8 998.5 461.1 1013.0 461.4 1017.8 461.8 1028.9 462.1 1014.3 462.4 1009.9 462.7 1028.7 463.1 1020.9 463.4 1039.1 463.7 1024.5 464.1 1025.2 464.4 1042.4 464.7 1035.8 465.1 1044.1 465.4 1028.3 465.7 1052.1 466.0 1037.6 466.4 1049.2 466.7 1037.6 467.0 1035.2 467.4 1045.8 467.7 1050.3 468.0 1061.6 468.3 1054.1 468.7 1057.9 469.0 1058.7 469.3 1075.1 469.7 1050.5 470.0 1066.3 470.3 1057.3 470.7 1061.2 471.0 1056.5 471.3 1069.5 471.6 1053.3 472.0 1053.7 472.3 1062.4 472.6 1056.6 473.0 1070.5 473.3 1072.7 473.6 1061.7 473.9 1073.2 474.3 1063.7 474.6 1068.7 474.9 1069.6 475.3 1083.4 475.6 1070.7 475.9 1064.9 476.2 1065.4 476.6 1080.7 476.9 1061.1 477.2 1070.0 477.6 1071.0 477.9 1057.0 478.2 1071.2 478.6 1081.9 478.9 1076.9 479.2 1069.3 479.5 1080.8 479.9 1079.9 480.2 1090.7 480.5 1071.7 480.9 1074.4 481.2 1077.7 481.5 1076.7 481.8 1078.5 482.2 1077.3 482.5 1073.5 482.8 1067.3 483.2 1074.8 483.5 1069.1 483.8 1071.7 484.1 1075.3 484.5 1082.8 484.8 1085.3 485.1 1072.3 485.5 1081.7 485.8 1085.3 486.1 1079.5 486.5 1068.4 486.8 1064.9 487.1 1085.5 487.4 1086.4 487.8 1082.0 488.1 1072.8 488.4 1090.3 488.8 1088.6 489.1 1079.9 489.4 1078.7 489.7 1066.6 490.1 1085.5 490.4 1069.0 490.7 1085.0 491.1 1085.3 491.4 1080.9 491.7 1091.2 492.0 1077.9 492.4 1084.2 492.7 1085.6 493.0 1081.8 493.4 1077.1 493.7 1088.5 494.0 1082.9 494.4 1078.5 494.7 1078.6 495.0 1080.6 495.3 1095.5 495.7 1080.3 496.0 1077.8 496.3 1072.0 496.7 1070.8 497.0 1066.0 497.3 1080.8 497.6 1079.2 498.0 1071.8 498.3 1068.5 498.6 1076.4 499.0 1075.0 499.3 1069.2 499.6 1080.5 500.0 1079.2 500.3 1077.8 500.6 1083.4 500.9 1073.3 501.3 1087.2 501.6 1070.5 501.9 1081.0 502.3 1081.7 502.6 1075.4 502.9 1079.5 503.2 1067.9 503.6 1066.3 503.9 1075.2 504.2 1071.3 504.6 1080.4 504.9 1076.3 505.2 1080.3 505.5 1078.0 505.9 1077.1 506.2 1076.1 506.5 1072.7 506.9 1071.9 507.2 1089.2 507.5 1062.5 507.9 1073.3 508.2 1081.5 508.5 1077.2 508.8 1083.9 509.2 1077.8 509.5 1064.9 509.8 1071.3 510.2 1063.6 510.5 1080.1 510.8 1083.1 511.1 1069.7 511.5 1076.4 511.8 1069.5 512.1 1062.1 512.5 1068.8 512.8 1060.7 513.1 1067.5 513.4 1072.7 513.8 1076.1 514.1 1079.8 514.4 1068.2 514.8 1071.9 515.1 1072.9 515.4 1073.6 515.8 1050.2 516.1 1063.7 516.4 1074.3 516.7 1060.6 517.1 1069.8 517.4 1073.5 517.7 1054.0 518.1 1065.5 518.4 1068.0 518.7 1065.9 519.0 1054.5 519.4 1067.1 519.7 1060.1 520.0 1069.1 520.4 1065.5 520.7 1057.8 521.0 1062.0 521.3 1054.9 521.7 1053.8 522.0 1046.5 522.3 1054.7 522.7 1060.8 523.0 1054.6 523.3 1052.4 523.7 1046.8 524.0 1046.3 524.3 1054.2 524.6 1037.4 525.0 1061.9 525.3 1046.4 525.6 1058.8 526.0 1055.3 526.3 1044.2 526.6 1052.7 526.9 1049.7 527.3 1051.6 527.6 1054.6 527.9 1045.7 528.3 1046.0 528.6 1048.2 528.9 1042.3 529.3 1051.1 529.6 1055.5 529.9 1056.6 530.2 1057.3 530.6 1054.2 530.9 1063.6 531.2 1044.7 531.6 1057.4 531.9 1059.0 532.2 1068.7 532.5 1068.1 532.9 1070.2 533.2 1065.8 533.5 1073.4 533.9 1060.8 534.2 1069.4 534.5 1055.3 534.8 1083.0 535.2 1083.1 535.5 1068.9 535.8 1068.2 536.2 1060.6 536.5 1065.5 536.8 1077.9 537.2 1077.0 537.5 1068.8 537.8 1076.5 538.1 1076.3 538.5 1085.0 538.8 1087.6 539.1 1082.1 539.5 1085.3 539.8 1085.3 540.1 1071.8 540.4 1088.2 540.8 1087.4 541.1 1093.8 541.4 1076.8 541.8 1095.4 542.1 1086.6 542.4 1093.5 542.7 1100.7 543.1 1083.1 543.4 1084.9 543.7 1101.4 544.1 1087.5 544.4 1089.4 544.7 1100.7 545.1 1095.9 545.4 1103.2 545.7 1100.6 546.0 1099.0 546.4 1106.5 546.7 1115.2 547.0 1100.3 547.4 1111.6 547.7 1109.8 548.0 1103.4 548.3 1106.3 548.7 1097.4 549.0 1100.1 549.3 1106.7 549.7 1105.0 550.0 1114.6 550.3 1097.5 550.6 1104.8 551.0 1102.9 551.3 1106.7 551.6 1116.0 552.0 1100.5 552.3 1114.8 552.6 1105.5 553.0 1107.7 553.3 1117.1 553.6 1108.8 553.9 1115.7 554.3 1112.3 554.6 1110.8 554.9 1109.9 555.3 1101.1 555.6 1108.1 555.9 1114.6 556.2 1115.2 556.6 1104.2 556.9 1121.2 557.2 1118.7 557.6 1106.5 557.9 1108.5 558.2 1119.2 558.6 1104.4 558.9 1111.5 559.2 1116.4 559.5 1116.2 559.9 1117.0 560.2 1120.3 560.5 1112.6 560.9 1115.0 561.2 1132.3 561.5 1109.4 561.8 1116.1 562.2 1120.1 562.5 1115.3 562.8 1128.0 563.2 1120.6 563.5 1125.4 563.8 1103.2 564.1 1128.8 564.5 1128.8 564.8 1116.3 565.1 1130.3 565.5 1123.6 565.8 1128.2 566.1 1134.3 566.5 1123.1 566.8 1115.9 567.1 1122.8 567.4 1114.6 567.8 1118.0 568.1 1118.4 568.4 1119.0 568.8 1131.7 569.1 1129.7 569.4 1118.3 569.7 1132.0 570.1 1113.5 570.4 1120.5 570.7 1124.1 571.1 1133.2 571.4 1130.3 571.7 1128.6 572.0 1134.4 572.4 1130.7 572.7 1135.2 573.0 1121.1 573.4 1115.3 573.7 1123.9 574.0 1132.3 574.4 1128.7 574.7 1133.0 575.0 1132.0 575.3 1130.9 575.7 1133.0 576.0 1123.0 576.3 1135.1 576.7 1121.4 577.0 1127.4 577.3 1118.9 577.6 1131.8 578.0 1118.3 578.3 1138.0 578.6 1119.9 579.0 1130.7 579.3 1128.2 579.6 1123.4 579.9 1137.6 580.3 1126.7 580.6 1139.3 580.9 1123.0 581.3 1124.6 581.6 1116.8 581.9 1133.8 582.3 1136.3 582.6 1131.8 582.9 1129.4 583.2 1124.5 583.6 1146.2 583.9 1135.7 584.2 1118.8 584.6 1129.0 584.9 1114.0 585.2 1141.7 585.5 1144.5 585.9 1141.2 586.2 1131.3 586.5 1127.8 586.9 1122.6 587.2 1135.5 587.5 1127.1 587.9 1129.7 588.2 1128.1 588.5 1130.3 588.8 1138.4 589.2 1143.7 589.5 1133.7 589.8 1132.9 590.2 1125.6 590.5 1124.9 590.8 1126.1 591.1 1139.0 591.5 1134.9 591.8 1139.8 592.1 1136.3 592.5 1130.9 592.8 1125.5 593.1 1131.4 593.4 1124.5 593.8 1147.2 594.1 1135.9 594.4 1131.8 594.8 1147.4 595.1 1131.8 595.4 1138.1 595.8 1133.5 596.1 1137.0 596.4 1132.3 596.7 1138.1 597.1 1144.3 597.4 1126.7 597.7 1120.4 598.1 1144.1 598.4 1136.4 598.7 1141.1 599.0 1133.5 599.4 1145.7 599.7 1147.6 600.0 1127.9 600.4 1140.2 600.7 1131.8 601.0 1125.3 601.3 1134.0 601.7 1139.8 602.0 1127.1 602.3 1127.7 602.7 1144.4 603.0 1136.5 603.3 1139.0 603.7 1128.9 604.0 1132.2 604.3 1137.4 604.6 1137.9 605.0 1137.6 605.3 1147.2 605.6 1137.9 606.0 1126.7 606.3 1131.1 606.6 1136.6 606.9 1145.4 607.3 1132.5 607.6 1134.5 607.9 1137.0 608.3 1132.6 608.6 1131.8 608.9 1135.8 609.2 1143.9 609.6 1140.6 609.9 1135.6 610.2 1140.2 610.6 1129.2 610.9 1144.3 611.2 1142.6 611.6 1139.8 611.9 1127.1 612.2 1151.3 612.5 1120.6 612.9 1131.5 613.2 1132.1 613.5 1142.8 613.9 1128.4 614.2 1139.9 614.5 1137.4 614.8 1136.5 615.2 1144.2 615.5 1148.0 615.8 1141.3 616.2 1136.9 616.5 1123.8 616.8 1148.5 617.2 1137.0 617.5 1126.8 617.8 1140.1 618.1 1148.7 618.5 1138.3 618.8 1131.6 619.1 1154.2 619.5 1143.5 619.8 1141.8 620.1 1146.2 620.4 1125.4 620.8 1139.2 621.1 1138.7 621.4 1154.7 621.8 1136.2 622.1 1136.3 622.4 1130.9 622.7 1134.7 623.1 1138.8 623.4 1142.0 623.7 1139.0 624.1 1153.5 624.4 1143.7 624.7 1144.7 625.1 1149.5 625.4 1144.8 625.7 1137.2 626.0 1130.6 626.4 1143.1 626.7 1135.4 627.0 1149.6 627.4 1135.9 627.7 1126.4 628.0 1141.3 628.3 1148.2 628.7 1139.8 629.0 1142.4 629.3 1142.3 629.7 1152.7 630.0 1143.4 630.3 1141.2 630.6 1137.4 631.0 1130.8 631.3 1150.8 631.6 1149.2 632.0 1135.4 632.3 1145.7 632.6 1143.9 633.0 1139.3 633.3 1139.8 633.6 1146.9 633.9 1134.1 634.3 1138.6 634.6 1141.6 634.9 1142.1 635.3 1140.8 635.6 1143.7 635.9 1145.8 636.2 1136.5 636.6 1142.9 636.9 1139.0 637.2 1152.4 637.6 1133.3 637.9 1141.0 638.2 1147.2 638.6 1140.8 638.9 1140.5 639.2 1139.2 639.5 1144.9 639.9 1135.2 640.2 1142.4 640.5 1142.3 640.9 1133.4 641.2 1144.9 641.5 1140.1 641.8 1145.2 642.2 1148.9 642.5 1145.5 642.8 1135.6 643.2 1145.5 643.5 1133.0 643.8 1138.5 644.1 1154.5 644.5 1143.6 644.8 1153.8 645.1 1142.5 645.5 1143.8 645.8 1136.5 646.1 1150.0 646.5 1142.6 646.8 1148.0 647.1 1146.8 647.4 1147.5 647.8 1146.2 648.1 1143.9 648.4 1144.2 648.8 1139.8 649.1 1130.5 649.4 1147.6 649.7 1158.0 650.1 1151.5 650.4 1159.8 650.7 1147.8 651.1 1138.4 651.4 1138.3 651.7 1149.6 652.0 1147.1 652.4 1143.8 652.7 1149.8 653.0 1139.3 653.4 1148.4 653.7 1143.3 654.0 1146.2 654.4 1152.9 654.7 1144.3 655.0 1154.2 655.3 1153.9 655.7 1140.4 656.0 1160.5 656.3 1137.4 656.7 1144.8 657.0 1150.3 657.3 1130.7 657.6 1152.3 658.0 1153.0 658.3 1144.9 658.6 1147.5 659.0 1147.1 659.3 1144.4 659.6 1152.8 659.9 1143.4 660.3 1145.6 660.6 1148.3 660.9 1151.4 661.3 1153.1 661.6 1136.4 661.9 1132.8 662.3 1145.1 662.6 1145.7 662.9 1139.1 663.2 1148.1 663.6 1150.2 663.9 1148.6 664.2 1156.9 664.6 1139.5 664.9 1146.4 665.2 1158.8 665.5 1150.7 665.9 1139.1 666.2 1147.7 666.5 1154.0 666.9 1159.9 667.2 1150.7 667.5 1154.0 667.9 1139.3 668.2 1144.9 668.5 1154.2 668.8 1140.3 669.2 1146.1 669.5 1134.5 669.8 1156.2 670.2 1145.7 670.5 1150.3 670.8 1136.9 671.1 1138.1 671.5 1158.4 671.8 1144.5 672.1 1143.2 672.5 1150.0 672.8 1150.3 673.1 1134.1 673.4 1140.5 673.8 1147.1 674.1 1146.9 674.4 1149.1 674.8 1144.1 675.1 1145.1 675.4 1148.3 675.8 1142.5 676.1 1141.5 676.4 1143.4 676.7 1147.0 677.1 1146.0 677.4 1143.9 677.7 1145.4 678.1 1146.7 678.4 1149.1 678.7 1149.4 679.0 1138.8 679.4 1153.3 679.7 1136.8 680.0 1150.6 680.4 1142.5 680.7 1150.8 681.0 1153.9 681.3 1135.0 681.7 1151.0 682.0 1148.9 682.3 1144.2 682.7 1149.6 683.0 1144.0 683.3 1147.9 683.7 1140.4 684.0 1152.2 684.3 1151.0 684.6 1152.0 685.0 1143.0 685.3 1159.0 685.6 1159.9 686.0 1146.7 686.3 1144.6 686.6 1144.6 686.9 1151.7 687.3 1153.8 687.6 1142.5 687.9 1134.3 688.3 1150.2 688.6 1147.0 688.9 1148.4 689.2 1150.6 689.6 1140.2 689.9 1147.7 690.2 1145.4 690.6 1149.7 690.9 1155.1 691.2 1147.3 691.6 1141.8 691.9 1155.2 692.2 1151.8 692.5 1145.9 692.9 1135.7 693.2 1141.6 693.5 1148.1 693.9 1150.7 694.2 1143.8 694.5 1149.9 694.8 1143.1 695.2 1144.4 695.5 1150.5 695.8 1145.4 696.2 1148.0 696.5 1152.7 696.8 1154.3 697.2 1143.3 697.5 1145.5 697.8 1138.6 698.1 1138.7 698.5 1148.9 698.8 1143.7 699.1 1135.2 699.5 1150.3 699.8 1141.6 700.1 1144.9 700.4 1149.6 700.8 1149.4 701.1 1146.5 701.4 1134.2 701.8 1150.4 702.1 1143.1 702.4 1137.8 702.7 1132.8 703.1 1155.2 703.4 1147.7 703.7 1147.5 704.1 1150.6 704.4 1146.2 704.7 1137.3 705.1 1151.0 705.4 1153.0 705.7 1149.9 706.0 1156.3 706.4 1158.6 706.7 1141.5 707.0 1143.7 707.4 1152.1 707.7 1147.6 708.0 1147.8 708.3 1152.3 708.7 1151.1 709.0 1143.6 709.3 1147.1 709.7 1141.8 710.0 1145.0 710.3 1139.2 710.6 1133.8 711.0 1143.0 711.3 1142.4 711.6 1151.7 712.0 1156.0 712.3 1146.2 712.6 1148.9 713.0 1141.9 713.3 1140.0 713.6 1144.0 713.9 1144.0 714.3 1147.6 714.6 1146.4 714.9 1156.1 715.3 1144.2 715.6 1135.1 715.9 1146.2 716.2 1141.3 716.6 1146.7 716.9 1152.4 717.2 1141.2 717.6 1144.7 717.9 1148.4 718.2 1139.1 718.5 1146.3 718.9 1148.3 719.2 1149.9 719.5 1151.6 719.9 1148.2 720.2 1147.1 720.5 1135.8 720.9 1127.6 721.2 1138.3 721.5 1153.2 721.8 1144.9 722.2 1129.9 722.5 1141.3 722.8 1146.2 723.2 1132.2 723.5 1147.3 723.8 1136.4 724.1 1150.0 724.5 1143.5 724.8 1160.9 725.1 1134.8 725.5 1144.8 725.8 1133.6 726.1 1150.0 726.5 1143.4 726.8 1148.3 727.1 1143.0 727.4 1134.9 727.8 1138.0 728.1 1134.2 728.4 1135.2 728.8 1142.6 729.1 1148.2 729.4 1146.7 729.7 1144.4 730.1 1137.5 730.4 1144.0 730.7 1135.3 731.1 1141.7 731.4 1145.5 731.7 1138.9 732.0 1136.9 732.4 1136.9 732.7 1143.3 733.0 1137.3 733.4 1130.1 733.7 1136.2 734.0 1131.9 734.4 1147.7 734.7 1138.1 735.0 1128.6 735.3 1139.2 735.7 1141.8 736.0 1139.3 736.3 1134.4 736.7 1137.3 737.0 1137.8 737.3 1142.0 737.6 1137.7 738.0 1149.3 738.3 1133.3 738.6 1143.9 739.0 1134.0 739.3 1122.8 739.6 1125.7 739.9 1121.2 740.3 1121.4 740.6 1139.2 740.9 1127.0 741.3 1134.4 741.6 1124.4 741.9 1129.3 742.3 1122.1 742.6 1133.5 742.9 1125.7 743.2 1123.7 743.6 1124.7 743.9 1138.6 744.2 1126.8 744.6 1128.3 744.9 1114.2 745.2 1116.9 745.5 1121.7 745.9 1106.9 746.2 1125.9 746.5 1117.8 746.9 1114.6 747.2 1112.0 747.5 1110.2 747.8 1106.9 748.2 1117.3 748.5 1111.0 748.8 1112.8 749.2 1101.0 749.5 1095.3 749.8 1107.7 750.2 1089.0 750.5 1090.8 750.8 1097.1 751.1 1097.2 751.5 1079.4 751.8 1083.8 752.1 1083.4 752.5 1079.9 752.8 1072.8 753.1 1080.4 753.4 1070.2 753.8 1069.6 754.1 1058.4 754.4 1065.8 754.8 1053.8 755.1 1066.8 755.4 1063.3 755.8 1054.7 756.1 1057.3 756.4 1055.2 756.7 1052.0 757.1 1053.9 757.4 1049.5 757.7 1046.1 758.1 1043.2 758.4 1058.5 758.7 1048.7 759.0 1047.0 759.4 1051.8 759.7 1044.4 760.0 1044.4 760.4 1051.5 760.7 1054.0 761.0 1051.9 761.3 1037.9 761.7 1048.5 762.0 1048.5 762.3 1052.1 762.7 1043.9 763.0 1043.5 763.3 1050.5 763.7 1046.4 764.0 1046.3 764.3 1054.1 764.6 1062.0 765.0 1058.2 765.3 1066.2 765.6 1054.1 766.0 1066.9 766.3 1064.0 766.6 1060.3 766.9 1065.2 767.3 1064.3 767.6 1070.5 767.9 1069.0 768.3 1084.0 768.6 1075.6 768.9 1070.9 769.2 1080.8 769.6 1086.5 769.9 1084.0 770.2 1093.5 770.6 1084.2 770.9 1086.5 771.2 1104.2 771.6 1095.8 771.9 1101.0 772.2 1102.6 772.5 1104.9 772.9 1103.2 773.2 1103.5 773.5 1113.1 773.9 1104.9 774.2 1110.3 774.5 1115.4 774.8 1110.1 775.2 1104.5 775.5 1118.4 775.8 1123.6 776.2 1119.8 776.5 1109.2 776.8 1124.8 777.1 1134.2 777.5 1113.8 777.8 1107.8 778.1 1124.1 778.5 1127.1 778.8 1132.5 779.1 1133.7 779.5 1130.3 779.8 1134.0 780.1 1133.7 780.4 1133.3 780.8 1133.0 781.1 1133.3 781.4 1139.3 781.8 1138.2 782.1 1133.9 782.4 1143.9 782.7 1133.6 783.1 1137.2 783.4 1140.1 783.7 1128.4 784.1 1138.2 784.4 1146.2 784.7 1146.5 785.1 1135.0 785.4 1137.7 785.7 1136.7 786.0 1142.2 786.4 1143.7 786.7 1135.0 787.0 1146.8 787.4 1145.7 787.7 1145.3 788.0 1142.1 788.3 1145.3 788.7 1136.2 789.0 1148.5 789.3 1148.7 789.7 1147.1 790.0 1141.0 790.3 1155.8 790.6 1155.3 791.0 1137.7 791.3 1151.5 791.6 1150.2 792.0 1134.3 792.3 1152.8 792.6 1153.8 793.0 1154.4 793.3 1151.3 793.6 1146.7 793.9 1147.7 794.3 1153.9 794.6 1158.0 794.9 1148.4 795.3 1149.8 795.6 1155.7 795.9 1139.0 796.2 1154.5 796.6 1150.6 796.9 1139.2 797.2 1156.8 797.6 1147.0 797.9 1157.2 798.2 1160.7 798.5 1145.4 798.9 1145.8 799.2 1152.9 799.5 1142.8 799.9 1157.5 800.2 1154.4 800.5 1159.2 800.9 1142.7 801.2 1154.8 801.5 1156.4 801.8 1143.2 802.2 1159.1 802.5 1145.9 802.8 1155.1 803.2 1146.4 803.5 1158.8 803.8 1164.3 804.1 1154.7 804.5 1154.7 804.8 1162.2 805.1 1152.0 805.5 1155.0 805.8 1159.6 806.1 1157.4 806.4 1164.2 806.8 1162.1 807.1 1166.4 807.4 1155.1 807.8 1161.9 808.1 1150.6 808.4 1160.8 808.8 1165.9 809.1 1169.5 809.4 1148.4 809.7 1154.8 810.1 1160.1 810.4 1150.8 810.7 1159.3 811.1 1159.3 811.4 1153.3 811.7 1153.1 812.0 1150.9 812.4 1158.1 812.7 1163.8 813.0 1158.1 813.4 1172.7 813.7 1147.9 814.0 1153.2 814.4 1160.6 814.7 1150.0 815.0 1158.8 815.3 1161.5 815.7 1157.9 816.0 1155.5 816.3 1162.4 816.7 1159.4 817.0 1161.2 817.3 1160.2 817.6 1153.1 818.0 1150.7 818.3 1154.9 818.6 1158.2 819.0 1156.1 819.3 1162.8 819.6 1158.8 819.9 1163.0 820.3 1158.0 820.6 1153.2 820.9 1162.3 821.3 1160.4 821.6 1152.5 821.9 1155.1 822.3 1173.7 822.6 1140.4 822.9 1164.2 823.2 1157.9 823.6 1157.2 823.9 1155.9 824.2 1154.6 824.6 1171.5 824.9 1155.1 825.2 1155.9 825.5 1162.4 825.9 1160.0 826.2 1156.7 826.5 1156.1 826.9 1150.0 827.2 1164.1 827.5 1151.6 827.8 1143.6 828.2 1164.0 828.5 1162.3 828.8 1159.9 829.2 1154.9 829.5 1164.9 829.8 1151.6 830.2 1145.1 830.5 1158.9 830.8 1162.7 831.1 1161.7 831.5 1170.2 831.8 1163.0 832.1 1156.8 832.5 1157.0 832.8 1163.4 833.1 1157.8 833.4 1157.4 833.8 1147.8 834.1 1156.4 834.4 1150.6 834.8 1159.6 835.1 1159.1 835.4 1162.5 835.7 1168.8 836.1 1157.3 836.4 1166.8 836.7 1151.7 837.1 1159.3 837.4 1164.0 837.7 1169.9 838.1 1152.0 838.4 1157.0 838.7 1159.3 839.0 1157.9 839.4 1152.9 839.7 1148.9 840.0 1151.3 840.4 1158.1 840.7 1150.7 841.0 1169.0 841.3 1165.8 841.7 1147.4 842.0 1155.7 842.3 1166.4 842.7 1167.2 843.0 1165.2 843.3 1150.3 843.7 1156.5 844.0 1166.2 844.3 1159.3 844.6 1156.1 845.0 1161.7 845.3 1164.5 845.6 1159.6 846.0 1160.2 846.3 1165.1 846.6 1155.5 846.9 1153.4 847.3 1163.3 847.6 1151.8 847.9 1161.7 848.3 1154.5 848.6 1163.8 848.9 1151.9 849.2 1165.5 849.6 1160.5 849.9 1157.1 850.2 1153.8 850.6 1157.9 850.9 1153.4 851.2 1151.8 851.6 1165.1 851.9 1162.3 852.2 1166.1 852.5 1150.9 852.9 1147.4 853.2 1149.5 853.5 1162.6 853.9 1163.5 854.2 1147.9 854.5 1164.8 854.8 1156.2 855.2 1151.8 855.5 1158.3 855.8 1162.1 856.2 1157.5 856.5 1157.7 856.8 1153.8 857.1 1150.4 857.5 1156.4 857.8 1149.1 858.1 1162.1 858.5 1153.6 858.8 1166.2 859.1 1149.2 859.5 1166.7 859.8 1153.3 860.1 1153.2 860.4 1160.1 860.8 1163.6 861.1 1158.1 861.4 1156.2 861.8 1169.9 862.1 1161.2 862.4 1151.2 862.7 1156.6 863.1 1168.0 863.4 1160.0 863.7 1162.8 864.1 1169.8 864.4 1154.4 864.7 1160.0 865.0 1153.9 865.4 1157.6 865.7 1160.7 866.0 1149.7 866.4 1158.3 866.7 1158.2 867.0 1163.4 867.4 1153.7 867.7 1149.7 868.0 1159.3 868.3 1150.3 868.7 1157.9 869.0 1160.0 869.3 1151.5 869.7 1155.7 870.0 1150.3 870.3 1139.9 870.6 1147.6 871.0 1143.7 871.3 1155.9 871.6 1149.4 872.0 1154.6 872.3 1155.0 872.6 1161.3 873.0 1152.9 873.3 1152.4 873.6 1157.5 873.9 1163.8 874.3 1153.7 874.6 1155.9 874.9 1152.6 875.3 1149.4 875.6 1144.3 875.9 1152.6 876.2 1151.2 876.6 1151.1 876.9 1163.9 877.2 1150.0 877.6 1153.7 877.9 1149.4 878.2 1158.0 878.5 1149.1 878.9 1161.4 879.2 1148.7 879.5 1154.4 879.9 1155.5 880.2 1147.8 880.5 1153.8 880.9 1148.8 881.2 1143.6 881.5 1143.7 881.8 1149.2 882.2 1157.3 882.5 1143.5 882.8 1149.2 883.2 1140.8 883.5 1146.6 883.8 1137.0 884.1 1139.5 884.5 1143.6 884.8 1138.7 885.1 1141.0 885.5 1148.0 885.8 1140.8 886.1 1136.7 886.4 1133.1 886.8 1136.7 887.1 1145.9 887.4 1138.1 887.8 1137.1 888.1 1141.5 888.4 1141.5 888.8 1141.8 889.1 1133.1 889.4 1129.1 889.7 1124.0 890.1 1129.0 890.4 1130.0 890.7 1135.7 891.1 1132.4 891.4 1126.4 891.7 1134.0 892.0 1120.5 892.4 1120.7 892.7 1119.0 893.0 1118.5 893.4 1122.4 893.7 1117.8 894.0 1117.2 894.3 1128.4 894.7 1110.6 895.0 1111.9 895.3 1115.4 895.7 1118.1 896.0 1117.0 896.3 1111.2 896.7 1109.2 897.0 1108.3 897.3 1112.8 897.6 1101.4 898.0 1091.3 898.3 1104.9 898.6 1095.2 899.0 1100.3 899.3 1107.4 899.6 1098.0 899.9 1106.8 900.3 1084.6 900.6 1094.1 900.9 1093.4 901.3 1094.5 901.6 1083.6 901.9 1087.6 902.3 1085.9 902.6 1084.4 902.9 1074.3 903.2 1071.8 903.6 1083.7 903.9 1081.6 904.2 1078.9 904.6 1081.8 904.9 1084.0 905.2 1069.9 905.5 1081.5 905.9 1085.7 906.2 1082.8 906.5 1080.3 906.9 1081.2 907.2 1068.4 907.5 1074.5 907.8 1084.1 908.2 1087.3 908.5 1081.7 908.8 1076.8 909.2 1079.3 909.5 1086.1 909.8 1091.2 910.2 1087.3 910.5 1080.3 910.8 1088.1 911.1 1088.0 911.5 1095.8 911.8 1091.0 912.1 1088.8 912.5 1089.2 912.8 1083.5 913.1 1085.7 913.4 1090.4 913.8 1089.6 914.1 1096.8 914.4 1097.6 914.8 1103.8 915.1 1108.5 915.4 1101.7 915.7 1100.9 916.1 1092.4 916.4 1106.9 916.7 1109.9 917.1 1102.7 917.4 1106.2 917.7 1105.7 918.1 1117.3 918.4 1115.9 918.7 1120.6 919.0 1107.7 919.4 1131.5 919.7 1112.1 920.0 1112.3 920.4 1120.5 920.7 1117.3 921.0 1132.2 921.3 1120.4 921.7 1119.8 922.0 1130.5 922.3 1133.0 922.7 1122.0 923.0 1125.1 923.3 1126.7 923.6 1128.8 924.0 1140.5 924.3 1138.8 924.6 1138.5 925.0 1140.6 925.3 1134.2 925.6 1139.9 926.0 1135.2 926.3 1132.0 926.6 1146.6 926.9 1127.7 927.3 1138.5 927.6 1135.8 927.9 1130.2 928.3 1138.1 928.6 1141.3 928.9 1144.1 929.2 1137.3 929.6 1146.8 929.9 1144.7 930.2 1148.1 930.6 1133.0 930.9 1141.8 931.2 1141.3 931.6 1148.4 931.9 1141.3 932.2 1143.0 932.5 1139.8 932.9 1139.8 933.2 1141.6 933.5 1152.6 933.9 1141.4 934.2 1133.9 934.5 1149.5 934.8 1145.5 935.2 1151.4 935.5 1151.5 935.8 1146.8 936.2 1146.4 936.5 1145.8 936.8 1149.0 937.1 1144.7 937.5 1150.3 937.8 1157.0 938.1 1145.6 938.5 1145.8 938.8 1145.8 939.1 1152.8 939.5 1153.1 939.8 1157.4 940.1 1153.4 940.4 1150.0 940.8 1151.8 941.1 1141.8 941.4 1152.3 941.8 1150.0 942.1 1160.6 942.4 1156.5 942.7 1144.0 943.1 1145.3 943.4 1153.3 943.7 1136.6 944.1 1142.9 944.4 1149.9 944.7 1151.3 945.0 1148.5 945.4 1153.8 945.7 1145.5 946.0 1147.4 946.4 1145.5 946.7 1140.3 947.0 1146.5 947.4 1142.9 947.7 1146.2 948.0 1130.9 948.3 1146.0 948.7 1142.2 949.0 1141.6 949.3 1145.1 949.7 1142.1 950.0 1149.8 950.3 1151.5 950.6 1149.3 951.0 1149.7 951.3 1146.3 951.6 1144.4 952.0 1137.0 952.3 1142.2 952.6 1151.1 952.9 1148.6 953.3 1141.7 953.6 1145.2 953.9 1150.6 954.3 1143.9 954.6 1154.0 954.9 1140.9 955.3 1149.7 955.6 1149.4 955.9 1146.7 956.2 1147.6 956.6 1149.2 956.9 1133.8 957.2 1149.3 957.6 1153.3 957.9 1149.5 958.2 1153.9 958.5 1141.3 958.9 1147.7 959.2 1150.3 959.5 1147.3 959.9 1155.7 960.2 1152.1 960.5 1146.9 960.9 1154.6 961.2 1154.9 961.5 1148.3 961.8 1154.5 962.2 1153.5 962.5 1153.7 962.8 1145.1 963.2 1159.4 963.5 1156.3 963.8 1152.9 964.1 1155.3 964.5 1155.5 964.8 1152.3 965.1 1151.1 965.5 1155.2 965.8 1151.7 966.1 1152.6 966.4 1149.1 966.8 1154.3 967.1 1161.7 967.4 1157.6 967.8 1157.0 968.1 1155.3 968.4 1154.9 968.8 1149.3 969.1 1166.9 969.4 1154.1 969.7 1150.1 970.1 1160.8 970.4 1160.2 970.7 1156.2 971.1 1151.3 971.4 1152.0 971.7 1168.3 972.0 1159.4 972.4 1156.7 972.7 1170.6 973.0 1157.7 973.4 1155.8 973.7 1164.0 974.0 1163.3 974.3 1170.0 974.7 1153.2 975.0 1163.4 975.3 1152.8 975.7 1164.7 976.0 1158.8 976.3 1160.0 976.7 1158.7 977.0 1167.4 977.3 1171.9 977.6 1162.7 978.0 1162.0 978.3 1160.8 978.6 1166.5 979.0 1158.2 979.3 1179.1 979.6 1162.8 979.9 1173.5 980.3 1165.1 980.6 1157.0 980.9 1156.1 981.3 1162.4 981.6 1160.9 981.9 1163.6 982.2 1158.8 982.6 1177.8 982.9 1176.7 983.2 1155.6 983.6 1168.0 983.9 1172.0 984.2 1163.8 984.6 1164.5 984.9 1171.7 985.2 1168.8 985.5 1159.4 985.9 1172.7 986.2 1163.5 986.5 1176.3 986.9 1161.1 987.2 1154.0 987.5 1167.0 987.8 1173.1 988.2 1169.4 988.5 1167.5 988.8 1161.8 989.2 1171.8 989.5 1156.9 989.8 1171.2 990.2 1160.5 990.5 1163.8 990.8 1160.0 991.1 1162.2 991.5 1175.2 991.8 1160.9 992.1 1168.3 992.5 1163.0 992.8 1172.9 993.1 1160.1 993.4 1167.5 993.8 1172.4 994.1 1179.8 994.4 1161.3 994.8 1163.0 995.1 1167.5 995.4 1175.8 995.7 1162.3 996.1 1172.3 996.4 1164.6 996.7 1162.4 997.1 1159.5 997.4 1168.8 997.7 1173.4 998.1 1167.6 998.4 1156.8 998.7 1165.2 999.0 1173.5 999.4 1173.0 999.7 1169.8 1000.0 1176.4 1000.4 1161.6 1000.7 1161.8 1001.0 1181.4 1001.3 1172.2 1001.7 1167.5 1002.0 1166.0 1002.3 1154.8 1002.7 1173.2 1003.0 1157.6 1003.3 1158.2 1003.6 1168.6 1004.0 1177.0 1004.3 1166.8 1004.6 1171.0 1005.0 1166.6 1005.3 1171.1 1005.6 1160.1 1006.0 1180.4 1006.3 1163.9 1006.6 1172.2 1006.9 1158.2 1007.3 1178.8 1007.6 1171.6 1007.9 1180.1 1008.3 1165.8 1008.6 1175.0 1008.9 1168.5 1009.2 1169.2 1009.6 1176.5 1009.9 1164.7 1010.2 1173.6 1010.6 1180.1 1010.9 1179.1 1011.2 1175.4 1011.5 1171.5 1011.9 1164.6 1012.2 1177.5 1012.5 1166.2 1012.9 1176.4 1013.2 1168.2 1013.5 1170.0 1013.9 1170.0 1014.2 1173.3 1014.5 1167.7 1014.8 1171.1 1015.2 1167.4 1015.5 1173.0 1015.8 1171.7 1016.2 1172.5 1016.5 1165.7 1016.8 1172.0 1017.1 1170.5 1017.5 1173.5 1017.8 1170.6 1018.1 1165.2 1018.5 1174.3 1018.8 1166.9 1019.1 1172.0 1019.5 1159.4 1019.8 1173.2 1020.1 1174.1 1020.4 1165.7 1020.8 1173.7 1021.1 1168.6 1021.4 1178.0 1021.8 1174.2 1022.1 1164.0 1022.4 1169.6 1022.7 1161.3 1023.1 1169.0 1023.4 1173.7 1023.7 1175.2 1024.1 1170.2 1024.4 1169.6 1024.7 1171.7 1025.0 1167.7 1025.4 1172.7 1025.7 1176.9 1026.0 1172.0 1026.4 1175.6 1026.7 1166.9 1027.0 1168.5 1027.4 1172.9 1027.7 1181.8 1028.0 1176.5 1028.3 1180.2 1028.7 1171.5 1029.0 1177.8 1029.3 1162.4 1029.7 1174.1 1030.0 1160.4 1030.3 1177.9 1030.6 1174.0 1031.0 1177.6 1031.3 1173.6 1031.6 1168.9 1032.0 1167.7 1032.3 1172.6 1032.6 1179.5 1032.9 1175.0 1033.3 1168.9 1033.6 1168.7 1033.9 1168.0 1034.3 1170.6 1034.6 1171.3 1034.9 1169.3 1035.3 1171.9 1035.6 1163.6 1035.9 1180.1 1036.2 1173.2 1036.6 1179.9 1036.9 1173.5 1037.2 1170.9 1037.6 1172.4 1037.9 1173.2 1038.2 1168.6 1038.5 1170.1 1038.9 1182.1 1039.2 1177.0 1039.5 1169.4 1039.9 1174.9 1040.2 1167.8 1040.5 1179.5 1040.8 1167.0 1041.2 1176.9 1041.5 1172.4 1041.8 1172.5 1042.2 1168.1 1042.5 1171.0 1042.8 1168.4 1043.2 1167.9 1043.5 1174.8 1043.8 1185.5 1044.1 1170.7 1044.5 1177.6 1044.8 1172.4 1045.1 1168.8 1045.5 1179.5 1045.8 1175.8 1046.1 1178.4 1046.4 1173.2 1046.8 1173.3 1047.1 1168.4 1047.4 1171.2 1047.8 1181.3 1048.1 1160.9 1048.4 1174.7 1048.8 1180.3 1049.1 1176.9 1049.4 1177.3 1049.7 1171.4 1050.1 1178.6 1050.4 1178.8 1050.7 1172.6 1051.1 1181.5 1051.4 1170.4 1051.7 1160.1 1052.0 1172.9 1052.4 1172.3 1052.7 1168.6 1053.0 1170.6 1053.4 1170.2 1053.7 1163.6 1054.0 1179.3 1054.3 1173.0 1054.7 1186.8 1055.0 1173.0 1055.3 1175.1 1055.7 1165.3 1056.0 1178.3 1056.3 1167.5 1056.7 1175.9 1057.0 1177.9 1057.3 1177.1 1057.6 1168.9 1058.0 1169.1 1058.3 1177.1 1058.6 1179.2 1059.0 1180.6 1059.3 1173.1 1059.6 1172.7 1059.9 1182.4 1060.3 1170.3 1060.6 1177.2 1060.9 1171.7 1061.3 1166.1 1061.6 1167.6 1061.9 1175.6 1062.2 1174.5 1062.6 1175.9 1062.9 1171.6 1063.2 1170.8 1063.6 1174.8 1063.9 1172.5 1064.2 1165.3 1064.6 1171.2 1064.9 1182.0 1065.2 1169.6 1065.5 1176.2 1065.9 1173.0 1066.2 1177.2 1066.5 1169.1 1066.9 1167.0 1067.2 1175.7 1067.5 1169.9 1067.8 1173.3 1068.2 1171.9 1068.5 1178.4 1068.8 1174.8 1069.2 1174.2 1069.5 1168.6 1069.8 1165.6 1070.1 1169.3 1070.5 1177.8 1070.8 1177.0 1071.1 1176.5 1071.5 1171.5 1071.8 1168.4 1072.1 1179.3 1072.5 1174.5 1072.8 1176.3 1073.1 1168.9 1073.4 1170.1 1073.8 1176.8 1074.1 1177.3 1074.4 1168.6 1074.8 1175.0 1075.1 1167.7 1075.4 1179.7 1075.7 1176.9 1076.1 1185.0 1076.4 1181.1 1076.7 1170.3 1077.1 1174.6 1077.4 1171.2 1077.7 1174.3 1078.1 1177.5 1078.4 1173.5 1078.7 1173.9 1079.0 1166.9 1079.4 1176.4 1079.7 1173.5 1080.0 1176.6 1080.4 1178.7 1080.7 1173.7 1081.0 1177.0 1081.3 1170.5 1081.7 1178.2 1082.0 1173.3 1082.3 1170.5 1082.7 1172.3 1083.0 1166.4 1083.3 1170.2 1083.6 1171.2 1084.0 1173.5 1084.3 1172.9 1084.6 1170.1 1085.0 1172.3 1085.3 1162.6 1085.6 1173.6 1086.0 1175.9 1086.3 1177.0 1086.6 1178.4 1086.9 1172.0 1087.3 1172.5 1087.6 1170.6 1087.9 1170.5 1088.3 1173.4 1088.6 1179.4 1088.9 1164.4 1089.2 1170.2 1089.6 1173.9 1089.9 1167.6 1090.2 1174.5 1090.6 1165.6 1090.9 1170.6 1091.2 1164.1 1091.5 1173.5 1091.9 1168.2 1092.2 1175.1 1092.5 1170.4 1092.9 1167.1 1093.2 1169.6 1093.5 1172.2 1093.9 1171.4 1094.2 1170.1 1094.5 1169.6 1094.8 1171.2 1095.2 1175.2 1095.5 1168.2 1095.8 1173.0 1096.2 1164.3 1096.5 1175.1 1096.8 1172.3 1097.1 1168.7 1097.5 1168.6 1097.8 1161.8 1098.1 1170.4 1098.5 1168.6 1098.8 1162.9 1099.1 1167.4 1099.5 1172.2 1099.8 1170.1 1100.1 1170.4 1100.4 1166.2 1100.8 1172.9 1101.1 1168.5 1101.4 1172.6 1101.8 1179.1 1102.1 1158.4 1102.4 1165.5 1102.7 1167.8 1103.1 1164.0 1103.4 1172.4 1103.7 1165.5 1104.1 1175.2 1104.4 1170.5 1104.7 1168.7 1105.0 1166.4 1105.4 1170.4 1105.7 1168.5 1106.0 1173.0 1106.4 1167.7 1106.7 1170.5 1107.0 1167.3 1107.4 1166.7 1107.7 1157.3 1108.0 1164.7 1108.3 1166.4 1108.7 1158.6 1109.0 1157.3 1109.3 1162.4 1109.7 1165.0 1110.0 1155.2 1110.3 1164.7 1110.6 1167.6 1111.0 1161.6 1111.3 1163.7 1111.6 1164.6 1112.0 1158.9 1112.3 1164.9 1112.6 1163.9 1112.9 1155.5 1113.3 1163.8 1113.6 1165.4 1113.9 1155.7 1114.3 1165.0 1114.6 1159.3 1114.9 1153.9 1115.3 1155.2 1115.6 1155.8 1115.9 1162.5 1116.2 1157.4 1116.6 1157.7 1116.9 1153.3 1117.2 1159.4 1117.6 1153.2 1117.9 1155.8 1118.2 1161.9 1118.5 1162.1 1118.9 1156.2 1119.2 1158.5 1119.5 1161.2 1119.9 1158.5 1120.2 1164.4 1120.5 1165.0 1120.8 1158.1 1121.2 1152.5 1121.5 1157.7 1121.8 1165.0 1122.2 1163.9 1122.5 1164.3 1122.8 1164.0 1123.2 1156.2 1123.5 1160.1 1123.8 1164.1 1124.1 1160.3 1124.5 1163.4 1124.8 1154.5 1125.1 1153.6 1125.5 1169.4 1125.8 1163.6 1126.1 1163.1 1126.4 1167.4 1126.8 1171.3 1127.1 1174.3 1127.4 1149.6 1127.8 1163.3 1128.1 1166.6 1128.4 1152.7 1128.8 1153.7 1129.1 1161.7 1129.4 1171.9 1129.7 1167.7 1130.1 1173.8 1130.4 1165.2 1130.7 1169.3 1131.1 1171.7 1131.4 1166.9 1131.7 1165.0 1132.0 1166.0 1132.4 1152.2 1132.7 1167.5 1133.0 1157.4 1133.4 1162.7 1133.7 1170.3 1134.0 1169.1 1134.3 1158.0 1134.7 1170.4 1135.0 1171.7 1135.3 1169.4 1135.7 1172.0 1136.0 1171.7 1136.3 1161.2 1136.7 1168.6 1137.0 1168.4 1137.3 1164.3 1137.6 1170.2 1138.0 1166.8 1138.3 1170.5 1138.6 1167.1 1139.0 1176.4 1139.3 1182.2 1139.6 1169.2 1139.9 1172.3 1140.3 1172.6 1140.6 1174.7 1140.9 1172.0 1141.3 1162.4 1141.6 1174.9 1141.9 1172.8 1142.2 1168.5 1142.6 1172.8 1142.9 1171.5 1143.2 1175.2 1143.6 1172.8 1143.9 1173.1 1144.2 1175.1 1144.6 1175.9 1144.9 1175.0 1145.2 1180.6 1145.5 1176.4 1145.9 1171.7 1146.2 1183.6 1146.5 1176.2 1146.9 1183.1 1147.2 1170.9 1147.5 1178.6 1147.8 1184.2 1148.2 1182.2 1148.5 1176.7 1148.8 1173.7 1149.2 1173.7 1149.5 1175.7 1149.8 1172.1 1150.1 1173.3 1150.5 1172.2 1150.8 1172.3 1151.1 1178.1 1151.5 1168.8 1151.8 1177.9 1152.1 1180.4 1152.5 1172.9 1152.8 1173.1 1153.1 1177.5 1153.4 1177.3 1153.8 1182.0 1154.1 1168.3 1154.4 1177.3 1154.8 1184.2 1155.1 1178.1 1155.4 1186.0 1155.7 1188.0 1156.1 1175.3 1156.4 1184.9 1156.7 1180.4 1157.1 1178.0 1157.4 1176.8 1157.7 1177.1 1158.1 1173.9 1158.4 1177.4 1158.7 1182.6 1159.0 1184.1 1159.4 1176.5 1159.7 1180.7 1160.0 1180.5 1160.4 1167.4 1160.7 1181.7 1161.0 1172.7 1161.3 1173.1 1161.7 1182.3 1162.0 1186.2 1162.3 1173.3 1162.7 1174.4 1163.0 1174.1 1163.3 1176.1 1163.6 1176.8 1164.0 1174.7 1164.3 1171.0 1164.6 1186.7 1165.0 1176.3 1165.3 1175.1 1165.6 1182.7 1166.0 1176.9 1166.3 1183.6 1166.6 1182.2 1166.9 1183.2 1167.3 1176.8 1167.6 1181.6 1167.9 1171.5 1168.3 1172.4 1168.6 1179.0 1168.9 1177.3 1169.2 1184.9 1169.6 1177.4 1169.9 1170.6 1170.2 1179.0 1170.6 1177.4 1170.9 1179.6 1171.2 1173.4 1171.5 1175.2 1171.9 1179.0 1172.2 1182.1 1172.5 1180.6 1172.9 1182.2 1173.2 1172.1 1173.5 1177.8 1173.9 1179.7 1174.2 1183.1 1174.5 1179.9 1174.8 1177.6 1175.2 1178.2 1175.5 1178.3 1175.8 1172.2 1176.2 1178.9 1176.5 1182.4 1176.8 1182.0 1177.1 1170.3 1177.5 1178.7 1177.8 1171.9 1178.1 1183.7 1178.5 1181.1 1178.8 1181.9 1179.1 1175.6 1179.4 1169.9 1179.8 1173.9 1180.1 1177.0 1180.4 1171.8 1180.8 1174.0 1181.1 1186.5 1181.4 1172.6 1181.8 1181.0 1182.1 1170.1 1182.4 1179.6 1182.7 1182.2 1183.1 1180.5 1183.4 1183.9 1183.7 1186.5 1184.1 1172.2 1184.4 1179.5 1184.7 1180.7 1185.0 1180.2 1185.4 1185.5 1185.7 1179.5 1186.0 1183.7 1186.4 1183.4 1186.7 1178.9 1187.0 1180.7 1187.4 1174.7 1187.7 1179.6 1188.0 1179.0 1188.3 1177.4 1188.7 1176.0 1189.0 1182.4 1189.3 1177.5 1189.7 1188.2 1190.0 1183.8 1190.3 1181.3 1190.6 1175.2 1191.0 1181.8 1191.3 1178.4 1191.6 1178.1 1192.0 1172.8 1192.3 1180.2 1192.6 1178.7 1192.9 1175.4 1193.3 1174.5 1193.6 1176.2 1193.9 1171.5 1194.3 1174.8 1194.6 1183.4 1194.9 1174.3 1195.3 1187.4 1195.6 1171.1 1195.9 1181.8 1196.2 1181.7 1196.6 1182.0 1196.9 1179.3 1197.2 1169.5 1197.6 1181.7 1197.9 1181.2 1198.2 1176.6 1198.5 1165.8 1198.9 1181.0 1199.2 1172.0 1199.5 1174.8 1199.9 1181.4 1200.2 1181.7 1200.5 1177.4 1200.8 1173.1 1201.2 1183.1 1201.5 1180.5 1201.8 1174.6 1202.2 1170.9 1202.5 1176.3 1202.8 1168.9 1203.2 1182.6 1203.5 1176.9 1203.8 1172.9 1204.1 1176.2 1204.5 1166.9 1204.8 1173.8 1205.1 1171.1 1205.5 1166.8 1205.8 1170.8 1206.1 1175.0 1206.4 1167.0 1206.8 1172.3 1207.1 1166.6 1207.4 1173.7 1207.8 1164.9 1208.1 1175.7 1208.4 1175.3 1208.7 1175.8 1209.1 1180.0 1209.4 1172.6 1209.7 1172.2 1210.1 1174.1 1210.4 1169.2 1210.7 1162.7 1211.1 1165.5 1211.4 1165.3 1211.7 1171.3 1212.0 1167.4 1212.4 1168.3 1212.7 1172.3 1213.0 1170.5 1213.4 1178.2 1213.7 1169.0 1214.0 1164.8 1214.3 1174.3 1214.7 1166.7 1215.0 1168.0 1215.3 1172.5 1215.7 1168.7 1216.0 1170.7 1216.3 1164.7 1216.7 1165.9 1217.0 1169.8 1217.3 1164.4 1217.6 1164.8 1218.0 1166.1 1218.3 1173.0 1218.6 1172.2 1219.0 1166.6 1219.3 1165.6 1219.6 1162.0 1219.9 1170.6 1220.3 1166.4 1220.6 1168.4 1220.9 1157.9 1221.3 1167.3 1221.6 1164.2 1221.9 1166.6 1222.2 1167.6 1222.6 1162.8 1222.9 1160.9 1223.2 1165.3 1223.6 1156.7 1223.9 1167.9 1224.2 1163.0 1224.6 1156.3 1224.9 1166.5 1225.2 1164.9 1225.5 1167.1 1225.9 1164.5 1226.2 1162.0 1226.5 1159.4 1226.9 1154.7 1227.2 1162.4 1227.5 1161.4 1227.8 1156.7 1228.2 1160.9 1228.5 1154.2 1228.8 1162.4 1229.2 1158.2 1229.5 1158.4 1229.8 1153.9 1230.1 1160.9 1230.5 1157.3 1230.8 1153.8 1231.1 1157.8 1231.5 1155.0 1231.8 1160.2 1232.1 1148.8 1232.5 1150.2 1232.8 1163.8 1233.1 1152.6 1233.4 1156.7 1233.8 1152.6 1234.1 1155.1 1234.4 1165.4 1234.8 1145.3 1235.1 1156.1 1235.4 1153.8 1235.7 1153.6 1236.1 1149.9 1236.4 1149.1 1236.7 1159.0 1237.1 1155.1 1237.4 1147.7 1237.7 1152.8 1238.0 1146.9 1238.4 1164.3 1238.7 1154.2 1239.0 1144.7 1239.4 1156.5 1239.7 1155.2 1240.0 1153.8 1240.4 1153.2 1240.7 1150.1 1241.0 1151.7 1241.3 1143.8 1241.7 1158.2 1242.0 1161.3 1242.3 1154.9 1242.7 1155.5 1243.0 1147.1 1243.3 1151.2 1243.6 1147.1 1244.0 1147.7 1244.3 1155.8 1244.6 1159.7 1245.0 1153.5 1245.3 1164.6 1245.6 1157.7 1246.0 1144.7 1246.3 1152.9 1246.6 1160.4 1246.9 1155.7 1247.3 1159.7 1247.6 1148.3 1247.9 1161.2 1248.3 1150.9 1248.6 1157.7 1248.9 1165.5 1249.2 1157.1 1249.6 1156.0 1249.9 1160.5 1250.2 1154.0 1250.6 1153.8 1250.9 1162.3 1251.2 1152.1 1251.5 1153.4 1251.9 1166.4 1252.2 1153.9 1252.5 1161.4 1252.9 1164.5 1253.2 1159.8 1253.5 1155.9 1253.9 1164.1 1254.2 1157.0 1254.5 1170.1 1254.8 1170.8 1255.2 1157.4 1255.5 1164.4 1255.8 1159.3 1256.2 1164.1 1256.5 1161.7 1256.8 1158.9 1257.1 1165.5 1257.5 1156.6 1257.8 1165.1 1258.1 1163.4 1258.5 1161.0 1258.8 1168.3 1259.1 1165.0 1259.4 1163.6 1259.8 1164.6 1260.1 1164.5 1260.4 1169.6 1260.8 1164.7 1261.1 1154.4 1261.4 1154.6 1261.8 1162.2 1262.1 1161.5 1262.4 1165.8 1262.7 1161.5 1263.1 1164.0 1263.4 1173.0 1263.7 1162.2 1264.1 1171.4 1264.4 1167.6 1264.7 1173.6 1265.0 1172.1 1265.4 1168.9 1265.7 1173.3 1266.0 1169.9 1266.4 1164.5 1266.7 1171.3 1267.0 1171.5 1267.3 1169.1 1267.7 1170.8 1268.0 1168.1 1268.3 1171.4 1268.7 1169.0 1269.0 1164.0 1269.3 1169.3 1269.7 1177.1 1270.0 1174.0 1270.3 1176.9 1270.6 1170.9 1271.0 1169.3 1271.3 1166.7 1271.6 1171.8 1272.0 1175.4 1272.3 1174.7 1272.6 1174.4 1272.9 1169.4 1273.3 1172.0 1273.6 1168.5 1273.9 1175.1 1274.3 1174.2 1274.6 1169.3 1274.9 1172.4 1275.3 1162.8 1275.6 1174.9 1275.9 1168.8 1276.2 1170.7 1276.6 1174.6 1276.9 1175.0 1277.2 1169.6 1277.6 1178.8 1277.9 1180.5 1278.2 1178.3 1278.5 1177.8 1278.9 1172.7 1279.2 1178.1 1279.5 1169.0 1279.9 1168.1 1280.2 1173.3 1280.5 1173.7 1280.8 1169.2 1281.2 1179.9 1281.5 1166.9 1281.8 1164.4 1282.2 1171.2 1282.5 1179.4 1282.8 1175.8 1283.2 1174.2 1283.5 1173.4 1283.8 1175.1 1284.1 1174.1 1284.5 1173.3 1284.8 1172.4 1285.1 1166.5 1285.5 1176.8 1285.8 1171.2 1286.1 1174.4 1286.4 1174.9 1286.8 1177.0 1287.1 1169.8 1287.4 1176.2 1287.8 1176.3 1288.1 1172.5 1288.4 1172.7 1288.7 1173.5 1289.1 1168.8 1289.4 1171.1 1289.7 1168.4 1290.1 1177.6 1290.4 1169.8 1290.7 1168.7 1291.1 1173.5 1291.4 1175.0 1291.7 1171.4 1292.0 1169.1 1292.4 1174.5 1292.7 1176.2 1293.0 1166.4 1293.4 1176.4 1293.7 1165.8 1294.0 1175.4 1294.3 1171.1 1294.7 1171.8 1295.0 1175.6 1295.3 1178.5 1295.7 1181.0 1296.0 1178.2 1296.3 1175.5 1296.6 1167.5 1297.0 1171.2 1297.3 1173.3 1297.6 1170.4 1298.0 1175.0 1298.3 1171.8 1298.6 1179.7 1299.0 1172.0 1299.3 1167.7 1299.6 1170.7 1299.9 1169.9 1300.3 1175.4 1300.6 1178.1" fill="none" stroke="#FF0000" stroke-width="6" stroke-linejoin="round" stroke-linecap="round"/>
<path d="M148.3 1404.1L148.7 1407.0 149.0 1404.2 149.3 1394.9 149.7 1407.8 150.0 1405.2 150.3 1399.6 150.7 1406.2 151.0 1405.1 151.3 1404.8 151.6 1403.3 152.0 1406.4 152.3 1399.1 152.6 1402.5 153.0 1400.8 153.3 1407.2 153.6 1404.0 153.9 1402.2 154.3 1399.5 154.6 1402.6 154.9 1404.2 155.3 1402.7 155.6 1411.9 155.9 1410.4 156.3 1388.9 156.6 1393.8 156.9 1403.8 157.2 1402.5 157.6 1406.3 157.9 1406.4 158.2 1417.5 158.6 1398.9 158.9 1403.3 159.2 1417.4 159.5 1409.4 159.9 1409.6 160.2 1402.9 160.5 1396.4 160.9 1407.0 161.2 1406.8 161.5 1399.2 161.8 1402.4 162.2 1406.1 162.5 1401.1 162.8 1406.1 163.2 1407.3 163.5 1407.1 163.8 1404.1 164.2 1410.5 164.5 1412.4 164.8 1409.2 165.1 1402.7 165.5 1411.8 165.8 1404.7 166.1 1412.8 166.5 1401.6 166.8 1413.2 167.1 1407.9 167.4 1400.9 167.8 1406.4 168.1 1408.6 168.4 1410.0 168.8 1402.8 169.1 1402.2 169.4 1409.9 169.7 1406.1 170.1 1410.3 170.4 1413.4 170.7 1399.6 171.1 1410.7 171.4 1416.4 171.7 1407.7 172.1 1404.8 172.4 1414.0 172.7 1411.2 173.0 1415.0 173.4 1407.9 173.7 1401.4 174.0 1409.5 174.4 1407.6 174.7 1414.8 175.0 1411.5 175.3 1401.1 175.7 1403.7 176.0 1415.8 176.3 1414.8 176.7 1407.2 177.0 1411.0 177.3 1413.7 177.7 1413.9 178.0 1416.4 178.3 1412.9 178.6 1411.0 179.0 1410.1 179.3 1417.8 179.6 1398.7 180.0 1411.1 180.3 1412.2 180.6 1403.8 180.9 1414.1 181.3 1408.5 181.6 1417.4 181.9 1411.7 182.3 1416.4 182.6 1419.7 182.9 1415.0 183.2 1407.8 183.6 1404.2 183.9 1423.2 184.2 1412.5 184.6 1409.2 184.9 1414.2 185.2 1412.3 185.6 1418.4 185.9 1413.8 186.2 1413.8 186.5 1409.6 186.9 1416.6 187.2 1408.0 187.5 1417.9 187.9 1423.0 188.2 1405.4 188.5 1400.0 188.8 1418.0 189.2 1429.3 189.5 1408.8 189.8 1407.4 190.2 1418.2 190.5 1410.0 190.8 1412.0 191.1 1413.0 191.5 1418.2 191.8 1412.9 192.1 1416.9 192.5 1414.4 192.8 1410.6 193.1 1413.7 193.5 1410.2 193.8 1415.8 194.1 1409.3 194.4 1409.6 194.8 1424.5 195.1 1415.8 195.4 1415.9 195.8 1419.2 196.1 1413.9 196.4 1415.1 196.7 1419.0 197.1 1418.3 197.4 1410.0 197.7 1421.6 198.1 1413.4 198.4 1410.8 198.7 1411.8 199.0 1414.9 199.4 1426.6 199.7 1410.5 200.0 1418.3 200.4 1405.0 200.7 1417.5 201.0 1422.8 201.4 1416.3 201.7 1414.1 202.0 1419.2 202.3 1422.0 202.7 1421.9 203.0 1429.5 203.3 1419.4 203.7 1414.8 204.0 1417.6 204.3 1418.0 204.6 1419.1 205.0 1418.4 205.3 1419.6 205.6 1409.0 206.0 1423.6 206.3 1415.5 206.6 1412.1 207.0 1422.7 207.3 1426.7 207.6 1422.0 207.9 1420.2 208.3 1413.9 208.6 1435.6 208.9 1424.6 209.3 1412.9 209.6 1415.1 209.9 1420.2 210.2 1410.7 210.6 1420.8 210.9 1417.2 211.2 1427.1 211.6 1425.6 211.9 1404.4 212.2 1420.4 212.5 1410.9 212.9 1426.7 213.2 1421.4 213.5 1423.6 213.9 1414.3 214.2 1431.2 214.5 1432.4 214.9 1414.5 215.2 1422.9 215.5 1416.9 215.8 1420.8 216.2 1413.6 216.5 1431.9 216.8 1415.5 217.2 1419.4 217.5 1424.1 217.8 1417.5 218.1 1420.0 218.5 1418.1 218.8 1420.7 219.1 1414.7 219.5 1419.1 219.8 1420.4 220.1 1419.8 220.4 1422.1 220.8 1420.1 221.1 1426.2 221.4 1420.1 221.8 1421.2 222.1 1418.2 222.4 1419.1 222.8 1414.8 223.1 1425.2 223.4 1415.6 223.7 1418.0 224.1 1424.5 224.4 1424.8 224.7 1420.2 225.1 1410.8 225.4 1425.0 225.7 1424.1 226.0 1414.5 226.4 1427.2 226.7 1418.7 227.0 1416.3 227.4 1423.4 227.7 1421.9 228.0 1424.1 228.3 1413.7 228.7 1433.6 229.0 1419.6 229.3 1414.2 229.7 1426.8 230.0 1421.2 230.3 1425.2 230.7 1421.4 231.0 1423.0 231.3 1424.8 231.6 1419.1 232.0 1427.4 232.3 1420.8 232.6 1418.5 233.0 1424.0 233.3 1426.2 233.6 1422.3 233.9 1418.7 234.3 1427.3 234.6 1413.6 234.9 1417.8 235.3 1424.1 235.6 1416.0 235.9 1424.1 236.3 1423.6 236.6 1429.2 236.9 1418.7 237.2 1420.4 237.6 1426.0 237.9 1409.9 238.2 1440.4 238.6 1420.1 238.9 1420.0 239.2 1429.2 239.5 1424.0 239.9 1414.0 240.2 1427.9 240.5 1429.3 240.9 1421.7 241.2 1422.7 241.5 1427.2 241.8 1419.1 242.2 1427.0 242.5 1425.6 242.8 1420.6 243.2 1416.4 243.5 1423.2 243.8 1419.4 244.2 1430.3 244.5 1425.4 244.8 1429.1 245.1 1425.4 245.5 1426.1 245.8 1420.1 246.1 1428.5 246.5 1435.0 246.8 1422.8 247.1 1421.2 247.4 1423.7 247.8 1421.9 248.1 1420.6 248.4 1425.5 248.8 1423.0 249.1 1433.0 249.4 1424.7 249.7 1426.6 250.1 1430.2 250.4 1423.0 250.7 1433.0 251.1 1421.1 251.4 1420.0 251.7 1422.6 252.1 1424.0 252.4 1416.6 252.7 1424.5 253.0 1415.1 253.4 1432.8 253.7 1424.2 254.0 1421.0 254.4 1419.4 254.7 1422.5 255.0 1423.4 255.3 1418.6 255.7 1419.3 256.0 1423.6 256.3 1421.6 256.7 1430.1 257.0 1431.2 257.3 1424.7 257.6 1427.3 258.0 1416.8 258.3 1428.3 258.6 1424.4 259.0 1427.3 259.3 1433.8 259.6 1411.3 260.0 1426.0 260.3 1418.1 260.6 1427.9 260.9 1416.8 261.3 1421.5 261.6 1425.6 261.9 1427.9 262.3 1424.8 262.6 1419.7 262.9 1421.1 263.2 1429.4 263.6 1424.2 263.9 1414.5 264.2 1429.1 264.6 1426.6 264.9 1429.2 265.2 1422.2 265.6 1428.9 265.9 1417.9 266.2 1427.3 266.5 1421.2 266.9 1427.9 267.2 1429.8 267.5 1419.6 267.9 1423.6 268.2 1424.1 268.5 1430.7 268.8 1427.9 269.2 1416.7 269.5 1426.3 269.8 1428.0 270.2 1435.9 270.5 1413.9 270.8 1420.4 271.1 1431.2 271.5 1415.6 271.8 1416.5 272.1 1426.4 272.5 1429.2 272.8 1419.4 273.1 1426.4 273.5 1423.9 273.8 1432.0 274.1 1423.1 274.4 1428.8 274.8 1417.8 275.1 1421.9 275.4 1422.4 275.8 1429.5 276.1 1426.2 276.4 1418.5 276.7 1426.7 277.1 1427.2 277.4 1422.0 277.7 1421.1 278.1 1421.4 278.4 1412.7 278.7 1423.6 279.0 1423.8 279.4 1417.4 279.7 1426.6 280.0 1414.3 280.4 1419.0 280.7 1419.4 281.0 1433.6 281.4 1412.8 281.7 1425.2 282.0 1427.4 282.3 1424.0 282.7 1428.6 283.0 1415.9 283.3 1408.5 283.7 1426.1 284.0 1414.7 284.3 1419.6 284.6 1414.6 285.0 1427.5 285.3 1426.3 285.6 1417.1 286.0 1426.4 286.3 1421.8 286.6 1420.3 286.9 1421.3 287.3 1419.8 287.6 1424.4 287.9 1422.6 288.3 1418.7 288.6 1426.5 288.9 1417.1 289.3 1422.2 289.6 1422.9 289.9 1429.0 290.2 1417.4 290.6 1430.3 290.9 1421.2 291.2 1419.0 291.6 1416.2 291.9 1423.4 292.2 1420.2 292.5 1413.5 292.9 1413.3 293.2 1416.5 293.5 1415.7 293.9 1425.9 294.2 1427.4 294.5 1424.4 294.9 1421.4 295.2 1416.8 295.5 1419.5 295.8 1424.2 296.2 1431.4 296.5 1424.2 296.8 1417.3 297.2 1419.0 297.5 1415.9 297.8 1414.1 298.1 1417.5 298.5 1419.6 298.8 1429.0 299.1 1418.6 299.5 1426.1 299.8 1428.4 300.1 1418.6 300.4 1427.3 300.8 1422.1 301.1 1415.4 301.4 1419.3 301.8 1417.8 302.1 1416.3 302.4 1416.4 302.8 1418.3 303.1 1419.9 303.4 1412.2 303.7 1417.1 304.1 1408.3 304.4 1418.5 304.7 1420.5 305.1 1417.8 305.4 1418.4 305.7 1420.1 306.0 1412.8 306.4 1415.1 306.7 1419.4 307.0 1422.1 307.4 1418.5 307.7 1430.9 308.0 1415.5 308.3 1421.8 308.7 1423.2 309.0 1415.0 309.3 1411.0 309.7 1408.8 310.0 1416.5 310.3 1421.9 310.7 1416.9 311.0 1416.3 311.3 1413.0 311.6 1418.3 312.0 1402.7 312.3 1416.3 312.6 1415.0 313.0 1406.8 313.3 1427.2 313.6 1406.6 313.9 1408.3 314.3 1407.5 314.6 1420.7 314.9 1409.1 315.3 1418.0 315.6 1417.4 315.9 1415.5 316.2 1406.3 316.6 1410.2 316.9 1423.3 317.2 1406.2 317.6 1408.7 317.9 1412.5 318.2 1418.0 318.6 1414.7 318.9 1417.4 319.2 1406.9 319.5 1418.4 319.9 1416.2 320.2 1403.6 320.5 1421.6 320.9 1425.8 321.2 1408.1 321.5 1412.8 321.8 1420.4 322.2 1403.7 322.5 1400.7 322.8 1404.6 323.2 1408.7 323.5 1408.6 323.8 1415.3 324.2 1413.3 324.5 1404.5 324.8 1414.9 325.1 1422.3 325.5 1418.3 325.8 1417.1 326.1 1411.4 326.5 1416.8 326.8 1405.5 327.1 1415.3 327.4 1410.4 327.8 1417.4 328.1 1413.4 328.4 1404.4 328.8 1411.3 329.1 1417.5 329.4 1403.9 329.7 1407.1 330.1 1405.8 330.4 1401.6 330.7 1415.6 331.1 1417.6 331.4 1414.6 331.7 1411.3 332.1 1409.5 332.4 1411.1 332.7 1405.4 333.0 1414.7 333.4 1415.5 333.7 1414.8 334.0 1406.3 334.4 1409.7 334.7 1408.2 335.0 1419.4 335.3 1410.1 335.7 1398.1 336.0 1411.2 336.3 1419.7 336.7 1412.7 337.0 1413.7 337.3 1408.8 337.6 1397.2 338.0 1398.0 338.3 1401.2 338.6 1407.6 339.0 1410.1 339.3 1412.2 339.6 1406.2 340.0 1413.6 340.3 1406.4 340.6 1403.9 340.9 1412.8 341.3 1402.5 341.6 1392.0 341.9 1401.6 342.3 1408.2 342.6 1391.4 342.9 1405.4 343.2 1405.5 343.6 1399.2 343.9 1398.8 344.2 1404.6 344.6 1404.1 344.9 1414.4 345.2 1409.3 345.5 1397.9 345.9 1402.1 346.2 1411.0 346.5 1417.8 346.9 1409.1 347.2 1408.6 347.5 1417.5 347.9 1406.6 348.2 1404.9 348.5 1398.5 348.8 1403.6 349.2 1419.0 349.5 1398.3 349.8 1406.5 350.2 1398.3 350.5 1407.1 350.8 1411.4 351.1 1404.8 351.5 1410.4 351.8 1410.3 352.1 1408.7 352.5 1416.0 352.8 1410.5 353.1 1404.3 353.5 1402.1 353.8 1401.1 354.1 1408.6 354.4 1404.0 354.8 1421.5 355.1 1416.4 355.4 1404.5 355.8 1403.8 356.1 1415.4 356.4 1394.8 356.7 1403.0 357.1 1411.1 357.4 1400.3 357.7 1402.8 358.1 1403.5 358.4 1409.3 358.7 1406.3 359.0 1407.7 359.4 1408.8 359.7 1405.6 360.0 1411.7 360.4 1401.1 360.7 1397.0 361.0 1395.0 361.4 1395.9 361.7 1402.0 362.0 1411.1 362.3 1406.2 362.7 1401.7 363.0 1399.0 363.3 1402.0 363.7 1402.7 364.0 1401.8 364.3 1396.8 364.6 1402.2 365.0 1410.8 365.3 1392.4 365.6 1403.5 366.0 1392.7 366.3 1405.9 366.6 1400.5 366.9 1392.8 367.3 1405.3 367.6 1415.2 367.9 1405.3 368.3 1411.3 368.6 1404.2 368.9 1392.2 369.3 1407.4 369.6 1402.1 369.9 1396.1 370.2 1409.0 370.6 1406.1 370.9 1401.4 371.2 1409.4 371.6 1399.3 371.9 1408.0 372.2 1398.9 372.5 1407.3 372.9 1397.9 373.2 1412.7 373.5 1405.6 373.9 1412.3 374.2 1399.3 374.5 1401.3 374.8 1408.8 375.2 1388.2 375.5 1397.8 375.8 1409.8 376.2 1406.5 376.5 1409.4 376.8 1401.9 377.2 1406.9 377.5 1399.4 377.8 1395.7 378.1 1393.8 378.5 1400.3 378.8 1400.3 379.1 1399.8 379.5 1387.2 379.8 1391.8 380.1 1400.1 380.4 1404.8 380.8 1399.8 381.1 1398.0 381.4 1389.7 381.8 1414.5 382.1 1396.5 382.4 1412.5 382.8 1411.7 383.1 1404.2 383.4 1399.3 383.7 1403.3 384.1 1395.8 384.4 1403.8 384.7 1402.3 385.1 1405.3 385.4 1407.6 385.7 1412.0 386.0 1399.7 386.4 1407.9 386.7 1397.2 387.0 1396.5 387.4 1398.0 387.7 1395.9 388.0 1407.0 388.3 1406.6 388.7 1408.5 389.0 1401.0 389.3 1402.6 389.7 1397.6 390.0 1394.2 390.3 1403.3 390.7 1402.1 391.0 1394.1 391.3 1403.7 391.6 1390.2 392.0 1399.1 392.3 1396.4 392.6 1396.8 393.0 1393.5 393.3 1405.1 393.6 1402.7 393.9 1406.1 394.3 1399.9 394.6 1391.6 394.9 1396.7 395.3 1391.9 395.6 1401.2 395.9 1405.4 396.2 1400.1 396.6 1394.6 396.9 1395.8 397.2 1398.9 397.6 1389.2 397.9 1398.2 398.2 1398.4 398.6 1393.9 398.9 1394.4 399.2 1397.6 399.5 1391.7 399.9 1391.5 400.2 1400.5 400.5 1397.1 400.9 1405.3 401.2 1389.8 401.5 1385.0 401.8 1400.4 402.2 1400.3 402.5 1390.3 402.8 1385.9 403.2 1393.8 403.5 1383.8 403.8 1391.6 404.1 1380.8 404.5 1391.7 404.8 1380.6 405.1 1391.2 405.5 1401.1 405.8 1390.5 406.1 1396.2 406.5 1387.8 406.8 1386.1 407.1 1382.3 407.4 1396.6 407.8 1390.0 408.1 1399.4 408.4 1382.9 408.8 1388.2 409.1 1389.6 409.4 1397.0 409.7 1399.0 410.1 1384.4 410.4 1381.3 410.7 1377.5 411.1 1394.9 411.4 1386.3 411.7 1382.7 412.1 1385.8 412.4 1371.0 412.7 1375.4 413.0 1390.4 413.4 1386.9 413.7 1385.1 414.0 1378.1 414.4 1386.9 414.7 1393.4 415.0 1375.6 415.3 1382.3 415.7 1379.3 416.0 1383.5 416.3 1381.0 416.7 1379.7 417.0 1374.9 417.3 1379.5 417.6 1375.6 418.0 1377.8 418.3 1377.8 418.6 1381.5 419.0 1373.8 419.3 1374.8 419.6 1382.4 420.0 1374.3 420.3 1373.5 420.6 1379.5 420.9 1375.5 421.3 1373.9 421.6 1374.0 421.9 1364.9 422.3 1374.2 422.6 1378.6 422.9 1373.7 423.2 1360.6 423.6 1370.6 423.9 1363.0 424.2 1366.3 424.6 1367.6 424.9 1359.2 425.2 1373.2 425.5 1364.2 425.9 1368.4 426.2 1366.7 426.5 1370.0 426.9 1368.3 427.2 1351.8 427.5 1359.8 427.9 1346.0 428.2 1355.0 428.5 1360.8 428.8 1361.0 429.2 1362.1 429.5 1351.3 429.8 1354.2 430.2 1351.8 430.5 1357.5 430.8 1358.2 431.1 1345.4 431.5 1363.0 431.8 1344.9 432.1 1341.3 432.5 1345.6 432.8 1345.0 433.1 1342.2 433.4 1333.5 433.8 1344.5 434.1 1334.3 434.4 1341.4 434.8 1338.7 435.1 1320.8 435.4 1320.5 435.8 1318.3 436.1 1323.6 436.4 1320.2 436.7 1319.1 437.1 1310.1 437.4 1315.1 437.7 1318.3 438.1 1298.8 438.4 1302.8 438.7 1302.5 439.0 1296.9 439.4 1293.1 439.7 1300.7 440.0 1294.9 440.4 1288.3 440.7 1274.2 441.0 1284.6 441.4 1272.2 441.7 1261.5 442.0 1257.9 442.3 1251.5 442.7 1259.0 443.0 1244.1 443.3 1236.7 443.7 1219.4 444.0 1227.1 444.3 1207.9 444.6 1199.3 445.0 1202.1 445.3 1183.5 445.6 1185.1 446.0 1177.1 446.3 1148.4 446.6 1147.1 446.9 1125.7 447.3 1123.9 447.6 1118.1 447.9 1089.5 448.3 1097.0 448.6 1070.2 448.9 1050.7 449.3 1044.9 449.6 1038.7 449.9 1011.0 450.2 1009.8 450.6 989.9 450.9 1000.4 451.2 986.1 451.6 977.2 451.9 988.5 452.2 978.4 452.5 996.4 452.9 1024.7 453.2 1026.4 453.5 1050.9 453.9 1055.5 454.2 1060.9 454.5 1075.1 454.8 1087.9 455.2 1094.8 455.5 1102.2 455.8 1112.6 456.2 1117.9 456.5 1138.9 456.8 1150.9 457.2 1163.3 457.5 1157.7 457.8 1183.4 458.1 1187.7 458.5 1188.0 458.8 1207.2 459.1 1220.8 459.5 1227.5 459.8 1237.1 460.1 1246.5 460.4 1253.8 460.8 1255.2 461.1 1252.4 461.4 1264.1 461.8 1277.3 462.1 1278.1 462.4 1290.8 462.7 1296.8 463.1 1297.2 463.4 1311.5 463.7 1300.2 464.1 1316.0 464.4 1311.5 464.7 1313.5 465.1 1325.3 465.4 1321.4 465.7 1333.5 466.0 1324.4 466.4 1334.5 466.7 1332.0 467.0 1338.2 467.4 1339.9 467.7 1337.8 468.0 1350.6 468.3 1341.5 468.7 1345.1 469.0 1358.0 469.3 1360.3 469.7 1360.3 470.0 1360.1 470.3 1373.0 470.7 1354.2 471.0 1358.4 471.3 1358.3 471.6 1370.7 472.0 1368.4 472.3 1374.5 472.6 1374.9 473.0 1369.1 473.3 1366.7 473.6 1366.8 473.9 1386.4 474.3 1380.2 474.6 1379.0 474.9 1374.5 475.3 1376.2 475.6 1376.3 475.9 1377.2 476.2 1366.1 476.6 1380.3 476.9 1379.3 477.2 1383.9 477.6 1384.1 477.9 1388.5 478.2 1384.2 478.6 1389.5 478.9 1370.9 479.2 1379.9 479.5 1396.7 479.9 1380.4 480.2 1386.4 480.5 1392.6 480.9 1384.1 481.2 1393.8 481.5 1382.0 481.8 1379.7 482.2 1383.6 482.5 1382.2 482.8 1392.0 483.2 1390.8 483.5 1394.9 483.8 1387.6 484.1 1408.5 484.5 1393.8 484.8 1394.5 485.1 1397.8 485.5 1394.2 485.8 1392.4 486.1 1396.9 486.5 1402.0 486.8 1400.9 487.1 1402.9 487.4 1394.7 487.8 1393.8 488.1 1410.0 488.4 1397.6 488.8 1402.0 489.1 1403.8 489.4 1408.0 489.7 1392.5 490.1 1397.8 490.4 1398.4 490.7 1399.4 491.1 1387.7 491.4 1401.2 491.7 1386.2 492.0 1404.0 492.4 1405.7 492.7 1406.3 493.0 1396.3 493.4 1408.8 493.7 1398.8 494.0 1397.0 494.4 1398.6 494.7 1399.6 495.0 1405.7 495.3 1409.6 495.7 1393.2 496.0 1402.3 496.3 1410.8 496.7 1407.0 497.0 1409.0 497.3 1397.8 497.6 1411.9 498.0 1397.8 498.3 1408.0 498.6 1414.9 499.0 1418.0 499.3 1410.4 499.6 1412.7 500.0 1404.4 500.3 1405.3 500.6 1414.9 500.9 1408.4 501.3 1407.8 501.6 1400.7 501.9 1409.7 502.3 1412.7 502.6 1404.6 502.9 1406.4 503.2 1418.3 503.6 1410.5 503.9 1408.0 504.2 1403.3 504.6 1406.3 504.9 1408.5 505.2 1417.7 505.5 1406.5 505.9 1420.2 506.2 1404.8 506.5 1408.1 506.9 1414.9 507.2 1408.8 507.5 1405.4 507.9 1409.3 508.2 1412.6 508.5 1400.2 508.8 1408.5 509.2 1409.1 509.5 1407.3 509.8 1413.6 510.2 1406.0 510.5 1406.9 510.8 1408.9 511.1 1412.5 511.5 1406.8 511.8 1416.3 512.1 1402.0 512.5 1414.0 512.8 1401.2 513.1 1404.5 513.4 1406.9 513.8 1415.7 514.1 1408.3 514.4 1399.9 514.8 1408.7 515.1 1398.9 515.4 1394.4 515.8 1400.3 516.1 1396.9 516.4 1400.4 516.7 1390.1 517.1 1393.8 517.4 1393.5 517.7 1389.6 518.1 1385.8 518.4 1379.8 518.7 1386.9 519.0 1380.2 519.4 1379.9 519.7 1372.4 520.0 1371.9 520.4 1363.1 520.7 1367.0 521.0 1368.2 521.3 1361.4 521.7 1363.1 522.0 1357.0 522.3 1360.4 522.7 1348.3 523.0 1337.1 523.3 1346.6 523.7 1340.5 524.0 1333.3 524.3 1341.0 524.6 1336.8 525.0 1336.3 525.3 1330.3 525.6 1332.5 526.0 1332.3 526.3 1340.3 526.6 1326.6 526.9 1331.3 527.3 1334.5 527.6 1323.9 527.9 1325.6 528.3 1346.9 528.6 1329.9 528.9 1345.5 529.3 1339.7 529.6 1343.1 529.9 1341.2 530.2 1348.5 530.6 1361.7 530.9 1352.1 531.2 1367.1 531.6 1368.7 531.9 1382.0 532.2 1370.6 532.5 1383.9 532.9 1384.8 533.2 1380.9 533.5 1375.8 533.9 1397.1 534.2 1383.2 534.5 1391.0 534.8 1401.3 535.2 1405.1 535.5 1396.1 535.8 1403.0 536.2 1403.8 536.5 1414.0 536.8 1423.4 537.2 1400.4 537.5 1417.8 537.8 1398.2 538.1 1415.8 538.5 1410.8 538.8 1429.8 539.1 1420.6 539.5 1416.7 539.8 1419.2 540.1 1419.8 540.4 1425.1 540.8 1424.1 541.1 1429.5 541.4 1435.4 541.8 1431.4 542.1 1421.2 542.4 1419.7 542.7 1425.3 543.1 1436.1 543.4 1428.8 543.7 1427.5 544.1 1432.6 544.4 1424.4 544.7 1426.4 545.1 1436.2 545.4 1432.1 545.7 1431.7 546.0 1436.4 546.4 1431.7 546.7 1431.6 547.0 1433.2 547.4 1439.6 547.7 1436.9 548.0 1430.2 548.3 1435.5 548.7 1441.2 549.0 1448.4 549.3 1431.8 549.7 1440.4 550.0 1437.4 550.3 1443.8 550.6 1441.9 551.0 1448.0 551.3 1442.9 551.6 1437.2 552.0 1437.5 552.3 1443.1 552.6 1443.3 553.0 1454.8 553.3 1451.0 553.6 1435.3 553.9 1444.1 554.3 1434.9 554.6 1433.4 554.9 1447.0 555.3 1446.2 555.6 1437.6 555.9 1452.8 556.2 1438.4 556.6 1437.5 556.9 1447.9 557.2 1445.8 557.6 1443.8 557.9 1444.6 558.2 1446.4 558.6 1444.6 558.9 1444.7 559.2 1435.3 559.5 1438.6 559.9 1449.7 560.2 1442.5 560.5 1449.7 560.9 1453.8 561.2 1445.1 561.5 1448.9 561.8 1459.1 562.2 1451.6 562.5 1458.1 562.8 1456.6 563.2 1452.5 563.5 1447.8 563.8 1444.0 564.1 1442.7 564.5 1451.7 564.8 1451.8 565.1 1448.4 565.5 1454.3 565.8 1446.4 566.1 1456.1 566.5 1450.4 566.8 1450.1 567.1 1450.5 567.4 1450.1 567.8 1464.7 568.1 1442.1 568.4 1452.2 568.8 1458.3 569.1 1455.5 569.4 1450.0 569.7 1461.6 570.1 1446.1 570.4 1445.0 570.7 1455.6 571.1 1444.5 571.4 1439.5 571.7 1457.8 572.0 1457.3 572.4 1457.3 572.7 1450.7 573.0 1454.6 573.4 1448.4 573.7 1463.5 574.0 1458.4 574.4 1458.3 574.7 1443.5 575.0 1459.0 575.3 1463.0 575.7 1461.6 576.0 1459.4 576.3 1455.1 576.7 1453.4 577.0 1458.8 577.3 1457.7 577.6 1457.1 578.0 1454.2 578.3 1465.4 578.6 1449.7 579.0 1456.2 579.3 1453.3 579.6 1462.4 579.9 1464.7 580.3 1463.8 580.6 1461.3 580.9 1449.4 581.3 1468.9 581.6 1460.4 581.9 1457.0 582.3 1457.9 582.6 1456.0 582.9 1460.4 583.2 1459.9 583.6 1456.3 583.9 1444.2 584.2 1458.4 584.6 1461.4 584.9 1461.8 585.2 1458.2 585.5 1461.6 585.9 1465.0 586.2 1456.8 586.5 1467.7 586.9 1448.8 587.2 1452.8 587.5 1454.9 587.9 1446.5 588.2 1454.6 588.5 1467.2 588.8 1467.3 589.2 1461.1 589.5 1470.2 589.8 1462.1 590.2 1458.2 590.5 1462.4 590.8 1460.4 591.1 1465.4 591.5 1453.1 591.8 1467.1 592.1 1459.1 592.5 1466.5 592.8 1453.4 593.1 1459.7 593.4 1462.6 593.8 1467.2 594.1 1455.7 594.4 1471.7 594.8 1465.3 595.1 1459.8 595.4 1469.6 595.8 1463.5 596.1 1469.5 596.4 1476.0 596.7 1467.5 597.1 1460.5 597.4 1461.2 597.7 1466.9 598.1 1465.3 598.4 1459.3 598.7 1460.3 599.0 1467.7 599.4 1477.1 599.7 1449.8 600.0 1468.4 600.4 1463.3 600.7 1468.9 601.0 1469.5 601.3 1465.1 601.7 1459.3 602.0 1457.3 602.3 1454.8 602.7 1472.0 603.0 1464.2 603.3 1462.5 603.7 1464.0 604.0 1458.3 604.3 1467.4 604.6 1473.1 605.0 1472.2 605.3 1457.4 605.6 1473.6 606.0 1462.0 606.3 1455.8 606.6 1459.6 606.9 1461.2 607.3 1466.6 607.6 1461.0 607.9 1458.5 608.3 1465.4 608.6 1477.6 608.9 1463.2 609.2 1469.7 609.6 1467.7 609.9 1482.0 610.2 1457.0 610.6 1473.6 610.9 1460.6 611.2 1464.5 611.6 1467.3 611.9 1483.3 612.2 1463.8 612.5 1457.7 612.9 1475.3 613.2 1463.6 613.5 1467.0 613.9 1468.3 614.2 1469.0 614.5 1467.6 614.8 1470.1 615.2 1470.9 615.5 1473.5 615.8 1466.6 616.2 1464.9 616.5 1463.2 616.8 1472.4 617.2 1469.0 617.5 1472.3 617.8 1472.3 618.1 1478.7 618.5 1470.7 618.8 1473.7 619.1 1463.1 619.5 1463.8 619.8 1468.1 620.1 1463.2 620.4 1473.8 620.8 1462.7 621.1 1470.5 621.4 1456.7 621.8 1464.2 622.1 1468.5 622.4 1469.0 622.7 1460.7 623.1 1471.2 623.4 1476.0 623.7 1474.3 624.1 1467.2 624.4 1467.6 624.7 1464.4 625.1 1474.4 625.4 1479.0 625.7 1468.2 626.0 1461.9 626.4 1472.3 626.7 1475.2 627.0 1456.4 627.4 1472.2 627.7 1483.4 628.0 1476.1 628.3 1474.6 628.7 1473.9 629.0 1477.6 629.3 1466.7 629.7 1467.2 630.0 1474.2 630.3 1468.2 630.6 1473.5 631.0 1461.6 631.3 1476.3 631.6 1476.9 632.0 1472.5 632.3 1473.2 632.6 1481.3 633.0 1466.5 633.3 1467.5 633.6 1466.6 633.9 1470.3 634.3 1467.1 634.6 1472.9 634.9 1469.2 635.3 1464.9 635.6 1464.4 635.9 1479.5 636.2 1472.6 636.6 1471.8 636.9 1473.2 637.2 1472.7 637.6 1477.3 637.9 1476.3 638.2 1470.0 638.6 1468.8 638.9 1467.4 639.2 1466.6 639.5 1481.1 639.9 1468.5 640.2 1462.5 640.5 1469.0 640.9 1469.3 641.2 1475.5 641.5 1468.9 641.8 1476.7 642.2 1475.9 642.5 1480.8 642.8 1485.7 643.2 1489.2 643.5 1481.3 643.8 1467.7 644.1 1471.8 644.5 1475.4 644.8 1485.4 645.1 1477.8 645.5 1480.7 645.8 1473.3 646.1 1477.5 646.5 1478.2 646.8 1471.8 647.1 1478.6 647.4 1480.2 647.8 1473.6 648.1 1480.0 648.4 1483.5 648.8 1474.9 649.1 1474.5 649.4 1472.9 649.7 1471.2 650.1 1475.5 650.4 1472.4 650.7 1473.0 651.1 1470.5 651.4 1466.4 651.7 1469.7 652.0 1476.6 652.4 1468.4 652.7 1471.3 653.0 1483.8 653.4 1481.1 653.7 1471.2 654.0 1478.2 654.4 1471.4 654.7 1483.9 655.0 1471.8 655.3 1475.5 655.7 1482.6 656.0 1470.6 656.3 1482.2 656.7 1470.7 657.0 1476.5 657.3 1473.6 657.6 1474.7 658.0 1476.1 658.3 1474.8 658.6 1469.7 659.0 1480.0 659.3 1479.2 659.6 1482.3 659.9 1482.9 660.3 1468.0 660.6 1482.4 660.9 1482.4 661.3 1472.5 661.6 1481.1 661.9 1483.4 662.3 1472.5 662.6 1468.0 662.9 1473.5 663.2 1490.7 663.6 1476.8 663.9 1468.9 664.2 1474.2 664.6 1470.1 664.9 1473.4 665.2 1476.1 665.5 1461.7 665.9 1477.5 666.2 1483.3 666.5 1474.5 666.9 1473.5 667.2 1481.6 667.5 1468.7 667.9 1468.9 668.2 1468.1 668.5 1474.8 668.8 1477.8 669.2 1475.2 669.5 1478.7 669.8 1480.2 670.2 1478.4 670.5 1471.3 670.8 1474.2 671.1 1482.5 671.5 1470.0 671.8 1474.3 672.1 1473.4 672.5 1474.7 672.8 1469.9 673.1 1468.4 673.4 1489.6 673.8 1480.8 674.1 1471.8 674.4 1475.4 674.8 1479.4 675.1 1473.8 675.4 1479.1 675.8 1472.4 676.1 1473.8 676.4 1475.2 676.7 1473.2 677.1 1462.4 677.4 1475.8 677.7 1477.1 678.1 1478.3 678.4 1470.3 678.7 1477.5 679.0 1476.8 679.4 1466.1 679.7 1463.7 680.0 1478.2 680.4 1470.5 680.7 1481.1 681.0 1487.2 681.3 1472.5 681.7 1471.9 682.0 1475.5 682.3 1479.3 682.7 1469.4 683.0 1482.3 683.3 1480.9 683.7 1479.1 684.0 1472.6 684.3 1480.5 684.6 1480.2 685.0 1469.0 685.3 1486.8 685.6 1473.9 686.0 1477.5 686.3 1472.6 686.6 1477.5 686.9 1481.7 687.3 1471.0 687.6 1466.4 687.9 1472.9 688.3 1468.3 688.6 1471.2 688.9 1474.6 689.2 1475.0 689.6 1482.3 689.9 1469.8 690.2 1477.1 690.6 1472.5 690.9 1482.6 691.2 1488.8 691.6 1476.8 691.9 1484.2 692.2 1472.2 692.5 1466.4 692.9 1468.2 693.2 1466.5 693.5 1469.9 693.9 1473.7 694.2 1481.2 694.5 1478.7 694.8 1477.4 695.2 1472.6 695.5 1470.9 695.8 1475.0 696.2 1475.5 696.5 1476.1 696.8 1476.7 697.2 1474.1 697.5 1464.3 697.8 1468.6 698.1 1470.1 698.5 1483.7 698.8 1472.2 699.1 1478.1 699.5 1482.3 699.8 1476.2 700.1 1472.2 700.4 1472.7 700.8 1468.8 701.1 1475.9 701.4 1480.3 701.8 1477.2 702.1 1478.3 702.4 1477.9 702.7 1484.8 703.1 1470.6 703.4 1474.8 703.7 1477.7 704.1 1480.6 704.4 1460.7 704.7 1470.9 705.1 1472.6 705.4 1468.1 705.7 1478.1 706.0 1474.7 706.4 1471.3 706.7 1464.6 707.0 1466.2 707.4 1468.0 707.7 1475.7 708.0 1466.6 708.3 1461.9 708.7 1465.2 709.0 1469.8 709.3 1481.9 709.7 1486.3 710.0 1470.1 710.3 1477.7 710.6 1480.1 711.0 1479.4 711.3 1471.8 711.6 1465.3 712.0 1469.6 712.3 1462.2 712.6 1473.4 713.0 1476.2 713.3 1461.7 713.6 1471.6 713.9 1473.3 714.3 1478.4 714.6 1479.0 714.9 1475.8 715.3 1467.6 715.6 1469.3 715.9 1477.6 716.2 1467.8 716.6 1470.7 716.9 1479.2 717.2 1471.4 717.6 1463.1 717.9 1468.8 718.2 1473.7 718.5 1469.1 718.9 1476.3 719.2 1476.8 719.5 1466.3 719.9 1466.9 720.2 1468.9 720.5 1462.8 720.9 1471.2 721.2 1468.0 721.5 1473.1 721.8 1465.4 722.2 1463.7 722.5 1478.2 722.8 1463.4 723.2 1464.8 723.5 1463.8 723.8 1465.9 724.1 1462.4 724.5 1466.9 724.8 1463.1 725.1 1464.4 725.5 1468.4 725.8 1470.0 726.1 1468.5 726.5 1461.7 726.8 1467.6 727.1 1464.5 727.4 1464.3 727.8 1455.3 728.1 1467.9 728.4 1463.2 728.8 1472.9 729.1 1466.8 729.4 1457.0 729.7 1455.3 730.1 1468.5 730.4 1457.2 730.7 1465.3 731.1 1459.5 731.4 1472.1 731.7 1460.8 732.0 1468.1 732.4 1466.6 732.7 1456.5 733.0 1456.7 733.4 1466.0 733.7 1457.5 734.0 1452.2 734.4 1462.9 734.7 1469.8 735.0 1455.1 735.3 1462.3 735.7 1453.2 736.0 1460.8 736.3 1451.5 736.7 1459.3 737.0 1454.3 737.3 1449.6 737.6 1451.2 738.0 1446.2 738.3 1442.2 738.6 1441.7 739.0 1446.3 739.3 1439.9 739.6 1447.2 739.9 1446.8 740.3 1445.5 740.6 1439.2 740.9 1441.1 741.3 1439.6 741.6 1445.9 741.9 1433.1 742.3 1434.2 742.6 1433.9 742.9 1433.1 743.2 1428.5 743.6 1427.8 743.9 1435.6 744.2 1425.0 744.6 1432.2 744.9 1437.0 745.2 1431.3 745.5 1412.6 745.9 1425.4 746.2 1422.1 746.5 1420.9 746.9 1407.0 747.2 1418.6 747.5 1406.5 747.8 1418.1 748.2 1415.0 748.5 1421.4 748.8 1403.0 749.2 1394.6 749.5 1407.1 749.8 1404.0 750.2 1394.9 750.5 1402.6 750.8 1396.6 751.1 1383.2 751.5 1386.3 751.8 1383.5 752.1 1383.1 752.5 1382.5 752.8 1375.1 753.1 1375.5 753.4 1377.6 753.8 1371.3 754.1 1367.7 754.4 1364.9 754.8 1363.5 755.1 1351.8 755.4 1359.6 755.8 1349.9 756.1 1353.6 756.4 1341.4 756.7 1352.2 757.1 1344.9 757.4 1332.0 757.7 1337.5 758.1 1327.4 758.4 1336.5 758.7 1325.4 759.0 1312.3 759.4 1312.5 759.7 1304.5 760.0 1305.0 760.4 1292.5 760.7 1285.7 761.0 1267.8 761.3 1271.7 761.7 1269.1 762.0 1257.4 762.3 1248.8 762.7 1247.9 763.0 1241.0 763.3 1249.0 763.7 1242.7 764.0 1252.3 764.3 1252.7 764.6 1253.7 765.0 1266.7 765.3 1258.7 765.6 1272.6 766.0 1270.1 766.3 1293.0 766.6 1298.7 766.9 1300.3 767.3 1310.3 767.6 1310.5 767.9 1316.1 768.3 1316.1 768.6 1319.0 768.9 1330.7 769.2 1332.3 769.6 1338.2 769.9 1350.3 770.2 1350.3 770.6 1347.0 770.9 1359.5 771.2 1361.0 771.6 1368.1 771.9 1367.8 772.2 1385.0 772.5 1390.9 772.9 1379.7 773.2 1393.3 773.5 1396.6 773.9 1390.5 774.2 1400.4 774.5 1410.8 774.8 1410.6 775.2 1417.8 775.5 1405.0 775.8 1410.0 776.2 1418.3 776.5 1421.1 776.8 1421.6 777.1 1421.5 777.5 1423.5 777.8 1424.5 778.1 1432.3 778.5 1416.6 778.8 1442.3 779.1 1432.4 779.5 1429.2 779.8 1441.5 780.1 1432.5 780.4 1443.7 780.8 1440.8 781.1 1447.5 781.4 1449.9 781.8 1453.9 782.1 1445.4 782.4 1447.7 782.7 1450.3 783.1 1443.8 783.4 1455.6 783.7 1454.1 784.1 1447.2 784.4 1461.7 784.7 1463.4 785.1 1449.9 785.4 1460.8 785.7 1465.2 786.0 1463.7 786.4 1454.7 786.7 1453.2 787.0 1460.7 787.4 1459.3 787.7 1462.5 788.0 1462.5 788.3 1466.4 788.7 1461.2 789.0 1463.8 789.3 1479.8 789.7 1464.9 790.0 1470.0 790.3 1468.1 790.6 1468.1 791.0 1462.5 791.3 1470.6 791.6 1467.9 792.0 1472.8 792.3 1479.7 792.6 1470.2 793.0 1473.6 793.3 1464.5 793.6 1470.8 793.9 1478.7 794.3 1470.5 794.6 1467.7 794.9 1472.4 795.3 1470.7 795.6 1470.6 795.9 1470.2 796.2 1482.9 796.6 1468.1 796.9 1470.7 797.2 1470.1 797.6 1479.8 797.9 1472.1 798.2 1480.6 798.5 1474.8 798.9 1474.0 799.2 1466.7 799.5 1480.9 799.9 1477.6 800.2 1477.1 800.5 1474.5 800.9 1473.1 801.2 1468.8 801.5 1480.6 801.8 1477.2 802.2 1474.1 802.5 1472.8 802.8 1476.9 803.2 1475.9 803.5 1485.1 803.8 1480.7 804.1 1473.7 804.5 1471.2 804.8 1475.9 805.1 1472.5 805.5 1477.8 805.8 1479.6 806.1 1481.0 806.4 1479.9 806.8 1476.9 807.1 1481.1 807.4 1473.5 807.8 1477.8 808.1 1482.6 808.4 1480.0 808.8 1471.9 809.1 1472.7 809.4 1470.4 809.7 1488.3 810.1 1470.9 810.4 1478.4 810.7 1488.8 811.1 1484.9 811.4 1486.3 811.7 1476.9 812.0 1483.4 812.4 1494.1 812.7 1479.6 813.0 1482.0 813.4 1478.3 813.7 1480.0 814.0 1482.0 814.4 1487.4 814.7 1475.6 815.0 1472.9 815.3 1480.6 815.7 1481.6 816.0 1487.9 816.3 1484.4 816.7 1477.5 817.0 1483.7 817.3 1486.7 817.6 1482.4 818.0 1479.2 818.3 1484.6 818.6 1479.3 819.0 1471.5 819.3 1488.2 819.6 1474.6 819.9 1479.6 820.3 1479.8 820.6 1479.7 820.9 1480.1 821.3 1474.1 821.6 1484.4 821.9 1481.8 822.3 1482.0 822.6 1487.4 822.9 1487.6 823.2 1488.8 823.6 1491.5 823.9 1484.4 824.2 1474.1 824.6 1483.2 824.9 1482.2 825.2 1482.6 825.5 1479.1 825.9 1477.7 826.2 1486.5 826.5 1487.4 826.9 1476.7 827.2 1485.3 827.5 1481.6 827.8 1480.6 828.2 1486.1 828.5 1482.4 828.8 1479.8 829.2 1483.0 829.5 1472.4 829.8 1479.7 830.2 1480.6 830.5 1475.6 830.8 1483.8 831.1 1484.3 831.5 1479.8 831.8 1482.1 832.1 1486.5 832.5 1488.5 832.8 1479.1 833.1 1484.8 833.4 1488.5 833.8 1483.0 834.1 1479.2 834.4 1479.2 834.8 1481.5 835.1 1477.9 835.4 1493.6 835.7 1480.3 836.1 1485.2 836.4 1484.2 836.7 1486.6 837.1 1481.4 837.4 1476.7 837.7 1491.8 838.1 1483.0 838.4 1484.0 838.7 1484.5 839.0 1489.9 839.4 1487.4 839.7 1489.5 840.0 1487.7 840.4 1484.3 840.7 1484.8 841.0 1479.7 841.3 1473.6 841.7 1482.3 842.0 1478.1 842.3 1496.9 842.7 1491.6 843.0 1489.6 843.3 1480.8 843.7 1494.2 844.0 1474.9 844.3 1477.4 844.6 1479.6 845.0 1478.7 845.3 1484.3 845.6 1484.7 846.0 1493.5 846.3 1488.8 846.6 1489.9 846.9 1485.8 847.3 1482.9 847.6 1480.1 847.9 1475.9 848.3 1479.2 848.6 1481.7 848.9 1487.6 849.2 1475.0 849.6 1476.6 849.9 1484.7 850.2 1478.2 850.6 1485.3 850.9 1481.5 851.2 1479.7 851.6 1476.7 851.9 1483.0 852.2 1479.8 852.5 1480.4 852.9 1480.2 853.2 1484.4 853.5 1484.2 853.9 1474.6 854.2 1482.5 854.5 1485.4 854.8 1488.6 855.2 1487.3 855.5 1484.3 855.8 1477.4 856.2 1479.2 856.5 1487.8 856.8 1479.5 857.1 1488.3 857.5 1489.6 857.8 1477.6 858.1 1485.2 858.5 1482.3 858.8 1493.2 859.1 1487.1 859.5 1480.1 859.8 1484.8 860.1 1477.9 860.4 1481.8 860.8 1483.6 861.1 1483.2 861.4 1484.0 861.8 1477.7 862.1 1472.8 862.4 1480.3 862.7 1477.6 863.1 1478.5 863.4 1492.9 863.7 1487.8 864.1 1480.9 864.4 1474.4 864.7 1475.0 865.0 1483.4 865.4 1486.9 865.7 1479.9 866.0 1481.9 866.4 1482.4 866.7 1486.5 867.0 1471.3 867.4 1481.6 867.7 1482.7 868.0 1485.4 868.3 1482.4 868.7 1474.7 869.0 1477.2 869.3 1472.2 869.7 1480.8 870.0 1480.7 870.3 1482.2 870.6 1474.4 871.0 1473.4 871.3 1486.9 871.6 1479.8 872.0 1487.6 872.3 1480.8 872.6 1470.8 873.0 1482.2 873.3 1484.2 873.6 1475.4 873.9 1467.6 874.3 1480.6 874.6 1476.3 874.9 1478.1 875.3 1462.7 875.6 1478.5 875.9 1461.8 876.2 1471.2 876.6 1479.9 876.9 1465.7 877.2 1465.2 877.6 1472.1 877.9 1482.5 878.2 1481.9 878.5 1470.2 878.9 1478.0 879.2 1475.5 879.5 1473.4 879.9 1473.5 880.2 1467.5 880.5 1474.9 880.9 1475.7 881.2 1483.7 881.5 1474.0 881.8 1456.2 882.2 1462.0 882.5 1469.3 882.8 1467.4 883.2 1456.9 883.5 1465.1 883.8 1463.3 884.1 1464.2 884.5 1463.1 884.8 1467.8 885.1 1469.8 885.5 1465.0 885.8 1454.9 886.1 1455.4 886.4 1455.5 886.8 1457.8 887.1 1454.9 887.4 1454.4 887.8 1450.4 888.1 1459.1 888.4 1457.6 888.8 1457.0 889.1 1450.5 889.4 1452.2 889.7 1443.9 890.1 1442.1 890.4 1443.3 890.7 1447.9 891.1 1442.7 891.4 1436.1 891.7 1441.2 892.0 1441.5 892.4 1438.6 892.7 1432.7 893.0 1435.0 893.4 1430.8 893.7 1429.7 894.0 1429.2 894.3 1432.0 894.7 1435.9 895.0 1432.7 895.3 1425.9 895.7 1418.6 896.0 1417.1 896.3 1415.4 896.7 1421.0 897.0 1404.3 897.3 1412.1 897.6 1400.1 898.0 1406.5 898.3 1411.5 898.6 1397.3 899.0 1391.4 899.3 1404.8 899.6 1403.7 899.9 1396.0 900.3 1397.9 900.6 1384.5 900.9 1392.9 901.3 1392.9 901.6 1385.4 901.9 1381.1 902.3 1384.2 902.6 1381.0 902.9 1368.3 903.2 1377.4 903.6 1371.6 903.9 1365.8 904.2 1369.4 904.6 1364.6 904.9 1360.7 905.2 1350.7 905.5 1354.9 905.9 1340.6 906.2 1342.3 906.5 1330.1 906.9 1325.9 907.2 1333.0 907.5 1325.9 907.8 1323.1 908.2 1322.9 908.5 1319.7 908.8 1312.3 909.2 1318.7 909.5 1319.4 909.8 1318.8 910.2 1323.3 910.5 1324.7 910.8 1326.2 911.1 1331.2 911.5 1338.0 911.8 1349.3 912.1 1339.6 912.5 1350.9 912.8 1343.9 913.1 1364.6 913.4 1358.0 913.8 1364.4 914.1 1374.4 914.4 1376.5 914.8 1366.7 915.1 1381.4 915.4 1380.6 915.7 1388.5 916.1 1389.2 916.4 1395.5 916.7 1396.2 917.1 1396.8 917.4 1406.7 917.7 1395.0 918.1 1403.6 918.4 1403.4 918.7 1410.2 919.0 1411.2 919.4 1415.0 919.7 1415.4 920.0 1417.7 920.4 1413.7 920.7 1424.1 921.0 1427.9 921.3 1425.1 921.7 1426.6 922.0 1428.4 922.3 1442.2 922.7 1436.0 923.0 1438.7 923.3 1436.6 923.6 1437.0 924.0 1436.5 924.3 1450.3 924.6 1434.9 925.0 1446.5 925.3 1446.0 925.6 1446.0 926.0 1440.4 926.3 1443.2 926.6 1455.5 926.9 1447.9 927.3 1456.9 927.6 1456.7 927.9 1457.1 928.3 1458.9 928.6 1449.6 928.9 1454.2 929.2 1460.7 929.6 1451.6 929.9 1467.1 930.2 1456.4 930.6 1459.5 930.9 1455.2 931.2 1462.8 931.6 1457.7 931.9 1460.7 932.2 1456.6 932.5 1468.8 932.9 1454.9 933.2 1465.8 933.5 1465.1 933.9 1466.4 934.2 1459.3 934.5 1469.9 934.8 1469.8 935.2 1466.0 935.5 1467.0 935.8 1464.8 936.2 1469.0 936.5 1461.7 936.8 1468.8 937.1 1468.1 937.5 1459.0 937.8 1453.0 938.1 1465.6 938.5 1465.4 938.8 1472.3 939.1 1466.4 939.5 1463.6 939.8 1459.2 940.1 1465.5 940.4 1462.9 940.8 1460.1 941.1 1464.9 941.4 1470.6 941.8 1465.6 942.1 1459.6 942.4 1466.3 942.7 1458.9 943.1 1456.2 943.4 1466.3 943.7 1460.8 944.1 1468.8 944.4 1464.4 944.7 1458.5 945.0 1463.2 945.4 1468.3 945.7 1460.4 946.0 1455.6 946.4 1457.2 946.7 1456.0 947.0 1453.7 947.4 1452.6 947.7 1460.8 948.0 1463.8 948.3 1455.9 948.7 1461.3 949.0 1461.4 949.3 1464.9 949.7 1455.1 950.0 1453.8 950.3 1457.3 950.6 1455.3 951.0 1456.0 951.3 1460.7 951.6 1451.7 952.0 1454.7 952.3 1448.4 952.6 1452.4 952.9 1449.7 953.3 1449.2 953.6 1451.9 953.9 1450.7 954.3 1454.9 954.6 1457.2 954.9 1445.8 955.3 1458.5 955.6 1442.5 955.9 1455.2 956.2 1457.9 956.6 1451.4 956.9 1453.9 957.2 1451.5 957.6 1460.4 957.9 1442.3 958.2 1452.0 958.5 1447.7 958.9 1458.9 959.2 1465.0 959.5 1465.1 959.9 1463.0 960.2 1461.6 960.5 1457.1 960.9 1467.6 961.2 1465.3 961.5 1458.6 961.8 1457.1 962.2 1461.0 962.5 1470.1 962.8 1471.6 963.2 1474.0 963.5 1462.8 963.8 1465.5 964.1 1474.7 964.5 1469.5 964.8 1472.8 965.1 1463.1 965.5 1468.4 965.8 1470.7 966.1 1469.6 966.4 1469.8 966.8 1464.3 967.1 1481.0 967.4 1474.2 967.8 1466.7 968.1 1479.7 968.4 1475.2 968.8 1478.9 969.1 1474.9 969.4 1472.4 969.7 1473.0 970.1 1478.8 970.4 1481.3 970.7 1480.3 971.1 1481.5 971.4 1484.6 971.7 1480.5 972.0 1484.3 972.4 1485.2 972.7 1481.6 973.0 1480.1 973.4 1478.7 973.7 1475.2 974.0 1473.8 974.3 1488.1 974.7 1482.0 975.0 1479.6 975.3 1490.3 975.7 1487.6 976.0 1483.4 976.3 1488.3 976.7 1482.7 977.0 1485.6 977.3 1493.0 977.6 1489.5 978.0 1483.2 978.3 1488.2 978.6 1490.8 979.0 1484.7 979.3 1483.4 979.6 1494.8 979.9 1484.4 980.3 1479.6 980.6 1486.9 980.9 1497.6 981.3 1489.7 981.6 1491.5 981.9 1476.5 982.2 1484.6 982.6 1493.3 982.9 1485.6 983.2 1494.2 983.6 1490.2 983.9 1490.0 984.2 1496.4 984.6 1486.0 984.9 1486.3 985.2 1489.2 985.5 1489.9 985.9 1480.7 986.2 1495.0 986.5 1490.3 986.9 1488.5 987.2 1492.4 987.5 1487.6 987.8 1495.5 988.2 1490.1 988.5 1493.4 988.8 1485.7 989.2 1488.7 989.5 1492.0 989.8 1485.7 990.2 1487.2 990.5 1490.2 990.8 1495.9 991.1 1494.3 991.5 1495.1 991.8 1492.3 992.1 1495.2 992.5 1498.4 992.8 1491.8 993.1 1493.2 993.4 1494.0 993.8 1481.6 994.1 1490.9 994.4 1493.4 994.8 1495.1 995.1 1490.0 995.4 1496.3 995.7 1488.6 996.1 1490.9 996.4 1499.9 996.7 1485.4 997.1 1491.5 997.4 1491.3 997.7 1491.6 998.1 1489.5 998.4 1495.2 998.7 1487.1 999.0 1485.9 999.4 1494.6 999.7 1486.6 1000.0 1494.2 1000.4 1492.5 1000.7 1489.2 1001.0 1490.9 1001.3 1492.1 1001.7 1494.7 1002.0 1489.6 1002.3 1491.7 1002.7 1485.9 1003.0 1491.4 1003.3 1483.6 1003.6 1492.6 1004.0 1490.7 1004.3 1502.9 1004.6 1499.1 1005.0 1492.2 1005.3 1497.5 1005.6 1494.4 1006.0 1487.6 1006.3 1481.5 1006.6 1498.4 1006.9 1495.0 1007.3 1483.9 1007.6 1496.3 1007.9 1497.6 1008.3 1490.0 1008.6 1497.1 1008.9 1485.2 1009.2 1492.3 1009.6 1493.6 1009.9 1497.2 1010.2 1495.4 1010.6 1494.6 1010.9 1496.2 1011.2 1490.5 1011.5 1500.6 1011.9 1492.0 1012.2 1497.4 1012.5 1493.7 1012.9 1492.6 1013.2 1496.5 1013.5 1495.9 1013.9 1500.2 1014.2 1498.9 1014.5 1491.2 1014.8 1496.3 1015.2 1494.4 1015.5 1490.2 1015.8 1488.8 1016.2 1495.2 1016.5 1491.5 1016.8 1487.5 1017.1 1493.6 1017.5 1495.2 1017.8 1494.6 1018.1 1488.5 1018.5 1491.5 1018.8 1500.7 1019.1 1490.6 1019.5 1492.7 1019.8 1505.2 1020.1 1496.0 1020.4 1492.0 1020.8 1485.2 1021.1 1495.8 1021.4 1487.8 1021.8 1494.3 1022.1 1490.3 1022.4 1486.5 1022.7 1502.3 1023.1 1494.0 1023.4 1498.8 1023.7 1498.0 1024.1 1491.1 1024.4 1495.0 1024.7 1492.9 1025.0 1499.1 1025.4 1496.6 1025.7 1492.9 1026.0 1502.4 1026.4 1497.1 1026.7 1496.8 1027.0 1491.0 1027.4 1496.6 1027.7 1487.8 1028.0 1496.9 1028.3 1490.4 1028.7 1495.6 1029.0 1493.5 1029.3 1495.9 1029.7 1496.5 1030.0 1494.6 1030.3 1494.6 1030.6 1487.9 1031.0 1486.0 1031.3 1500.8 1031.6 1497.6 1032.0 1488.0 1032.3 1503.9 1032.6 1491.6 1032.9 1497.4 1033.3 1497.0 1033.6 1495.5 1033.9 1497.9 1034.3 1488.6 1034.6 1494.9 1034.9 1493.9 1035.3 1495.5 1035.6 1493.8 1035.9 1492.1 1036.2 1491.7 1036.6 1499.3 1036.9 1491.2 1037.2 1496.9 1037.6 1496.8 1037.9 1494.7 1038.2 1497.2 1038.5 1497.7 1038.9 1492.7 1039.2 1496.8 1039.5 1504.2 1039.9 1490.2 1040.2 1493.9 1040.5 1491.7 1040.8 1504.6 1041.2 1488.7 1041.5 1495.3 1041.8 1499.7 1042.2 1491.3 1042.5 1494.7 1042.8 1492.0 1043.2 1489.1 1043.5 1495.0 1043.8 1497.7 1044.1 1493.5 1044.5 1496.2 1044.8 1498.6 1045.1 1501.0 1045.5 1489.7 1045.8 1498.3 1046.1 1492.6 1046.4 1486.7 1046.8 1491.8 1047.1 1498.5 1047.4 1496.9 1047.8 1490.4 1048.1 1503.0 1048.4 1497.4 1048.8 1495.2 1049.1 1493.0 1049.4 1497.5 1049.7 1493.7 1050.1 1500.8 1050.4 1497.0 1050.7 1498.4 1051.1 1494.1 1051.4 1488.7 1051.7 1498.0 1052.0 1490.9 1052.4 1495.1 1052.7 1495.5 1053.0 1492.0 1053.4 1499.7 1053.7 1489.0 1054.0 1502.5 1054.3 1492.9 1054.7 1500.1 1055.0 1501.6 1055.3 1491.6 1055.7 1492.2 1056.0 1500.0 1056.3 1496.5 1056.7 1496.0 1057.0 1487.2 1057.3 1488.1 1057.6 1498.1 1058.0 1502.3 1058.3 1492.4 1058.6 1491.7 1059.0 1496.6 1059.3 1497.8 1059.6 1498.3 1059.9 1493.7 1060.3 1486.7 1060.6 1502.4 1060.9 1493.4 1061.3 1501.5 1061.6 1486.5 1061.9 1497.4 1062.2 1493.4 1062.6 1490.7 1062.9 1500.1 1063.2 1501.6 1063.6 1493.0 1063.9 1498.7 1064.2 1490.8 1064.6 1492.9 1064.9 1494.6 1065.2 1494.1 1065.5 1498.6 1065.9 1490.2 1066.2 1500.1 1066.5 1500.1 1066.9 1494.7 1067.2 1490.3 1067.5 1484.8 1067.8 1495.4 1068.2 1492.4 1068.5 1496.1 1068.8 1490.9 1069.2 1495.7 1069.5 1495.4 1069.8 1495.7 1070.1 1497.0 1070.5 1497.0 1070.8 1500.1 1071.1 1492.1 1071.5 1498.9 1071.8 1496.4 1072.1 1493.7 1072.5 1491.1 1072.8 1502.2 1073.1 1496.7 1073.4 1493.3 1073.8 1495.9 1074.1 1495.6 1074.4 1493.2 1074.8 1489.3 1075.1 1496.3 1075.4 1494.8 1075.7 1494.3 1076.1 1500.0 1076.4 1489.6 1076.7 1491.2 1077.1 1496.2 1077.4 1499.3 1077.7 1498.3 1078.1 1498.8 1078.4 1485.5 1078.7 1497.7 1079.0 1497.3 1079.4 1498.5 1079.7 1492.3 1080.0 1497.7 1080.4 1499.9 1080.7 1502.6 1081.0 1496.5 1081.3 1489.4 1081.7 1495.6 1082.0 1498.2 1082.3 1497.6 1082.7 1503.9 1083.0 1494.4 1083.3 1490.7 1083.6 1492.4 1084.0 1498.2 1084.3 1491.6 1084.6 1490.5 1085.0 1491.4 1085.3 1500.6 1085.6 1496.2 1086.0 1493.6 1086.3 1498.9 1086.6 1498.1 1086.9 1490.6 1087.3 1498.7 1087.6 1496.1 1087.9 1485.7 1088.3 1489.6 1088.6 1496.0 1088.9 1497.0 1089.2 1493.5 1089.6 1490.3 1089.9 1495.9 1090.2 1486.5 1090.6 1497.2 1090.9 1494.0 1091.2 1494.5 1091.5 1491.6 1091.9 1498.2 1092.2 1484.0 1092.5 1490.5 1092.9 1497.0 1093.2 1491.2 1093.5 1500.9 1093.9 1496.2 1094.2 1490.8 1094.5 1499.1 1094.8 1493.7 1095.2 1496.7 1095.5 1491.3 1095.8 1491.3 1096.2 1497.1 1096.5 1494.3 1096.8 1490.4 1097.1 1489.8 1097.5 1496.6 1097.8 1501.5 1098.1 1489.8 1098.5 1496.5 1098.8 1480.5 1099.1 1487.1 1099.5 1496.3 1099.8 1500.3 1100.1 1493.3 1100.4 1495.4 1100.8 1494.0 1101.1 1497.3 1101.4 1487.8 1101.8 1495.4 1102.1 1490.5 1102.4 1490.8 1102.7 1492.2 1103.1 1491.2 1103.4 1488.5 1103.7 1490.7 1104.1 1487.5 1104.4 1498.2 1104.7 1494.5 1105.0 1489.4 1105.4 1498.2 1105.7 1496.7 1106.0 1493.0 1106.4 1488.2 1106.7 1491.6 1107.0 1492.8 1107.4 1496.2 1107.7 1489.0 1108.0 1487.1 1108.3 1499.6 1108.7 1495.4 1109.0 1490.3 1109.3 1484.6 1109.7 1490.6 1110.0 1493.2 1110.3 1491.3 1110.6 1491.3 1111.0 1487.5 1111.3 1492.1 1111.6 1484.0 1112.0 1484.4 1112.3 1483.8 1112.6 1482.8 1112.9 1494.0 1113.3 1477.3 1113.6 1485.6 1113.9 1479.7 1114.3 1478.1 1114.6 1483.7 1114.9 1475.8 1115.3 1481.9 1115.6 1492.1 1115.9 1480.9 1116.2 1482.9 1116.6 1476.5 1116.9 1482.0 1117.2 1472.6 1117.6 1479.6 1117.9 1477.6 1118.2 1487.3 1118.5 1476.6 1118.9 1474.7 1119.2 1473.2 1119.5 1469.8 1119.9 1478.0 1120.2 1480.5 1120.5 1471.7 1120.8 1476.0 1121.2 1470.7 1121.5 1473.6 1121.8 1473.3 1122.2 1464.3 1122.5 1466.8 1122.8 1474.1 1123.2 1460.8 1123.5 1469.1 1123.8 1467.2 1124.1 1464.3 1124.5 1468.5 1124.8 1469.6 1125.1 1470.5 1125.5 1456.1 1125.8 1475.6 1126.1 1465.9 1126.4 1473.0 1126.8 1467.9 1127.1 1466.2 1127.4 1468.9 1127.8 1482.3 1128.1 1477.2 1128.4 1469.0 1128.8 1472.2 1129.1 1476.9 1129.4 1475.0 1129.7 1473.5 1130.1 1472.9 1130.4 1469.6 1130.7 1478.5 1131.1 1480.8 1131.4 1486.6 1131.7 1474.8 1132.0 1480.9 1132.4 1478.5 1132.7 1484.9 1133.0 1479.5 1133.4 1477.7 1133.7 1473.6 1134.0 1485.0 1134.3 1483.1 1134.7 1488.0 1135.0 1481.0 1135.3 1495.6 1135.7 1481.3 1136.0 1487.3 1136.3 1487.3 1136.7 1490.8 1137.0 1485.6 1137.3 1482.7 1137.6 1482.7 1138.0 1491.1 1138.3 1488.3 1138.6 1489.8 1139.0 1484.9 1139.3 1489.5 1139.6 1490.2 1139.9 1492.2 1140.3 1483.3 1140.6 1486.6 1140.9 1498.0 1141.3 1488.8 1141.6 1490.4 1141.9 1489.3 1142.2 1484.6 1142.6 1486.7 1142.9 1493.3 1143.2 1488.9 1143.6 1501.0 1143.9 1485.6 1144.2 1483.8 1144.6 1490.9 1144.9 1487.4 1145.2 1499.0 1145.5 1491.2 1145.9 1495.5 1146.2 1487.1 1146.5 1496.4 1146.9 1496.4 1147.2 1499.2 1147.5 1494.8 1147.8 1496.2 1148.2 1494.8 1148.5 1498.2 1148.8 1492.4 1149.2 1496.7 1149.5 1491.9 1149.8 1497.6 1150.1 1493.4 1150.5 1491.9 1150.8 1491.8 1151.1 1501.3 1151.5 1488.1 1151.8 1488.5 1152.1 1497.9 1152.5 1490.8 1152.8 1493.2 1153.1 1493.2 1153.4 1505.4 1153.8 1492.5 1154.1 1492.3 1154.4 1493.9 1154.8 1496.6 1155.1 1497.9 1155.4 1489.3 1155.7 1497.7 1156.1 1504.4 1156.4 1488.1 1156.7 1498.4 1157.1 1499.3 1157.4 1496.7 1157.7 1495.2 1158.1 1485.8 1158.4 1501.4 1158.7 1494.8 1159.0 1495.3 1159.4 1501.6 1159.7 1486.1 1160.0 1496.0 1160.4 1498.9 1160.7 1499.5 1161.0 1499.1 1161.3 1505.3 1161.7 1497.7 1162.0 1500.9 1162.3 1499.9 1162.7 1490.1 1163.0 1493.2 1163.3 1505.6 1163.6 1495.4 1164.0 1496.3 1164.3 1490.9 1164.6 1495.2 1165.0 1491.0 1165.3 1494.1 1165.6 1499.1 1166.0 1493.1 1166.3 1494.1 1166.6 1502.5 1166.9 1498.8 1167.3 1499.0 1167.6 1501.1 1167.9 1494.4 1168.3 1495.1 1168.6 1487.9 1168.9 1500.0 1169.2 1495.9 1169.6 1496.8 1169.9 1492.1 1170.2 1499.5 1170.6 1499.5 1170.9 1497.6 1171.2 1490.0 1171.5 1493.2 1171.9 1496.7 1172.2 1493.2 1172.5 1498.5 1172.9 1501.2 1173.2 1493.6 1173.5 1496.0 1173.9 1493.8 1174.2 1501.2 1174.5 1500.7 1174.8 1508.3 1175.2 1496.8 1175.5 1492.7 1175.8 1498.5 1176.2 1495.7 1176.5 1497.6 1176.8 1502.1 1177.1 1495.5 1177.5 1499.8 1177.8 1487.6 1178.1 1501.2 1178.5 1497.2 1178.8 1495.6 1179.1 1494.5 1179.4 1502.7 1179.8 1494.4 1180.1 1502.0 1180.4 1494.4 1180.8 1496.7 1181.1 1498.0 1181.4 1505.2 1181.8 1497.5 1182.1 1497.4 1182.4 1496.1 1182.7 1495.1 1183.1 1493.7 1183.4 1504.1 1183.7 1502.6 1184.1 1493.3 1184.4 1496.9 1184.7 1491.2 1185.0 1500.2 1185.4 1499.1 1185.7 1496.6 1186.0 1492.6 1186.4 1499.3 1186.7 1498.6 1187.0 1495.2 1187.4 1499.0 1187.7 1490.1 1188.0 1493.2 1188.3 1491.7 1188.7 1496.2 1189.0 1502.8 1189.3 1495.8 1189.7 1500.4 1190.0 1495.4 1190.3 1493.7 1190.6 1499.7 1191.0 1497.6 1191.3 1501.3 1191.6 1499.4 1192.0 1491.7 1192.3 1484.2 1192.6 1495.6 1192.9 1489.9 1193.3 1488.9 1193.6 1488.5 1193.9 1492.0 1194.3 1493.8 1194.6 1494.6 1194.9 1503.2 1195.3 1489.3 1195.6 1494.3 1195.9 1489.0 1196.2 1489.9 1196.6 1494.4 1196.9 1495.8 1197.2 1488.4 1197.6 1498.7 1197.9 1489.8 1198.2 1497.7 1198.5 1493.3 1198.9 1497.3 1199.2 1495.8 1199.5 1492.0 1199.9 1495.2 1200.2 1487.3 1200.5 1487.4 1200.8 1491.3 1201.2 1498.5 1201.5 1489.4 1201.8 1489.9 1202.2 1499.4 1202.5 1492.4 1202.8 1492.1 1203.2 1487.5 1203.5 1492.1 1203.8 1494.2 1204.1 1491.3 1204.5 1494.6 1204.8 1492.6 1205.1 1495.5 1205.5 1494.4 1205.8 1490.2 1206.1 1494.3 1206.4 1498.1 1206.8 1491.6 1207.1 1484.9 1207.4 1490.7 1207.8 1488.9 1208.1 1500.6 1208.4 1492.6 1208.7 1484.5 1209.1 1488.2 1209.4 1495.0 1209.7 1483.7 1210.1 1486.3 1210.4 1488.2 1210.7 1487.3 1211.1 1485.2 1211.4 1488.0 1211.7 1481.3 1212.0 1484.5 1212.4 1484.2 1212.7 1485.2 1213.0 1485.0 1213.4 1486.0 1213.7 1484.2 1214.0 1483.6 1214.3 1486.7 1214.7 1488.7 1215.0 1488.6 1215.3 1479.4 1215.7 1485.0 1216.0 1486.8 1216.3 1482.2 1216.7 1485.0 1217.0 1481.7 1217.3 1483.9 1217.6 1475.5 1218.0 1483.5 1218.3 1479.2 1218.6 1477.7 1219.0 1479.2 1219.3 1484.2 1219.6 1483.7 1219.9 1480.3 1220.3 1482.5 1220.6 1476.7 1220.9 1472.7 1221.3 1469.6 1221.6 1476.9 1221.9 1476.0 1222.2 1476.3 1222.6 1475.9 1222.9 1480.3 1223.2 1470.7 1223.6 1470.9 1223.9 1481.8 1224.2 1476.4 1224.6 1471.3 1224.9 1463.3 1225.2 1467.8 1225.5 1469.3 1225.9 1469.9 1226.2 1470.5 1226.5 1468.1 1226.9 1473.3 1227.2 1462.8 1227.5 1466.0 1227.8 1463.7 1228.2 1469.2 1228.5 1466.0 1228.8 1467.9 1229.2 1464.2 1229.5 1475.3 1229.8 1465.6 1230.1 1458.6 1230.5 1461.1 1230.8 1458.7 1231.1 1463.0 1231.5 1463.2 1231.8 1460.0 1232.1 1456.9 1232.5 1454.1 1232.8 1463.1 1233.1 1460.3 1233.4 1443.0 1233.8 1454.5 1234.1 1449.9 1234.4 1451.2 1234.8 1459.4 1235.1 1446.6 1235.4 1446.4 1235.7 1460.8 1236.1 1447.6 1236.4 1448.0 1236.7 1453.4 1237.1 1445.7 1237.4 1447.6 1237.7 1448.0 1238.0 1452.5 1238.4 1439.0 1238.7 1442.0 1239.0 1444.6 1239.4 1448.7 1239.7 1441.7 1240.0 1446.2 1240.4 1441.7 1240.7 1442.0 1241.0 1449.0 1241.3 1442.4 1241.7 1455.3 1242.0 1444.7 1242.3 1448.0 1242.7 1446.4 1243.0 1436.6 1243.3 1436.8 1243.6 1445.7 1244.0 1439.2 1244.3 1441.9 1244.6 1443.2 1245.0 1441.1 1245.3 1450.6 1245.6 1449.4 1246.0 1447.4 1246.3 1449.6 1246.6 1444.0 1246.9 1452.3 1247.3 1445.6 1247.6 1456.6 1247.9 1447.9 1248.3 1449.1 1248.6 1457.2 1248.9 1455.8 1249.2 1449.8 1249.6 1457.2 1249.9 1455.5 1250.2 1456.4 1250.6 1459.7 1250.9 1460.5 1251.2 1463.0 1251.5 1461.5 1251.9 1461.7 1252.2 1460.7 1252.5 1468.1 1252.9 1459.3 1253.2 1471.3 1253.5 1473.2 1253.9 1473.8 1254.2 1464.9 1254.5 1474.9 1254.8 1471.6 1255.2 1471.9 1255.5 1479.7 1255.8 1469.5 1256.2 1471.6 1256.5 1464.5 1256.8 1461.1 1257.1 1472.0 1257.5 1473.1 1257.8 1474.7 1258.1 1473.5 1258.5 1464.5 1258.8 1474.7 1259.1 1478.2 1259.4 1480.4 1259.8 1470.4 1260.1 1470.9 1260.4 1472.1 1260.8 1472.6 1261.1 1468.9 1261.4 1473.0 1261.8 1482.6 1262.1 1471.9 1262.4 1468.8 1262.7 1475.6 1263.1 1474.8 1263.4 1479.8 1263.7 1474.1 1264.1 1476.6 1264.4 1474.0 1264.7 1473.5 1265.0 1479.1 1265.4 1478.2 1265.7 1477.5 1266.0 1479.9 1266.4 1474.4 1266.7 1477.8 1267.0 1478.6 1267.3 1482.5 1267.7 1469.8 1268.0 1476.1 1268.3 1479.3 1268.7 1475.0 1269.0 1477.6 1269.3 1479.9 1269.7 1478.9 1270.0 1469.7 1270.3 1471.6 1270.6 1464.9 1271.0 1478.8 1271.3 1476.7 1271.6 1481.1 1272.0 1475.6 1272.3 1470.4 1272.6 1479.2 1272.9 1469.0 1273.3 1474.1 1273.6 1472.9 1273.9 1476.6 1274.3 1476.8 1274.6 1470.9 1274.9 1469.2 1275.3 1471.6 1275.6 1469.0 1275.9 1474.9 1276.2 1472.1 1276.6 1475.8 1276.9 1480.4 1277.2 1465.7 1277.6 1466.3 1277.9 1470.3 1278.2 1469.5 1278.5 1466.0 1278.9 1460.0 1279.2 1477.1 1279.5 1466.5 1279.9 1461.0 1280.2 1455.5 1280.5 1470.8 1280.8 1466.1 1281.2 1464.4 1281.5 1459.9 1281.8 1463.5 1282.2 1462.1 1282.5 1453.2 1282.8 1474.4 1283.2 1465.1 1283.5 1461.8 1283.8 1459.2 1284.1 1460.7 1284.5 1473.2 1284.8 1464.9 1285.1 1458.0 1285.5 1467.3 1285.8 1465.9 1286.1 1466.3 1286.4 1463.9 1286.8 1464.1 1287.1 1466.1 1287.4 1464.7 1287.8 1460.3 1288.1 1462.4 1288.4 1467.1 1288.7 1461.0 1289.1 1467.6 1289.4 1467.4 1289.7 1472.3 1290.1 1470.6 1290.4 1469.3 1290.7 1470.0 1291.1 1473.6 1291.4 1476.3 1291.7 1468.8 1292.0 1467.6 1292.4 1471.4 1292.7 1465.7 1293.0 1472.6 1293.4 1479.8 1293.7 1481.1 1294.0 1484.0 1294.3 1478.6 1294.7 1479.6 1295.0 1477.2 1295.3 1478.1 1295.7 1482.0 1296.0 1485.1 1296.3 1483.7 1296.6 1474.4 1297.0 1485.1 1297.3 1483.7 1297.6 1481.8 1298.0 1485.3 1298.3 1488.8 1298.6 1486.3 1299.0 1483.3 1299.3 1497.8 1299.6 1484.6 1299.9 1489.4 1300.3 1493.0 1300.6 1485.0" fill="none" stroke="#000000" stroke-width="6" stroke-linejoin="round" stroke-linecap="round"/>
<path d="M449.50 1599.9V1499.30A4.2 4.2 0 0 1 457.90 1499.30V1599.9Z" fill="#FF8000"/><rect x="452.60" y="1499.00" width="2.2" height="0.8" fill="#fff" opacity="0.8"/>
<path d="M524.06 1599.9V1555.80A4.2 4.2 0 0 1 532.46 1555.80V1599.9Z" fill="#FF8000"/><rect x="527.16" y="1555.50" width="2.2" height="0.8" fill="#fff" opacity="0.8"/>
<path d="M761.10 1599.9V1541.00A4.2 4.2 0 0 1 769.50 1541.00V1599.9Z" fill="#FF8000"/><rect x="764.20" y="1540.70" width="2.2" height="0.8" fill="#fff" opacity="0.8"/>
<path d="M906.77 1599.9V1550.40A4.2 4.2 0 0 1 915.17 1550.40V1599.9Z" fill="#FF8000"/><rect x="909.87" y="1550.10" width="2.2" height="0.8" fill="#fff" opacity="0.8"/>
<path d="M952.04 1599.9V1572.00A4.2 4.2 0 0 1 960.44 1572.00V1599.9Z" fill="#FF8000"/><rect x="955.14" y="1571.70" width="2.2" height="0.8" fill="#fff" opacity="0.8"/>
<path d="M1121.92 1599.9V1572.00A4.2 4.2 0 0 1 1130.32 1572.00V1599.9Z" fill="#FF8000"/><rect x="1125.02" y="1571.70" width="2.2" height="0.8" fill="#fff" opacity="0.8"/>
<path d="M1242.08 1599.9V1566.60A4.2 4.2 0 0 1 1250.48 1566.60V1599.9Z" fill="#FF8000"/><rect x="1245.18" y="1566.30" width="2.2" height="0.8" fill="#fff" opacity="0.8"/>
<path d="M1281.09 1599.9V1570.60A4.2 4.2 0 0 1 1289.49 1570.60V1599.9Z" fill="#FF8000"/><rect x="1284.19" y="1570.30" width="2.2" height="0.8" fill="#fff" opacity="0.8"/>
<path d="M634.02 1599.9V1499.30A4.2 4.2 0 0 1 642.42 1499.30V1599.9Z" fill="#8000FF"/>
<path d="M740.69 1599.9V1535.40A4.2 4.2 0 0 1 749.09 1535.40V1599.9Z" fill="#8000FF"/>
<path d="M1089.82 1599.9V1551.90A4.2 4.2 0 0 1 1098.22 1551.90V1599.9Z" fill="#8000FF"/>
<rect x="820.4" y="162.9" width="134.5" height="8.2" fill="#FF8000"/>
<rect x="823.3" y="261.2" width="134.8" height="7.8" fill="#8000FF"/>
</svg>
</body></html>
